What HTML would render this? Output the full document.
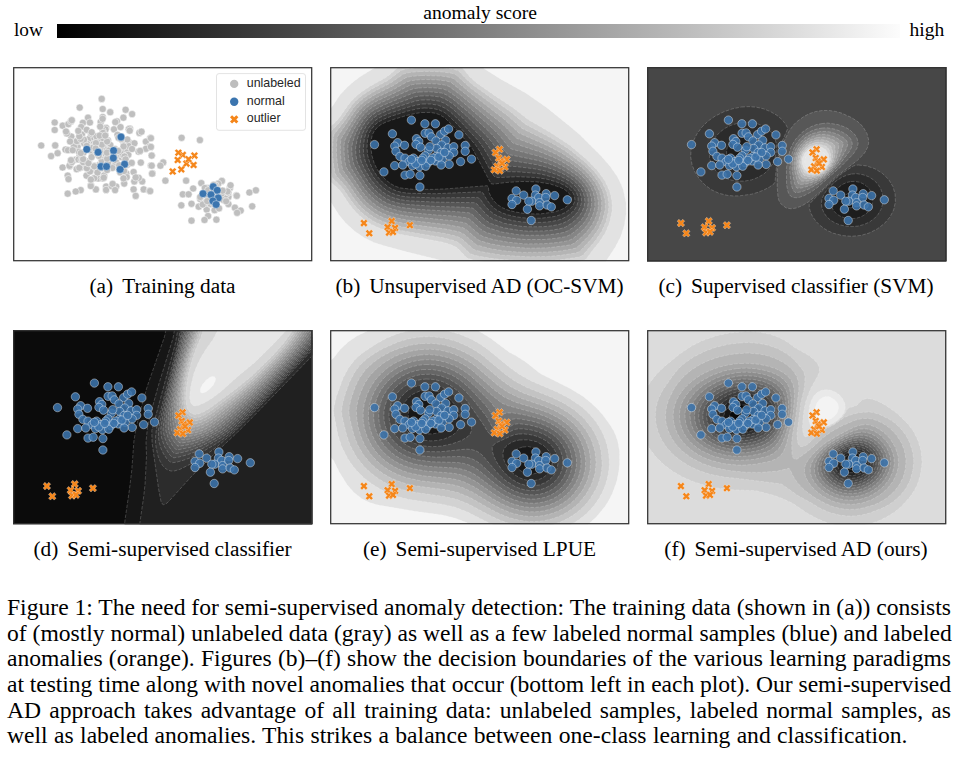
<!DOCTYPE html>
<html><head><meta charset="utf-8">
<style>
html,body{margin:0;padding:0;background:#fff;width:960px;height:760px;overflow:hidden;position:relative}
body{font-family:"Liberation Serif",serif;color:#000}
.t{position:absolute;white-space:nowrap;line-height:1}
.cb{position:absolute;left:57px;top:24px;width:843px;height:14px;background:linear-gradient(to right,#000,#fcfcfc)}
.panel{position:absolute;width:300px;height:195px}
.panel svg{position:absolute;left:0;top:0}
.cap{position:absolute;width:320px;text-align:center;font-size:21.3px;white-space:nowrap;line-height:1}
.g{display:inline-block;width:9px}
.para{position:absolute;left:7px;width:944px;font-size:23.6px;line-height:25.7px}
.ln{display:block;text-align:justify;text-align-last:justify;height:25.7px;white-space:nowrap}
.ln.last{text-align-last:left}
</style></head><body>
<div class="t" style="left:423.3px;top:3.2px;font-size:19.6px">anomaly score</div>
<div class="t" style="left:14px;top:20px;font-size:19.3px">low</div>
<div class="t" style="left:909.5px;top:20px;font-size:19.5px">high</div>
<div class="cb"></div>

<div class="panel" id="pa" style="left:13px;top:67px"><svg width="300" height="195" viewBox="0 0 300 195"><defs><clipPath id="cla"><rect width="299.3" height="194.3"/></clipPath></defs><g clip-path="url(#cla)"><rect width="300" height="195" fill="#fff"/><g fill="#bfbfbf" stroke="#fff" stroke-width="0.5"><circle cx="88.7" cy="31.9" r="3.6"/><circle cx="66.7" cy="40.6" r="3.6"/><circle cx="89.7" cy="42" r="3.6"/><circle cx="89.7" cy="50" r="3.6"/><circle cx="112.6" cy="42.8" r="3.6"/><circle cx="119.1" cy="47.1" r="3.6"/><circle cx="110.4" cy="50.7" r="3.6"/><circle cx="75" cy="50.7" r="3.6"/><circle cx="69.9" cy="55.8" r="3.6"/><circle cx="41.7" cy="55.5" r="3.6"/><circle cx="49.7" cy="58.7" r="3.6"/><circle cx="55.4" cy="57.2" r="3.6"/><circle cx="41.7" cy="63" r="3.6"/><circle cx="103.9" cy="54.3" r="3.6"/><circle cx="93.1" cy="60.9" r="3.6"/><circle cx="101" cy="62.3" r="3.6"/><circle cx="107.5" cy="60.1" r="3.6"/><circle cx="116.9" cy="61.6" r="3.6"/><circle cx="126.4" cy="65.9" r="3.6"/><circle cx="137.2" cy="71" r="3.6"/><circle cx="132.9" cy="74.6" r="3.6"/><circle cx="136.5" cy="79.7" r="3.6"/><circle cx="138.7" cy="88.3" r="3.6"/><circle cx="132.9" cy="81.8" r="3.6"/><circle cx="125.6" cy="84.7" r="3.6"/><circle cx="127.8" cy="95.6" r="3.6"/><circle cx="137.9" cy="98.5" r="3.6"/><circle cx="139.4" cy="106.4" r="3.6"/><circle cx="129.2" cy="114.4" r="3.6"/><circle cx="121.3" cy="114.4" r="3.6"/><circle cx="113.3" cy="106.4" r="3.6"/><circle cx="120.6" cy="105" r="3.6"/><circle cx="111.2" cy="116.6" r="3.6"/><circle cx="120.6" cy="122.4" r="3.6"/><circle cx="122.7" cy="128.9" r="3.6"/><circle cx="130.7" cy="122.4" r="3.6"/><circle cx="136.5" cy="123.8" r="3.6"/><circle cx="103.2" cy="119.5" r="3.6"/><circle cx="93.1" cy="119.5" r="3.6"/><circle cx="82.9" cy="122.4" r="3.6"/><circle cx="77.9" cy="118" r="3.6"/><circle cx="67.7" cy="123.1" r="3.6"/><circle cx="62.7" cy="124.5" r="3.6"/><circle cx="54.7" cy="126.7" r="3.6"/><circle cx="54.7" cy="108.6" r="3.6"/><circle cx="73.5" cy="108.6" r="3.6"/><circle cx="57.6" cy="96.3" r="3.6"/><circle cx="67.7" cy="100.6" r="3.6"/><circle cx="62.7" cy="92.7" r="3.6"/><circle cx="38.1" cy="89.1" r="3.6"/><circle cx="44.6" cy="86.2" r="3.6"/><circle cx="52.5" cy="82.6" r="3.6"/><circle cx="58.3" cy="69.5" r="3.6"/><circle cx="67" cy="66.6" r="3.6"/><circle cx="76.4" cy="71.7" r="3.6"/><circle cx="61.2" cy="78.2" r="3.6"/><circle cx="90" cy="91.8" r="3.6"/><circle cx="84.8" cy="72.8" r="3.6"/><circle cx="81.4" cy="71.1" r="3.6"/><circle cx="91.1" cy="108.4" r="3.6"/><circle cx="80.6" cy="77.1" r="3.6"/><circle cx="99.3" cy="92.7" r="3.6"/><circle cx="92" cy="72.1" r="3.6"/><circle cx="89.4" cy="98.1" r="3.6"/><circle cx="64.5" cy="79.7" r="3.6"/><circle cx="53.9" cy="66.4" r="3.6"/><circle cx="55" cy="83.2" r="3.6"/><circle cx="65.9" cy="91.3" r="3.6"/><circle cx="93" cy="84" r="3.6"/><circle cx="42.2" cy="78.4" r="3.6"/><circle cx="89.1" cy="88.8" r="3.6"/><circle cx="60.9" cy="79.4" r="3.6"/><circle cx="71.4" cy="74.1" r="3.6"/><circle cx="110.2" cy="74.1" r="3.6"/><circle cx="89.4" cy="101.2" r="3.6"/><circle cx="78.9" cy="85.2" r="3.6"/><circle cx="92.1" cy="88" r="3.6"/><circle cx="66.7" cy="88.2" r="3.6"/><circle cx="115.8" cy="62.2" r="3.6"/><circle cx="106.3" cy="88.9" r="3.6"/><circle cx="77.8" cy="119" r="3.6"/><circle cx="104.5" cy="67.8" r="3.6"/><circle cx="91.4" cy="96.2" r="3.6"/><circle cx="86.4" cy="97.9" r="3.6"/><circle cx="88.7" cy="97.7" r="3.6"/><circle cx="117.3" cy="76.2" r="3.6"/><circle cx="93.9" cy="79.6" r="3.6"/><circle cx="92.4" cy="68" r="3.6"/><circle cx="79" cy="83.9" r="3.6"/><circle cx="107.1" cy="105.3" r="3.6"/><circle cx="64.9" cy="74.3" r="3.6"/><circle cx="102.3" cy="55.1" r="3.6"/><circle cx="81.2" cy="85.4" r="3.6"/><circle cx="113.9" cy="98" r="3.6"/><circle cx="83.8" cy="81.1" r="3.6"/><circle cx="85.2" cy="111.4" r="3.6"/><circle cx="81.9" cy="82.1" r="3.6"/><circle cx="96.7" cy="85.1" r="3.6"/><circle cx="86.3" cy="69.2" r="3.6"/><circle cx="89.8" cy="79.9" r="3.6"/><circle cx="112.2" cy="97.4" r="3.6"/><circle cx="89.5" cy="97.7" r="3.6"/><circle cx="83.5" cy="103.8" r="3.6"/><circle cx="89.9" cy="96.3" r="3.6"/><circle cx="65.5" cy="92.5" r="3.6"/><circle cx="57.9" cy="54.4" r="3.6"/><circle cx="84.2" cy="72.6" r="3.6"/><circle cx="93.1" cy="122.9" r="3.6"/><circle cx="74.2" cy="77" r="3.6"/><circle cx="93.9" cy="94.9" r="3.6"/><circle cx="86.6" cy="83.7" r="3.6"/><circle cx="103.3" cy="95.3" r="3.6"/><circle cx="70.4" cy="85.7" r="3.6"/><circle cx="90.7" cy="70.1" r="3.6"/><circle cx="94.9" cy="73.3" r="3.6"/><circle cx="108.5" cy="90.1" r="3.6"/><circle cx="91.7" cy="77.5" r="3.6"/><circle cx="87.7" cy="55" r="3.6"/><circle cx="68.5" cy="92.8" r="3.6"/><circle cx="49.6" cy="100.5" r="3.6"/><circle cx="56.8" cy="99.1" r="3.6"/><circle cx="73.9" cy="99.5" r="3.6"/><circle cx="92.5" cy="62.4" r="3.6"/><circle cx="113.7" cy="110.1" r="3.6"/><circle cx="88.7" cy="82.6" r="3.6"/><circle cx="87" cy="71.4" r="3.6"/><circle cx="110.9" cy="78.3" r="3.6"/><circle cx="89" cy="74.3" r="3.6"/><circle cx="78.1" cy="66.6" r="3.6"/><circle cx="113.9" cy="84.5" r="3.6"/><circle cx="108.4" cy="87.2" r="3.6"/><circle cx="76.8" cy="81.8" r="3.6"/><circle cx="79.4" cy="87.1" r="3.6"/><circle cx="82.9" cy="82.2" r="3.6"/><circle cx="63.8" cy="74.1" r="3.6"/><circle cx="121.4" cy="76.3" r="3.6"/><circle cx="70" cy="92.4" r="3.6"/><circle cx="116.7" cy="63.7" r="3.6"/><circle cx="86" cy="76.9" r="3.6"/><circle cx="56.5" cy="98.8" r="3.6"/><circle cx="89.6" cy="88.1" r="3.6"/><circle cx="75.7" cy="94.3" r="3.6"/><circle cx="79.8" cy="84.7" r="3.6"/><circle cx="68.9" cy="67.5" r="3.6"/><circle cx="115.4" cy="78.9" r="3.6"/><circle cx="95.5" cy="86.5" r="3.6"/><circle cx="81.6" cy="78.9" r="3.6"/><circle cx="102" cy="82.2" r="3.6"/><circle cx="87.1" cy="87.4" r="3.6"/><circle cx="112.4" cy="97.9" r="3.6"/><circle cx="97.3" cy="78" r="3.6"/><circle cx="63.7" cy="102.2" r="3.6"/><circle cx="108.4" cy="84.7" r="3.6"/><circle cx="100.3" cy="99.5" r="3.6"/><circle cx="105.8" cy="101.7" r="3.6"/><circle cx="81.3" cy="111.2" r="3.6"/><circle cx="66.3" cy="100.8" r="3.6"/><circle cx="99.4" cy="101" r="3.6"/><circle cx="125.7" cy="110.8" r="3.6"/><circle cx="68.2" cy="60" r="3.6"/><circle cx="105.5" cy="70.8" r="3.6"/><circle cx="89.8" cy="100.4" r="3.6"/><circle cx="58.8" cy="53.2" r="3.6"/><circle cx="94.9" cy="87.7" r="3.6"/><circle cx="85.3" cy="87.6" r="3.6"/><circle cx="73.7" cy="62.8" r="3.6"/><circle cx="86.8" cy="71.5" r="3.6"/><circle cx="58.8" cy="95.1" r="3.6"/><circle cx="88.8" cy="93.5" r="3.6"/><circle cx="71.2" cy="76.5" r="3.6"/><circle cx="71" cy="72.8" r="3.6"/><circle cx="93.7" cy="74.5" r="3.6"/><circle cx="96.8" cy="92.4" r="3.6"/><circle cx="128.5" cy="64.7" r="3.6"/><circle cx="106.9" cy="85.6" r="3.6"/><circle cx="89.7" cy="63.8" r="3.6"/><circle cx="81.3" cy="98.9" r="3.6"/><circle cx="88.4" cy="88.3" r="3.6"/><circle cx="84.5" cy="105.5" r="3.6"/><circle cx="89.6" cy="51.8" r="3.6"/><circle cx="76.9" cy="55.5" r="3.6"/><circle cx="28.2" cy="78.5" r="3.6"/><circle cx="115.3" cy="87.8" r="3.6"/><circle cx="67.7" cy="71.9" r="3.6"/><circle cx="111.5" cy="89.5" r="3.6"/><circle cx="90.9" cy="86.1" r="3.6"/><circle cx="90.7" cy="99.9" r="3.6"/><circle cx="100.5" cy="90.5" r="3.6"/><circle cx="70.2" cy="95.2" r="3.6"/><circle cx="77" cy="104.5" r="3.6"/><circle cx="65.9" cy="84.8" r="3.6"/><circle cx="89.9" cy="65.8" r="3.6"/><circle cx="122.7" cy="110.4" r="3.6"/><circle cx="81.2" cy="99.3" r="3.6"/><circle cx="97.2" cy="45.2" r="3.6"/><circle cx="94.8" cy="86" r="3.6"/><circle cx="91.6" cy="69.8" r="3.6"/><circle cx="84.9" cy="84.1" r="3.6"/><circle cx="112.6" cy="92.4" r="3.6"/><circle cx="89.9" cy="111.5" r="3.6"/><circle cx="79.5" cy="80.8" r="3.6"/><circle cx="55.5" cy="112.1" r="3.6"/><circle cx="108.3" cy="101.7" r="3.6"/><circle cx="102.7" cy="88.8" r="3.6"/><circle cx="94.1" cy="83" r="3.6"/><circle cx="86.1" cy="87.9" r="3.6"/><circle cx="118.7" cy="95.9" r="3.6"/><circle cx="88.9" cy="77.7" r="3.6"/><circle cx="77.9" cy="112.6" r="3.6"/><circle cx="99.6" cy="88.1" r="3.6"/><circle cx="83.4" cy="69.3" r="3.6"/><circle cx="88.7" cy="101" r="3.6"/><circle cx="82.5" cy="83.4" r="3.6"/><circle cx="85.8" cy="88.8" r="3.6"/><circle cx="59.7" cy="83.2" r="3.6"/><circle cx="73.8" cy="101.2" r="3.6"/><circle cx="75.4" cy="96.2" r="3.6"/><circle cx="119" cy="82" r="3.6"/><circle cx="78.6" cy="90.1" r="3.6"/><circle cx="90" cy="71.1" r="3.6"/><circle cx="98.8" cy="119.2" r="3.6"/><circle cx="85.1" cy="83.8" r="3.6"/><circle cx="70.1" cy="92.1" r="3.6"/><circle cx="66.3" cy="69.3" r="3.6"/><circle cx="114.3" cy="72.5" r="3.6"/><circle cx="110.5" cy="111.4" r="3.6"/><circle cx="94.9" cy="95.9" r="3.6"/><circle cx="127.1" cy="83.9" r="3.6"/><circle cx="78.7" cy="65.3" r="3.6"/><circle cx="90.8" cy="110.7" r="3.6"/><circle cx="108.2" cy="71.9" r="3.6"/><circle cx="73.7" cy="78.9" r="3.6"/><circle cx="95.6" cy="83.7" r="3.6"/><circle cx="94.1" cy="91.7" r="3.6"/><circle cx="84.3" cy="86.4" r="3.6"/><circle cx="93.9" cy="85.7" r="3.6"/><circle cx="99.6" cy="116.9" r="3.6"/><circle cx="101.2" cy="87.9" r="3.6"/><circle cx="58" cy="93.2" r="3.6"/><circle cx="53" cy="64.5" r="3.6"/><circle cx="106.2" cy="98.3" r="3.6"/><circle cx="87.2" cy="59.6" r="3.6"/><circle cx="82.9" cy="76.1" r="3.6"/><circle cx="102.1" cy="123.1" r="3.6"/><circle cx="94.1" cy="74.5" r="3.6"/><circle cx="67.8" cy="86.1" r="3.6"/><circle cx="86.6" cy="68.6" r="3.6"/><circle cx="92.2" cy="68.6" r="3.6"/><circle cx="111.1" cy="104" r="3.6"/><circle cx="110.6" cy="79.4" r="3.6"/><circle cx="99.8" cy="84.9" r="3.6"/><circle cx="82.6" cy="81.6" r="3.6"/><circle cx="65.3" cy="63.9" r="3.6"/><circle cx="105.1" cy="83.9" r="3.6"/><circle cx="94.1" cy="103" r="3.6"/><circle cx="57.1" cy="74.5" r="3.6"/><circle cx="168.6" cy="70.8" r="3.6"/><circle cx="186.9" cy="73.1" r="3.6"/><circle cx="152.4" cy="113.7" r="3.6"/><circle cx="173.1" cy="113.7" r="3.6"/><circle cx="188.3" cy="116.1" r="3.6"/><circle cx="180.2" cy="121.5" r="3.6"/><circle cx="169.8" cy="127.3" r="3.6"/><circle cx="175.6" cy="127.3" r="3.6"/><circle cx="168.3" cy="138.3" r="3.6"/><circle cx="178.5" cy="136.8" r="3.6"/><circle cx="185.7" cy="139.7" r="3.6"/><circle cx="193.7" cy="142.6" r="3.6"/><circle cx="201.6" cy="143.2" r="3.6"/><circle cx="195.1" cy="149" r="3.6"/><circle cx="191.5" cy="153" r="3.6"/><circle cx="203.4" cy="152.7" r="3.6"/><circle cx="178.5" cy="153.7" r="3.6"/><circle cx="208.9" cy="113.9" r="3.6"/><circle cx="216.8" cy="121.2" r="3.6"/><circle cx="223.3" cy="128.4" r="3.6"/><circle cx="215.4" cy="129.9" r="3.6"/><circle cx="215.4" cy="137.1" r="3.6"/><circle cx="221.9" cy="140.7" r="3.6"/><circle cx="227.7" cy="143.6" r="3.6"/><circle cx="224.1" cy="145.8" r="3.6"/><circle cx="236.4" cy="125.5" r="3.6"/><circle cx="242.9" cy="123.3" r="3.6"/><circle cx="239.2" cy="139.3" r="3.6"/><circle cx="187.2" cy="132" r="3.6"/><circle cx="208.9" cy="124.8" r="3.6"/><circle cx="206" cy="141.4" r="3.6"/><circle cx="194.4" cy="121.2" r="3.6"/><circle cx="195.8" cy="132.8" r="3.6"/><circle cx="210.3" cy="132.8" r="3.6"/><circle cx="217.5" cy="118.3" r="3.6"/><circle cx="150.2" cy="95.4" r="3.6"/><circle cx="147.4" cy="98.7" r="3.6"/><circle cx="137.9" cy="71.2" r="3.6"/><circle cx="137.9" cy="79.9" r="3.6"/><circle cx="138.7" cy="88.6" r="3.6"/><circle cx="138.7" cy="98.7" r="3.6"/><circle cx="139.1" cy="106.7" r="3.6"/><circle cx="137.2" cy="124.1" r="3.6"/><circle cx="202.6" cy="132.7" r="3.6"/><circle cx="197.6" cy="137.2" r="3.6"/><circle cx="202.9" cy="121.5" r="3.6"/><circle cx="192.6" cy="135.6" r="3.6"/><circle cx="205.2" cy="116.7" r="3.6"/><circle cx="213.1" cy="134.2" r="3.6"/><circle cx="213.1" cy="127.3" r="3.6"/><circle cx="198.3" cy="122.1" r="3.6"/><circle cx="223.8" cy="128.8" r="3.6"/><circle cx="215.3" cy="125.5" r="3.6"/><circle cx="202.5" cy="118.3" r="3.6"/><circle cx="197.6" cy="136.9" r="3.6"/><circle cx="189.7" cy="137.5" r="3.6"/><circle cx="204" cy="122.7" r="3.6"/><circle cx="196.5" cy="126.8" r="3.6"/><circle cx="200.6" cy="126.2" r="3.6"/><circle cx="193.6" cy="127.9" r="3.6"/><circle cx="191.8" cy="121" r="3.6"/><circle cx="200.6" cy="136.2" r="3.6"/><circle cx="187.2" cy="130" r="3.6"/><circle cx="195.2" cy="123.2" r="3.6"/><circle cx="208.7" cy="126.4" r="3.6"/><circle cx="214.5" cy="124.5" r="3.6"/><circle cx="204.5" cy="128.4" r="3.6"/><circle cx="194.2" cy="134.1" r="3.6"/><circle cx="199.6" cy="134.2" r="3.6"/><circle cx="200.6" cy="122.4" r="3.6"/><circle cx="200.1" cy="130.4" r="3.6"/><circle cx="209.6" cy="123.7" r="3.6"/><circle cx="200.6" cy="117.9" r="3.6"/></g><g fill="#3b75af" stroke="#fff" stroke-width="0.4"><circle cx="108" cy="70" r="3.9"/><circle cx="73.8" cy="82.3" r="3.9"/><circle cx="85.1" cy="85.2" r="3.9"/><circle cx="100.6" cy="83.6" r="3.9"/><circle cx="100.3" cy="91" r="3.9"/><circle cx="88" cy="99.5" r="3.9"/><circle cx="93.5" cy="99.5" r="3.9"/><circle cx="111.6" cy="97.2" r="3.9"/><circle cx="107.1" cy="102.4" r="3.9"/><circle cx="200.2" cy="119.7" r="3.9"/><circle cx="204.2" cy="123.3" r="3.9"/><circle cx="190" cy="126.7" r="3.9"/><circle cx="198" cy="127.7" r="3.9"/><circle cx="205.2" cy="131" r="3.9"/><circle cx="199.9" cy="133.9" r="3.9"/><circle cx="203.1" cy="137.5" r="3.9"/></g><g fill="#f5861a" stroke="#fff" stroke-width="0.4"><path d="M171.7 84.1L173.6 86.0L171.7 87.9L173.6 89.8L171.7 91.7L169.8 89.8L167.9 91.7L166.0 89.8L167.9 87.9L166.0 86.0L167.9 84.1L169.8 86.0Z"/><path d="M166.6 89.2L168.5 91.1L166.6 93.0L168.5 94.9L166.6 96.8L164.7 94.9L162.8 96.8L160.9 94.9L162.8 93.0L160.9 91.1L162.8 89.2L164.7 91.1Z"/><path d="M183.3 84.8L185.2 86.7L183.3 88.6L185.2 90.5L183.3 92.4L181.4 90.5L179.5 92.4L177.6 90.5L179.5 88.6L177.6 86.7L179.5 84.8L181.4 86.7Z"/><path d="M175.3 92.8L177.2 94.7L175.3 96.6L177.2 98.5L175.3 100.4L173.4 98.5L171.5 100.4L169.6 98.5L171.5 96.6L169.6 94.7L171.5 92.8L173.4 94.7Z"/><path d="M182.5 94.2L184.4 96.1L182.5 98.0L184.4 99.9L182.5 101.8L180.6 99.9L178.7 101.8L176.8 99.9L178.7 98.0L176.8 96.1L178.7 94.2L180.6 96.1Z"/><path d="M170.2 98.6L172.1 100.5L170.2 102.4L172.1 104.3L170.2 106.2L168.3 104.3L166.4 106.2L164.5 104.3L166.4 102.4L164.5 100.5L166.4 98.6L168.3 100.5Z"/><path d="M161.6 100.7L163.5 102.6L161.6 104.5L163.5 106.4L161.6 108.3L159.7 106.4L157.8 108.3L155.9 106.4L157.8 104.5L155.9 102.6L157.8 100.7L159.7 102.6Z"/><path d="M167.3 81.9L169.2 83.8L167.3 85.7L169.2 87.6L167.3 89.5L165.4 87.6L163.5 89.5L161.6 87.6L163.5 85.7L161.6 83.8L163.5 81.9L165.4 83.8Z"/><path d="M177.5 88.4L179.4 90.3L177.5 92.2L179.4 94.1L177.5 96.0L175.6 94.1L173.7 96.0L171.8 94.1L173.7 92.2L171.8 90.3L173.7 88.4L175.6 90.3Z"/></g><rect x="203.5" y="6.6" width="89" height="56.7" rx="2.5" fill="#fff" fill-opacity="0.8" stroke="#dcdcdc" stroke-width="0.8"/><circle cx="221.2" cy="16.9" r="4.2" fill="#bdbdbd"/><circle cx="221.2" cy="34.7" r="4.2" fill="#3b75af"/><path d="M223.3 48.2L225.4 50.3L223.3 52.4L225.4 54.5L223.3 56.6L221.2 54.5L219.1 56.6L217.0 54.5L219.1 52.4L217.0 50.3L219.1 48.2L221.2 50.3Z" fill="#f5861a"/><g font-family="Liberation Sans, sans-serif" font-size="12.4" fill="#262626"><text x="233.8" y="20.4">unlabeled</text><text x="233.8" y="38.2">normal</text><text x="233.8" y="55.4">outlier</text></g></g><rect x="0.7" y="0.7" width="298" height="193" fill="none" stroke="#333" stroke-width="1.25"/></svg></div>
<div class="panel" id="pb" style="left:330px;top:67px"><svg width="300" height="195" viewBox="0 0 300 195"><defs><clipPath id="clb"><rect width="299.3" height="194.3"/></clipPath></defs><g clip-path="url(#clb)"><rect width="300" height="195" fill="#f5f5f5"/>
<path d="M86.8 -20L115.5 -20.1L124.5 -19.4L137 -17.4L143.5 -14.8L146.6 -12L150.4 -3L154.5 1.9L172 12.9L196 26.2L216.5 40.6L240 59.4L249.5 67.6L271.1 89L280.2 99.5L287.5 110L291.2 117.5L293.3 123L296 135.5L296.1 147L294.3 158.5L290.7 169.5L285.3 180L276.4 193.5L272.4 204.5L270.2 207.5L267.5 209.1L263 210.6L247.5 213.3L233.5 214.5L200.5 215.6L156.5 214.4L139.5 212.8L127.5 210.5L123.5 209L121 207.5L119.5 205.5L117.8 200.5L116 197.5L113.5 195.2L110 193.3L106 191.9L76.5 184.8L54.5 178.8L44 175.4L34 170.6L24.5 164.1L15.5 155.8L8.7 147.5L1.4 136L-0.7 133.5L-5 130.5L-11.5 127.5L-14 125.4L-16.7 120.5L-18.7 113L-20 101.5L-20.6 88.5L-20.1 74L-19.2 65.5L-17.4 57L-15 51.5L-12 48.6L-5 45.9L-1 43.2L2.3 39.5L9.9 28L17.5 19.9L23.5 14.7L30.5 9.6L46.8 -0.5L50.5 -4.5L55.3 -11.5L57.5 -13.5L62 -15.9L68.5 -17.7L77 -19.1L86.8 -20Z" fill="#e2e2e2"/>
<path d="M87.9 -3.5L100.5 -3.7L114 -3.3L125.5 -1.8L131 -0.2L133 1.5L139.5 9.6L146 15.5L166 29.5L183.4 41L198 52.5L220 65.3L239.5 78.1L257 92.8L267.4 103.5L274.7 113.5L279.4 123.5L280.8 128.5L281.9 134.5L282.2 140L282 144.5L279.6 155.5L275.5 165.5L269.5 174.8L262.4 183.5L256 192.3L254 193.4L250.5 194.3L231.5 197L218.5 197.9L197.5 198.4L170.5 197L158.5 195.7L143.5 193.1L137 191.1L127.5 181.1L124.1 179L119 177L112 175.1L70 167.2L57 163.7L48 160.6L41.5 157.4L34.9 153L28.5 147.8L23.5 142.5L18.1 135.5L10.8 124.5L6.5 120L-0.2 114.5L-2.1 111.5L-4.2 99.5L-5.1 87.5L-4.4 70.5L-2.9 63L-1.5 61L5 55.6L9 51.2L17.8 38.5L21.5 33.9L26.5 29L31.5 25L40 19.3L55.5 10.8L60 7.4L68.5 -0.2L75.5 -2.1L87.9 -3.5Z" fill="#d2d2d2"/>
<path d="M88.9 0.5L101.5 0.3L113.5 0.8L124 2.3L128.5 3.8L136.7 12.5L143 18.1L180.7 45L195 56.9L224 72.6L239.5 82.5L255.5 95.6L264.7 105L271.7 114.5L276.2 124L277.6 129L278.5 134.5L278.8 139.5L278.5 144L276.1 154.5L271.9 164L265.5 173.4L253 188.1L251 189.3L247.5 190.2L231 192.7L218 193.6L197.5 194.1L171 192.5L159.5 191.1L147.5 188.9L142.5 187.6L140 186.5L130 176.7L127 174.8L123 173.3L113.5 170.8L72 163.7L60 160.7L51 157.8L44.5 154.8L38 150.7L31 145.1L26.1 140L20.7 133L13.5 122.2L9.5 117.7L3 111.6L1.5 109L-0.3 98.5L-1.2 87L-0.7 71.5L0.4 65.5L1.7 63.5L7.5 57.8L12 52.4L22.8 37L27.5 32.2L33 27.8L41.9 22L57.9 13.5L71 3.4L77 1.8L88.9 0.5Z" fill="#c3c3c3"/>
<path d="M90.1 4.5L101.5 4.4L112.5 5L122 6.3L126 7.8L140.5 21.1L177.3 48.5L192 61.4L220 75.1L234.5 83.4L251 95.8L256.5 100.6L262 106.4L268.7 115.5L272.9 124.5L275.1 134L275.3 139L275 143.5L272.5 153.5L268.3 162.5L262 171.3L250.5 183.7L248.5 185L245.5 186L230.5 188.3L217.5 189.4L198 189.8L172.5 188.2L154.5 185.3L146.7 183.5L143.5 182.3L132 172L129.5 170.4L125.6 169L115 166.5L73.5 160.2L62 157.4L53 154.6L46.5 151.7L41 148.3L34.1 143L29.2 138L23.6 131L16.3 120L6.9 109.5L5.1 106.5L3.6 98L2.6 87L3 72.5L4 67.5L15 53.5L24 40.3L29 35L34.5 30.5L43.5 24.8L60.5 16.1L73.5 7L79 5.6L90.1 4.5Z" fill="#b4b4b4"/>
<path d="M91.5 8.5L111.5 9.1L120 10.4L123.5 11.6L139.5 25.3L174.5 52.5L189 66.1L217 78.4L232 86.2L247.5 96.9L254 102.4L259 107.6L265.5 116L269.6 124.5L271.7 133.5L271.6 142.5L269.1 152L265 160.5L258.5 169L248.5 179L245.5 181.1L241 182.2L230 184L215.5 185.2L192.5 185.4L173.5 183.8L160.5 181.7L146.5 177.9L134 167.2L129 164.8L116 162.1L75 156.6L64.5 154.3L55.5 151.6L49 148.8L43.5 145.6L37 140.6L32 135.7L26.5 129L19.5 118.4L10.5 107.3L8.9 104.5L7.5 97.5L6.5 87L6.7 74.5L7.6 69.5L25.5 43.3L30.5 37.8L36 33.3L45 27.7L62.6 19L75.5 10.9L80.5 9.6L91.5 8.5Z" fill="#a4a4a4"/>
<path d="M86.4 13L94.5 12.5L107.5 12.9L116.3 14L121 15.4L170 55.1L176.5 61L186.5 71.3L210.5 80.3L226.5 87.5L240.5 95.8L251.5 104.2L258.9 112L263.4 118.5L266.9 126.5L268.3 134L268.2 141.5L265.9 150L262.3 157.5L257 164.6L252.2 169.5L244.5 176.1L241.5 177.5L236 178.6L217.5 180.8L198 181.2L174.5 179.3L160.5 176.8L149.5 173.6L146.5 171.6L136 162.4L132.5 160.5L118 157.8L77 153L65.5 150.7L57 148.2L50.7 145.5L45 142.1L38.5 137.1L33.9 132.5L29.5 127L12.8 103L11.5 97.5L10.4 87L10.4 76.5L11.2 71.5L26.5 47L31 41.6L35.5 37.6L45.5 31.1L64 22.3L77 14.9L80.5 13.8L86.4 13Z" fill="#949494"/>
<path d="M87.4 17L95.5 16.6L106.5 16.9L114.5 18L119 19.4L130.5 28L166 58L173.3 65L181.5 74.6L183.5 76.3L210 84.9L223.5 90.3L229.5 93.2L238 98.2L249 106.1L255.9 113L260 118.7L263.2 125.5L264.8 132.5L264.9 139.5L263.3 146.5L260 153.9L255.5 160.2L250 165.8L243 171.4L240 173L235.5 174.2L227 175.6L213.5 176.7L195 176.9L178.5 175.3L163 172.5L152.5 169.3L148.8 167L137.5 157.2L134.5 155.7L122.5 153.7L78.5 149.3L68.5 147.6L60 145.3L54 143L48 139.7L41.5 134.8L36.5 130L31.7 124L16.5 101L15.2 96L14.1 86L14.1 77.5L15 73L20.6 62L27.5 50.8L32 45L37 40.3L42 36.8L47.5 33.7L65.7 25.5L79 18.7L82.5 17.6L87.4 17Z" fill="#858585"/>
<path d="M88.4 21L97 20.6L106 21L113.5 22.1L117.5 23.6L129.5 32.2L162.2 61L169.6 68.5L178.3 79.5L180.4 81.5L183 82.5L208.5 89.1L220.5 93.3L227.5 96.3L235.5 100.6L247 108.4L253.2 114.5L256.9 119.5L259.8 125.5L261.4 131.5L261.6 137.5L260.4 143.5L257.5 150.5L253.8 156L248.5 161.5L242.5 166.2L238.5 168.6L234.5 169.9L226.5 171.2L214 172.5L196 172.6L184 171.5L169.5 169.2L162 167.3L155 164.9L150.5 162L139.5 152.1L137 150.9L123 149L106.5 148L79.5 145.5L70.5 144.2L63 142.3L56.4 140L50.5 136.9L44.5 132.6L39 127.3L34 121.2L23.8 105.5L20.1 99L18.5 91L17.8 81.5L18.2 76.5L19.9 71.5L24 62.5L29.6 53L34.3 47L39.5 42.3L44 39.3L50 36.1L80 22.9L83.5 21.7L88.4 21Z" fill="#767676"/>
<path d="M89.3 25L100.5 24.8L111.5 26L116 27.7L123 32.2L138.8 45.5L159.5 65L165.9 72L175 84.5L177.5 86.9L180 87.8L207.5 93.4L218.5 96.7L226 99.6L233.5 103.3L239 106.5L244.8 110.5L250.1 115.5L253.7 120L256.5 125.5L258 131L258.2 136L257.3 141.5L254.8 147.5L251.6 152.5L248 156.4L242.5 160.9L237.5 164L233 165.6L225.5 167L214.5 168.2L197 168.3L188.5 167.7L172 165.1L158 160.7L152.2 157L142 147.3L139 145.8L123.5 144.4L90 142.5L72 140.6L65 139L58.5 136.9L53 134.1L47.2 130L41.5 124.7L36.1 118L27.8 105L23.7 97L22.1 89L21.7 80.5L22.6 75.5L25.2 67.5L28.5 60.5L33.5 52.6L38.1 47.5L43.2 43.5L54 37.9L80 27.3L84.5 25.7L89.3 25Z" fill="#666666"/>
<path d="M90.3 29L100.5 28.8L110.5 30.1L115.5 32.2L123 37L136.5 49L156.2 68.5L162.1 75.5L172.3 90.5L174.5 92.5L177 93.2L186.5 94.4L206.5 97.7L216.5 100.2L224 102.8L231 105.8L237 109L242.5 112.6L246.9 116.5L250.5 120.7L252.9 125L254.5 130L254.9 134.5L254.1 139.5L252.2 144.5L249.5 148.8L246 152.7L241 156.7L235.5 160L231 161.5L222.5 163.1L214 163.9L197.5 164.1L190 163.5L173 160.7L160.5 156.4L155 152.9L144.5 142.3L142 140.9L131 140.1L105 139.4L75.5 137.3L68 136L61 133.9L55.5 131.2L50 127.5L44 122.1L38.5 115.3L31.2 103.5L27.2 95L25.9 88L25.6 81L27.3 72L29.5 65.5L32.8 59L36.5 53.7L41 49L46 45.4L57 40.2L75.5 33.2L85 29.9L90.3 29Z" fill="#565656"/>
<path d="M91.4 33L100.5 32.9L109 34.1L114.5 36.3L121.7 41L133.2 51.5L152.5 71.5L158 78.5L169 95.9L171.5 98.2L174 98.9L186.5 99.6L204.5 101.8L214.5 103.8L222.5 106.1L228.5 108.4L235 111.5L240.6 115L244.1 118L247.7 122L249.8 125.5L251.1 129.5L251.5 133.5L251 137.5L249.5 141.6L247.2 145.5L243.5 149.5L239 153L234 155.7L229 157.5L220.5 159L213 159.7L198 159.8L191 159.3L174.5 156.4L162.5 151.9L156.5 147.7L147 137L144.5 135.7L105.5 135.1L77 133.7L70 132.6L63.5 130.8L58 128.4L53 125.2L47 120L41 112.8L34.5 102L31 94L29.8 88L29.4 82L30.8 72L32.9 65.5L36 59.5L39.3 55L43.4 51L48.5 47.6L58.5 43.1L75 37.3L85.5 34L91.4 33Z" fill="#474747"/>
<path d="M92.7 37L100.5 37L108.5 38.3L115 41.2L120.4 45L130.4 54.5L148.9 74.5L153.9 81.5L165.5 101.1L168.3 104L171 104.6L189 104.9L206 106.3L212.5 107.4L226 111.1L233.5 114.3L238.5 117.3L244.7 123L246.6 126L247.7 129L248.2 132L248 135L246.9 138.5L245 142L242 145.5L237.5 149L232.5 151.6L227.5 153.3L220 154.7L212.5 155.4L198.5 155.5L192 155L183.5 153.8L176 152.1L170.5 150.2L164.6 147.5L158.5 142.8L154.7 138.5L150 131.8L147.5 130.4L105.5 130.9L78.5 130L71.5 129.1L65.5 127.6L60.5 125.5L56 122.8L49.6 117.5L44 110.9L38.6 102L35.2 94L33.7 88L33.3 81.5L34.3 72L36.2 65.5L38.9 60.5L42.5 56L46 52.9L50.8 50L60 46.1L76 40.8L86 38.1L92.7 37Z" fill="#383838"/>
<path d="M94.2 41L102.5 41.4L109 42.9L115 45.8L120 50L127.5 57.4L145.6 78L149.7 84L161.5 105.5L163.5 108.5L165 109.9L168 110.6L187 109.7L206 110.5L217.5 112.3L227.5 115.3L232.7 117.5L237 120L240.5 122.9L243.1 126L244.5 129.2L244.9 132.5L244.3 135.5L242.5 139.1L239.5 142.5L235.5 145.4L230.5 147.7L225 149.4L211.5 151.2L199 151.2L192.5 150.7L184.5 149.5L177.5 147.8L172 145.8L167 143.3L163.5 140.7L160.8 138L157 133L153 126L151 124.8L105.5 126.7L79.5 126.3L72.5 125.5L67.5 124.3L63 122.6L58.5 120L52.5 115.2L47.3 109.5L43.1 103L39.7 95.5L37.7 88.5L37 81L37.5 72.5L39.3 66L41.9 61.5L45.3 57.5L49 54.6L53.5 52.3L61.9 49L77.5 44.1L87 41.9L94.2 41Z" fill="#282828"/>
<path d="M91.7 45.5L100 45.4L105 46.2L109.1 47.5L114.5 50.6L122.2 58L137.6 75.5L143 82.6L161 116.7L163.5 117.1L176 115.5L191.5 114.5L206.5 114.8L220.5 117L231 120.6L235.2 123L238.3 125.5L240.2 128L241.1 130.5L241.1 133L239.8 136L237.5 138.8L233.5 141.6L229.1 143.5L223.5 145.1L210.5 146.9L200 146.9L193.5 146.3L185.3 145L178 143.1L172.5 140.8L168 138L164.5 134.7L160.9 129.5L158.9 125L158.3 119.5L157 118.7L115.5 121.9L103.5 122.4L82.5 122.3L70.7 121L66 119.5L62 117.5L56.5 113.5L51 107.9L47 102L44.1 96L41.9 88.5L40.8 80.5L41 73.3L42.4 67.5L44.5 63.7L47.5 60.2L50.5 57.9L55 55.5L63 52.6L76.5 48.5L85 46.5L91.7 45.5Z" fill="#181818"/>
<path d="M86.8 -20L115.5 -20.1L124.5 -19.4L137 -17.4L143.5 -14.8L146.6 -12L150.4 -3L154.5 1.9L172 12.9L196 26.2L216.5 40.6L240 59.4L249.5 67.6L271.1 89L280.2 99.5L287.5 110L291.2 117.5L293.3 123L296 135.5L296.1 147L294.3 158.5L290.7 169.5L285.3 180L276.4 193.5L272.4 204.5L270.2 207.5L267.5 209.1L263 210.6L247.5 213.3L233.5 214.5L200.5 215.6L156.5 214.4L139.5 212.8L127.5 210.5L123.5 209L121 207.5L119.5 205.5L117.8 200.5L116 197.5L113.5 195.2L110 193.3L106 191.9L76.5 184.8L54.5 178.8L44 175.4L34 170.6L24.5 164.1L15.5 155.8L8.7 147.5L1.4 136L-0.7 133.5L-5 130.5L-11.5 127.5L-14 125.4L-16.7 120.5L-18.7 113L-20 101.5L-20.6 88.5L-20.1 74L-19.2 65.5L-17.4 57L-15 51.5L-12 48.6L-5 45.9L-1 43.2L2.3 39.5L9.9 28L17.5 19.9L23.5 14.7L30.5 9.6L46.8 -0.5L50.5 -4.5L55.3 -11.5L57.5 -13.5L62 -15.9L68.5 -17.7L77 -19.1L86.8 -20M87.9 -3.5L100.5 -3.7L114 -3.3L125.5 -1.8L131 -0.2L133 1.5L139.5 9.6L146 15.5L166 29.5L183.4 41L198 52.5L220 65.3L239.5 78.1L257 92.8L267.4 103.5L274.7 113.5L279.4 123.5L280.8 128.5L281.9 134.5L282.2 140L282 144.5L279.6 155.5L275.5 165.5L269.5 174.8L262.4 183.5L256 192.3L254 193.4L250.5 194.3L231.5 197L218.5 197.9L197.5 198.4L170.5 197L158.5 195.7L143.5 193.1L137 191.1L127.5 181.1L124.1 179L119 177L112 175.1L70 167.2L57 163.7L48 160.6L41.5 157.4L34.9 153L28.5 147.8L23.5 142.5L18.1 135.5L10.8 124.5L6.5 120L-0.2 114.5L-2.1 111.5L-4.2 99.5L-5.1 87.5L-4.4 70.5L-2.9 63L-1.5 61L5 55.6L9 51.2L17.8 38.5L21.5 33.9L26.5 29L31.5 25L40 19.3L55.5 10.8L60 7.4L68.5 -0.2L75.5 -2.1L87.9 -3.5M88.9 0.5L101.5 0.3L113.5 0.8L124 2.3L128.5 3.8L136.7 12.5L143 18.1L180.7 45L195 56.9L224 72.6L239.5 82.5L255.5 95.6L264.7 105L271.7 114.5L276.2 124L277.6 129L278.5 134.5L278.8 139.5L278.5 144L276.1 154.5L271.9 164L265.5 173.4L253 188.1L251 189.3L247.5 190.2L231 192.7L218 193.6L197.5 194.1L171 192.5L159.5 191.1L147.5 188.9L142.5 187.6L140 186.5L130 176.7L127 174.8L123 173.3L113.5 170.8L72 163.7L60 160.7L51 157.8L44.5 154.8L38 150.7L31 145.1L26.1 140L20.7 133L13.5 122.2L9.5 117.7L3 111.6L1.5 109L-0.3 98.5L-1.2 87L-0.7 71.5L0.4 65.5L1.7 63.5L7.5 57.8L12 52.4L22.8 37L27.5 32.2L33 27.8L41.9 22L57.9 13.5L71 3.4L77 1.8L88.9 0.5M90.1 4.5L101.5 4.4L112.5 5L122 6.3L126 7.8L140.5 21.1L177.3 48.5L192 61.4L220 75.1L234.5 83.4L251 95.8L256.5 100.6L262 106.4L268.7 115.5L272.9 124.5L275.1 134L275.3 139L275 143.5L272.5 153.5L268.3 162.5L262 171.3L250.5 183.7L248.5 185L245.5 186L230.5 188.3L217.5 189.4L198 189.8L172.5 188.2L154.5 185.3L146.7 183.5L143.5 182.3L132 172L129.5 170.4L125.6 169L115 166.5L73.5 160.2L62 157.4L53 154.6L46.5 151.7L41 148.3L34.1 143L29.2 138L23.6 131L16.3 120L6.9 109.5L5.1 106.5L3.6 98L2.6 87L3 72.5L4 67.5L15 53.5L24 40.3L29 35L34.5 30.5L43.5 24.8L60.5 16.1L73.5 7L79 5.6L90.1 4.5M91.5 8.5L111.5 9.1L120 10.4L123.5 11.6L139.5 25.3L174.5 52.5L189 66.1L217 78.4L232 86.2L247.5 96.9L254 102.4L259 107.6L265.5 116L269.6 124.5L271.7 133.5L271.6 142.5L269.1 152L265 160.5L258.5 169L248.5 179L245.5 181.1L241 182.2L230 184L215.5 185.2L192.5 185.4L173.5 183.8L160.5 181.7L146.5 177.9L134 167.2L129 164.8L116 162.1L75 156.6L64.5 154.3L55.5 151.6L49 148.8L43.5 145.6L37 140.6L32 135.7L26.5 129L19.5 118.4L10.5 107.3L8.9 104.5L7.5 97.5L6.5 87L6.7 74.5L7.6 69.5L25.5 43.3L30.5 37.8L36 33.3L45 27.7L62.6 19L75.5 10.9L80.5 9.6L91.5 8.5M86.4 13L94.5 12.5L107.5 12.9L116.3 14L121 15.4L170 55.1L176.5 61L186.5 71.3L210.5 80.3L226.5 87.5L240.5 95.8L251.5 104.2L258.9 112L263.4 118.5L266.9 126.5L268.3 134L268.2 141.5L265.9 150L262.3 157.5L257 164.6L252.2 169.5L244.5 176.1L241.5 177.5L236 178.6L217.5 180.8L198 181.2L174.5 179.3L160.5 176.8L149.5 173.6L146.5 171.6L136 162.4L132.5 160.5L118 157.8L77 153L65.5 150.7L57 148.2L50.7 145.5L45 142.1L38.5 137.1L33.9 132.5L29.5 127L12.8 103L11.5 97.5L10.4 87L10.4 76.5L11.2 71.5L26.5 47L31 41.6L35.5 37.6L45.5 31.1L64 22.3L77 14.9L80.5 13.8L86.4 13M87.4 17L95.5 16.6L106.5 16.9L114.5 18L119 19.4L130.5 28L166 58L173.3 65L181.5 74.6L183.5 76.3L210 84.9L223.5 90.3L229.5 93.2L238 98.2L249 106.1L255.9 113L260 118.7L263.2 125.5L264.8 132.5L264.9 139.5L263.3 146.5L260 153.9L255.5 160.2L250 165.8L243 171.4L240 173L235.5 174.2L227 175.6L213.5 176.7L195 176.9L178.5 175.3L163 172.5L152.5 169.3L148.8 167L137.5 157.2L134.5 155.7L122.5 153.7L78.5 149.3L68.5 147.6L60 145.3L54 143L48 139.7L41.5 134.8L36.5 130L31.7 124L16.5 101L15.2 96L14.1 86L14.1 77.5L15 73L20.6 62L27.5 50.8L32 45L37 40.3L42 36.8L47.5 33.7L65.7 25.5L79 18.7L82.5 17.6L87.4 17M88.4 21L97 20.6L106 21L113.5 22.1L117.5 23.6L129.5 32.2L162.2 61L169.6 68.5L178.3 79.5L180.4 81.5L183 82.5L208.5 89.1L220.5 93.3L227.5 96.3L235.5 100.6L247 108.4L253.2 114.5L256.9 119.5L259.8 125.5L261.4 131.5L261.6 137.5L260.4 143.5L257.5 150.5L253.8 156L248.5 161.5L242.5 166.2L238.5 168.6L234.5 169.9L226.5 171.2L214 172.5L196 172.6L184 171.5L169.5 169.2L162 167.3L155 164.9L150.5 162L139.5 152.1L137 150.9L123 149L106.5 148L79.5 145.5L70.5 144.2L63 142.3L56.4 140L50.5 136.9L44.5 132.6L39 127.3L34 121.2L23.8 105.5L20.1 99L18.5 91L17.8 81.5L18.2 76.5L19.9 71.5L24 62.5L29.6 53L34.3 47L39.5 42.3L44 39.3L50 36.1L80 22.9L83.5 21.7L88.4 21M89.3 25L100.5 24.8L111.5 26L116 27.7L123 32.2L138.8 45.5L159.5 65L165.9 72L175 84.5L177.5 86.9L180 87.8L207.5 93.4L218.5 96.7L226 99.6L233.5 103.3L239 106.5L244.8 110.5L250.1 115.5L253.7 120L256.5 125.5L258 131L258.2 136L257.3 141.5L254.8 147.5L251.6 152.5L248 156.4L242.5 160.9L237.5 164L233 165.6L225.5 167L214.5 168.2L197 168.3L188.5 167.7L172 165.1L158 160.7L152.2 157L142 147.3L139 145.8L123.5 144.4L90 142.5L72 140.6L65 139L58.5 136.9L53 134.1L47.2 130L41.5 124.7L36.1 118L27.8 105L23.7 97L22.1 89L21.7 80.5L22.6 75.5L25.2 67.5L28.5 60.5L33.5 52.6L38.1 47.5L43.2 43.5L54 37.9L80 27.3L84.5 25.7L89.3 25M90.3 29L100.5 28.8L110.5 30.1L115.5 32.2L123 37L136.5 49L156.2 68.5L162.1 75.5L172.3 90.5L174.5 92.5L177 93.2L186.5 94.4L206.5 97.7L216.5 100.2L224 102.8L231 105.8L237 109L242.5 112.6L246.9 116.5L250.5 120.7L252.9 125L254.5 130L254.9 134.5L254.1 139.5L252.2 144.5L249.5 148.8L246 152.7L241 156.7L235.5 160L231 161.5L222.5 163.1L214 163.9L197.5 164.1L190 163.5L173 160.7L160.5 156.4L155 152.9L144.5 142.3L142 140.9L131 140.1L105 139.4L75.5 137.3L68 136L61 133.9L55.5 131.2L50 127.5L44 122.1L38.5 115.3L31.2 103.5L27.2 95L25.9 88L25.6 81L27.3 72L29.5 65.5L32.8 59L36.5 53.7L41 49L46 45.4L57 40.2L75.5 33.2L85 29.9L90.3 29M91.4 33L100.5 32.9L109 34.1L114.5 36.3L121.7 41L133.2 51.5L152.5 71.5L158 78.5L169 95.9L171.5 98.2L174 98.9L186.5 99.6L204.5 101.8L214.5 103.8L222.5 106.1L228.5 108.4L235 111.5L240.6 115L244.1 118L247.7 122L249.8 125.5L251.1 129.5L251.5 133.5L251 137.5L249.5 141.6L247.2 145.5L243.5 149.5L239 153L234 155.7L229 157.5L220.5 159L213 159.7L198 159.8L191 159.3L174.5 156.4L162.5 151.9L156.5 147.7L147 137L144.5 135.7L105.5 135.1L77 133.7L70 132.6L63.5 130.8L58 128.4L53 125.2L47 120L41 112.8L34.5 102L31 94L29.8 88L29.4 82L30.8 72L32.9 65.5L36 59.5L39.3 55L43.4 51L48.5 47.6L58.5 43.1L75 37.3L85.5 34L91.4 33M92.7 37L100.5 37L108.5 38.3L115 41.2L120.4 45L130.4 54.5L148.9 74.5L153.9 81.5L165.5 101.1L168.3 104L171 104.6L189 104.9L206 106.3L212.5 107.4L226 111.1L233.5 114.3L238.5 117.3L244.7 123L246.6 126L247.7 129L248.2 132L248 135L246.9 138.5L245 142L242 145.5L237.5 149L232.5 151.6L227.5 153.3L220 154.7L212.5 155.4L198.5 155.5L192 155L183.5 153.8L176 152.1L170.5 150.2L164.6 147.5L158.5 142.8L154.7 138.5L150 131.8L147.5 130.4L105.5 130.9L78.5 130L71.5 129.1L65.5 127.6L60.5 125.5L56 122.8L49.6 117.5L44 110.9L38.6 102L35.2 94L33.7 88L33.3 81.5L34.3 72L36.2 65.5L38.9 60.5L42.5 56L46 52.9L50.8 50L60 46.1L76 40.8L86 38.1L92.7 37M94.2 41L102.5 41.4L109 42.9L115 45.8L120 50L127.5 57.4L145.6 78L149.7 84L161.5 105.5L163.5 108.5L165 109.9L168 110.6L187 109.7L206 110.5L217.5 112.3L227.5 115.3L232.7 117.5L237 120L240.5 122.9L243.1 126L244.5 129.2L244.9 132.5L244.3 135.5L242.5 139.1L239.5 142.5L235.5 145.4L230.5 147.7L225 149.4L211.5 151.2L199 151.2L192.5 150.7L184.5 149.5L177.5 147.8L172 145.8L167 143.3L163.5 140.7L160.8 138L157 133L153 126L151 124.8L105.5 126.7L79.5 126.3L72.5 125.5L67.5 124.3L63 122.6L58.5 120L52.5 115.2L47.3 109.5L43.1 103L39.7 95.5L37.7 88.5L37 81L37.5 72.5L39.3 66L41.9 61.5L45.3 57.5L49 54.6L53.5 52.3L61.9 49L77.5 44.1L87 41.9L94.2 41M91.7 45.5L100 45.4L105 46.2L109.1 47.5L114.5 50.6L122.2 58L137.6 75.5L143 82.6L161 116.7L163.5 117.1L176 115.5L191.5 114.5L206.5 114.8L220.5 117L231 120.6L235.2 123L238.3 125.5L240.2 128L241.1 130.5L241.1 133L239.8 136L237.5 138.8L233.5 141.6L229.1 143.5L223.5 145.1L210.5 146.9L200 146.9L193.5 146.3L185.3 145L178 143.1L172.5 140.8L168 138L164.5 134.7L160.9 129.5L158.9 125L158.3 119.5L157 118.7L115.5 121.9L103.5 122.4L82.5 122.3L70.7 121L66 119.5L62 117.5L56.5 113.5L51 107.9L47 102L44.1 96L41.9 88.5L40.8 80.5L41 73.3L42.4 67.5L44.5 63.7L47.5 60.2L50.5 57.9L55 55.5L63 52.6L76.5 48.5L85 46.5L91.7 45.5" fill="none" stroke="#fff" stroke-opacity="0.4" stroke-width="0.5" stroke-dasharray="3.5 1.5"/><g fill="#3b73ab" fill-opacity="0.88" stroke="#fff" stroke-opacity="0.65" stroke-width="0.6"><circle cx="81.4" cy="53.1" r="4.2"/><circle cx="94.9" cy="56.8" r="4.2"/><circle cx="105.4" cy="56.8" r="4.2"/><circle cx="62.4" cy="66.8" r="4.2"/><circle cx="44.5" cy="77.6" r="4.2"/><circle cx="95.1" cy="66.3" r="4.2"/><circle cx="99.1" cy="65.9" r="4.2"/><circle cx="101.4" cy="69.9" r="4.2"/><circle cx="110.6" cy="67.6" r="4.2"/><circle cx="114.6" cy="64.2" r="4.2"/><circle cx="118.6" cy="61.9" r="4.2"/><circle cx="128.9" cy="67.9" r="4.2"/><circle cx="86.5" cy="71.7" r="4.2"/><circle cx="88.8" cy="74.5" r="4.2"/><circle cx="85.9" cy="77.4" r="4.2"/><circle cx="90.5" cy="80.2" r="4.2"/><circle cx="67.6" cy="75.7" r="4.2"/><circle cx="64.7" cy="79.1" r="4.2"/><circle cx="74.5" cy="78.3" r="4.2"/><circle cx="65.9" cy="84.3" r="4.2"/><circle cx="69.9" cy="89.4" r="4.2"/><circle cx="75" cy="91.1" r="4.2"/><circle cx="106" cy="73.9" r="4.2"/><circle cx="115.7" cy="73.4" r="4.2"/><circle cx="111.7" cy="78" r="4.2"/><circle cx="106.6" cy="81.4" r="4.2"/><circle cx="98.5" cy="83.1" r="4.2"/><circle cx="118" cy="80.8" r="4.2"/><circle cx="123.7" cy="79.7" r="4.2"/><circle cx="123.7" cy="85.4" r="4.2"/><circle cx="135.2" cy="78.5" r="4.2"/><circle cx="135.2" cy="84.3" r="4.2"/><circle cx="111.1" cy="85.4" r="4.2"/><circle cx="106" cy="89.4" r="4.2"/><circle cx="95.1" cy="88.8" r="4.2"/><circle cx="83.6" cy="91.1" r="4.2"/><circle cx="79.1" cy="94.6" r="4.2"/><circle cx="88.2" cy="94.6" r="4.2"/><circle cx="98" cy="95.7" r="4.2"/><circle cx="105.4" cy="94" r="4.2"/><circle cx="112.3" cy="92.3" r="4.2"/><circle cx="119.2" cy="88.8" r="4.2"/><circle cx="119.2" cy="97.4" r="4.2"/><circle cx="111.1" cy="98" r="4.2"/><circle cx="130.6" cy="94.6" r="4.2"/><circle cx="141.5" cy="92.1" r="4.2"/><circle cx="64.7" cy="98.6" r="4.2"/><circle cx="72.8" cy="98" r="4.2"/><circle cx="82.5" cy="98.6" r="4.2"/><circle cx="89.4" cy="99.7" r="4.2"/><circle cx="95.7" cy="99.2" r="4.2"/><circle cx="53.9" cy="104.9" r="4.2"/><circle cx="75" cy="108.1" r="4.2"/><circle cx="80.2" cy="107.2" r="4.2"/><circle cx="89.9" cy="108.6" r="4.2"/><circle cx="89.9" cy="120" r="4.2"/><circle cx="92.8" cy="91.1" r="4.2"/><circle cx="102.5" cy="91.1" r="4.2"/><circle cx="99.7" cy="79.7" r="4.2"/><circle cx="85.9" cy="96.9" r="4.2"/><circle cx="91.7" cy="93.4" r="4.2"/><circle cx="100.8" cy="93.4" r="4.2"/><circle cx="108.9" cy="90" r="4.2"/><circle cx="114.6" cy="85.4" r="4.2"/><circle cx="81.4" cy="92.3" r="4.2"/><circle cx="186.2" cy="123.9" r="4.2"/><circle cx="193.7" cy="128.1" r="4.2"/><circle cx="182" cy="131.4" r="4.2"/><circle cx="186.7" cy="133.3" r="4.2"/><circle cx="182" cy="137.5" r="4.2"/><circle cx="205.9" cy="122" r="4.2"/><circle cx="205.4" cy="128.1" r="4.2"/><circle cx="208.7" cy="130.5" r="4.2"/><circle cx="201.7" cy="134.2" r="4.2"/><circle cx="198.8" cy="134.2" r="4.2"/><circle cx="209.6" cy="135.6" r="4.2"/><circle cx="209.6" cy="138.9" r="4.2"/><circle cx="216.2" cy="126.7" r="4.2"/><circle cx="215.7" cy="130.5" r="4.2"/><circle cx="224.6" cy="128.6" r="4.2"/><circle cx="217.1" cy="138" r="4.2"/><circle cx="221.3" cy="139.9" r="4.2"/><circle cx="197.4" cy="142.2" r="4.2"/><circle cx="201.2" cy="153.5" r="4.2"/><circle cx="237.3" cy="132.8" r="4.2"/></g><g fill="#f5861a" stroke="#fff" stroke-opacity="0.6" stroke-width="0.5"><path d="M171.5 78.5L173.4 80.4L171.5 82.3L173.4 84.2L171.5 86.1L169.6 84.2L167.7 86.1L165.8 84.2L167.7 82.3L165.8 80.4L167.7 78.5L169.6 80.4Z"/><path d="M167.4 81.7L169.3 83.6L167.4 85.5L169.3 87.4L167.4 89.3L165.5 87.4L163.6 89.3L161.7 87.4L163.6 85.5L161.7 83.6L163.6 81.7L165.5 83.6Z"/><path d="M170.6 87.2L172.5 89.1L170.6 91.0L172.5 92.9L170.6 94.8L168.7 92.9L166.8 94.8L164.9 92.9L166.8 91.0L164.9 89.1L166.8 87.2L168.7 89.1Z"/><path d="M178.7 88.6L180.6 90.5L178.7 92.4L180.6 94.3L178.7 96.2L176.8 94.3L174.9 96.2L173.0 94.3L174.9 92.4L173.0 90.5L174.9 88.6L176.8 90.5Z"/><path d="M172.7 90.5L174.6 92.4L172.7 94.3L174.6 96.2L172.7 98.1L170.8 96.2L168.9 98.1L167.0 96.2L168.9 94.3L167.0 92.4L168.9 90.5L170.8 92.4Z"/><path d="M169.0 95.5L170.9 97.4L169.0 99.3L170.9 101.2L169.0 103.1L167.1 101.2L165.2 103.1L163.3 101.2L165.2 99.3L163.3 97.4L165.2 95.5L167.1 97.4Z"/><path d="M176.8 96.2L178.7 98.1L176.8 100.0L178.7 101.9L176.8 103.8L174.9 101.9L173.0 103.8L171.1 101.9L173.0 100.0L171.1 98.1L173.0 96.2L174.9 98.1Z"/><path d="M166.2 99.0L168.1 100.9L166.2 102.8L168.1 104.7L166.2 106.6L164.3 104.7L162.4 106.6L160.5 104.7L162.4 102.8L160.5 100.9L162.4 99.0L164.3 100.9Z"/><path d="M171.7 99.9L173.6 101.8L171.7 103.7L173.6 105.6L171.7 107.5L169.8 105.6L167.9 107.5L166.0 105.6L167.9 103.7L166.0 101.8L167.9 99.9L169.8 101.8Z"/><path d="M174.0 92.5L175.9 94.4L174.0 96.3L175.9 98.2L174.0 100.1L172.1 98.2L170.2 100.1L168.3 98.2L170.2 96.3L168.3 94.4L170.2 92.5L172.1 94.4Z"/><path d="M35.8 152.3L37.7 154.2L35.8 156.1L37.7 158.0L35.8 159.9L33.9 158.0L32.0 159.9L30.1 158.0L32.0 156.1L30.1 154.2L32.0 152.3L33.9 154.2Z"/><path d="M41.2 162.5L43.1 164.4L41.2 166.3L43.1 168.2L41.2 170.1L39.3 168.2L37.4 170.1L35.5 168.2L37.4 166.3L35.5 164.4L37.4 162.5L39.3 164.4Z"/><path d="M63.6 150.3L65.5 152.2L63.6 154.1L65.5 156.0L63.6 157.9L61.7 156.0L59.8 157.9L57.9 156.0L59.8 154.1L57.9 152.2L59.8 150.3L61.7 152.2Z"/><path d="M59.5 156.4L61.4 158.3L59.5 160.2L61.4 162.1L59.5 164.0L57.6 162.1L55.7 164.0L53.8 162.1L55.7 160.2L53.8 158.3L55.7 156.4L57.6 158.3Z"/><path d="M67.0 157.1L68.9 159.0L67.0 160.9L68.9 162.8L67.0 164.7L65.1 162.8L63.2 164.7L61.3 162.8L63.2 160.9L61.3 159.0L63.2 157.1L65.1 159.0Z"/><path d="M60.9 161.8L62.8 163.7L60.9 165.6L62.8 167.5L60.9 169.4L59.0 167.5L57.1 169.4L55.2 167.5L57.1 165.6L55.2 163.7L57.1 161.8L59.0 163.7Z"/><path d="M64.9 161.1L66.8 163.0L64.9 164.9L66.8 166.8L64.9 168.7L63.0 166.8L61.1 168.7L59.2 166.8L61.1 164.9L59.2 163.0L61.1 161.1L63.0 163.0Z"/><path d="M81.8 154.4L83.7 156.3L81.8 158.2L83.7 160.1L81.8 162.0L79.9 160.1L78.0 162.0L76.1 160.1L78.0 158.2L76.1 156.3L78.0 154.4L79.9 156.3Z"/></g></g><rect x="0.7" y="0.7" width="298" height="193" fill="none" stroke="#333" stroke-width="1.25"/></svg></div>
<div class="panel" id="pc" style="left:647px;top:67px"><svg width="300" height="195" viewBox="0 0 300 195"><defs><clipPath id="clc"><rect width="299.3" height="194.3"/></clipPath></defs><g clip-path="url(#clc)"><rect width="300" height="195" fill="#e6e6e6"/>
<path d="M-40 -40L338 -40L338 233L-40 233L-40 -40ZM167.5 82.9L163.3 84.5L160 87.7L158.3 91L157.7 95L159 99.2L161.5 102L165.5 103.7L170 103.7L173.4 102.5L176.5 100.1L179 96L179.7 92L178.5 87.7L176.3 85L172.5 83L169.5 82.5L167.5 82.9Z" fill="#e4e4e4"/>
<path d="M-40 -40L338 -40L338 233L-40 233L-40 -40ZM167 80L162 82L158 86L156 89.5L155.1 93L155.7 98.5L158 103L160.7 105L165 106.3L171 105.9L173.5 104.9L176.5 103L178.5 101L180.5 98L181.5 96L182.3 92.5L181.9 88.5L181 85.9L178 81.9L174 80L170.5 79.5L167 80Z" fill="#d4d4d4"/>
<path d="M-40 -40L338 -40L338 233L-40 233L-40 -40ZM169.5 77.5L164.5 78.8L160.6 81L156.4 85.5L154.5 89.5L153.6 95L154.3 99.5L157 105L158.5 106.3L160.1 107L165.5 107.9L171 107.1L173.5 106.1L179 102L182.7 96L183.7 92L183.7 88L182.7 84L181 81L179.4 79.5L175.5 77.9L169.5 77.5Z" fill="#c5c5c5"/>
<path d="M-40 -40L338 -40L338 233L-40 233L-40 -40ZM168.5 75.5L163.5 77.1L159.5 79.7L155 84.9L153.1 89L152.1 95.5L152.6 100L155 105.9L156.5 107.9L158 108.8L161.5 109.5L165 109.5L171 108.3L174 107L177.7 104.5L180.3 102L183.4 97.5L184.8 94L185.5 91L185.7 86.5L185 82L183.5 78.8L180.5 76.9L176 75.4L172 75.1L168.5 75.5Z" fill="#b5b5b5"/>
<path d="M-40 -40L338 -40L338 233L-40 233L-40 -40ZM170 72.9L164 74.7L159 77.7L154 83.5L151.8 88L150.7 92.5L150.8 100L152.8 106.5L154.5 109.6L156 111.1L160 111.6L164 111.5L171 109.6L174.5 108L178.6 105L181.1 102.5L184.5 98L186.8 93L188.2 85.5L187.9 79.5L187.2 77.5L183.5 75.1L178.5 73.2L175 72.7L170 72.9Z" fill="#a5a5a5"/>
<path d="M-40 -40L338 -40L338 233L-40 233L-40 -40ZM170.5 70.4L164.5 72.2L158.5 75.7L153 82L150.3 87.5L149.3 91.5L148.9 95.5L149.4 102.5L151.7 110L153.5 113.4L154.5 114.1L159 114.2L164 113.5L170.5 111.3L175 109L180.2 105L184.1 100.5L186.3 97.5L189.2 91.5L191.2 84L191.9 78L191.5 76.5L187.3 73.5L182 71.2L177 70.1L170.5 70.4Z" fill="#969696"/>
<path d="M-40 -40L338 -40L338 233L-40 233L-40 -40ZM172.5 67.5L165.5 69.2L158 73.5L152.6 79.5L149.3 85.5L147.5 92L147 98L147.3 102.5L149.7 112.5L151.3 116.5L152.4 117.5L159 117L164 115.7L171 112.7L176.5 109.4L181.5 105.2L186.5 99.5L190.2 94L193.6 86.5L196.3 77L195.9 75.5L194.5 74.1L189 70.5L183.5 68.4L177.5 67.3L172.5 67.5Z" fill="#868686"/>
<path d="M-40 -40L338 -40L338 233L-40 233L-40 -40ZM173.5 64.5L165 66.7L158 70.7L153 75.7L150.2 79.5L148.1 83.5L145.7 91.5L145 98L145.1 103L147.5 116.3L149 120L150 121.2L154.5 121L162.5 118.8L171 114.6L177 110.5L182.8 105.5L190.8 96.5L194.7 90.5L199.3 82L200.6 78L200.6 75.5L199 73L196 70.3L190.5 67.2L184.5 65.2L179.5 64.4L173.5 64.5Z" fill="#767676"/>
<path d="M-40 -40L338 -40L338 233L-40 233L-40 -40ZM175.5 61L170.5 61.8L166 63.2L162 65.1L157 68.3L153.5 71.4L151.4 74L148.9 77.5L146.3 82.5L143.8 91L142.6 103L144.1 117.5L146.2 123.5L148 125.4L150 125.6L154.5 124.8L162.5 121.8L172 116.2L177.4 112L182.7 107.5L192.1 98L202 85L204.5 80.5L205.3 77L204.6 73.5L202.5 70.3L198.7 67L194 64.4L187.5 62.1L180 60.8L175.5 61Z" fill="#666666"/>
<path d="M-40 -40L338 -40L338 233L-40 233L-40 -40ZM175.5 56.5L169.5 57.6L165 59.3L160.5 61.5L155 65.4L148.8 72L146.2 76L143.7 81L141.2 89.5L140 96.5L139.4 102L139.6 118L140.7 123.5L141.7 126.5L143.5 129L146 130.5L150.5 130.8L156 129.2L164.5 124.7L170.5 120.5L194.1 99.5L206.3 87L210.1 81L211.2 76L209.9 71L207.5 67.2L202.3 62.5L198.5 60.3L191 57.6L180.5 56L175.5 56.5Z" fill="#575757"/>
<path d="M-40 -40L338 -40L338 233L-40 233L-40 -40ZM175.5 43.5L168.8 44.5L162.5 46.6L156.9 49.5L149.5 54.9L146.5 58L142 64.2L136 76.3L133 86.3L131 98L130.3 103.5L130.2 120L131 130L132 133.7L133.3 136L135.5 138.3L139.3 141L144 141.8L149.5 141L155.5 138.5L162 134.5L172.4 125.5L188.5 110.1L210.2 93.5L216.3 87.5L218.2 85L220.5 80.4L221.6 76.5L221.7 73L220 66.6L216.4 60.5L213.5 57.1L210 54.1L204.4 50.5L194.3 46L188.5 44.4L182 43.5L175.5 43.5Z" fill="#474747"/>
<path d="M94.5 40L102 39.6L109.5 40.2L116.5 41.8L123.5 44.6L130 48.4L135 52.6L139 57.8L140.3 60.5L140.5 62L135.8 73L132.8 82L129.6 98L128 115L127 116.8L122.5 120L117 122.9L111 125.3L104.5 127.2L92 128.9L86 128.9L80 128.3L72 126.3L64.5 122.8L58 118L52.4 112L47.9 105L45 97.5L43.7 90L44.1 82L46.2 74.5L49.9 67L55 60L61 54.1L68 49.2L76.5 44.9L85.5 41.8L94.5 40ZM211.3 98L219.5 98.9L228 101.8L235.6 106.5L241.7 112.5L245.9 119.5L248.1 127L248.4 135L246.6 143L243 150L237.4 156.5L230.5 161.8L222 166.1L213.5 168.5L204.5 169.3L195.5 168.6L186.5 166.3L181.5 164.1L177 161.5L173 158.4L169.1 154.5L166.2 150.5L163.8 146L162.3 141L162.2 137.5L166.2 133L184 115.6L192.3 108.5L197 105L206.5 99L209 98.2L211.3 98Z" fill="#393939"/>
<path d="M95.6 55.5L103 55.4L110 56.6L116.2 59L121.5 62.5L125.3 66.5L128 71.5L129.4 77L129.4 83.5L128 90.9L125.5 97L122 102.2L117.5 106.5L111.5 110.2L104.5 112.9L97.5 114.1L90 114.1L84 113L78.5 111L73.5 108.1L69.4 104.5L66 100.1L63.8 95.5L62.6 90.5L62.6 85L63.6 79.5L65.9 74L69 69.3L73.1 65L78 61.3L83.5 58.5L89.5 56.6L95.6 55.5ZM204.4 107L210 106.7L216 107.7L221.5 109.7L226.7 113L230.8 117L233.6 121.5L235.4 126.5L236.1 132L235.5 137.5L233.9 142.5L231 147.5L227.3 151.5L222.5 155L217 157.5L211 159.1L205 159.6L199 159.2L193 157.9L188 155.9L183.5 153.2L179.5 149.5L176.8 145.5L175 141L174.4 136.5L175 132L176.9 127.5L179.9 123L184 118.5L189.2 114L194.5 110.5L199.5 108.3L204.4 107Z" fill="#2b2b2b"/>
<path d="M94.6 69.5L101.5 69.7L107.5 72L110 74L111.6 76L112.9 78.5L113.7 81.5L113.7 84.5L113.1 87.5L111.9 90.5L110 93.2L105 97.2L102 98.5L98.5 99.3L92 99L89 98.1L86 96.5L83.6 94.5L81.6 92L80.3 89.5L79.6 86.5L79.6 83.5L80.2 80.5L83.1 75.5L85.5 73.3L88.3 71.5L94.6 69.5ZM204 114.5L208 114.4L212 115.1L215.6 116.5L219 118.6L221.9 121.5L223.9 124.5L225.2 128L225.8 132L225.5 136L224.5 139.5L222.6 143L220 146L217 148.2L213.5 150L209.5 151.2L205 151.7L200.5 151.4L196.5 150.5L193 149.1L190 147.2L187.5 144.7L185.7 142L184.6 139L184.1 135.5L184.5 132L185.6 128.5L187.5 125L190 121.9L193 119.2L196.5 116.9L200 115.4L204 114.5Z" fill="#1d1d1d"/>
<path d="M201.9 126L205 125.6L208 126.4L210.5 128.5L211.7 131L212 134L211 136.9L209.1 139L206.5 140.4L203.5 140.8L200.5 140.2L197.9 138.5L196.4 136L196.1 133L197.1 130L199.2 127.5L201.9 126Z" fill="#0f0f0f"/>
<path d="M167.5 82.9L163.3 84.5L160 87.7L158.3 91L157.7 95L159 99.2L161.5 102L165.5 103.7L170 103.7L173.4 102.5L176.5 100.1L179 96L179.7 92L178.5 87.7L176.3 85L172.5 83L169.5 82.5L167.5 82.9M167 80L162 82L158 86L156 89.5L155.1 93L155.7 98.5L158 103L160.7 105L165 106.3L171 105.9L173.5 104.9L176.5 103L178.5 101L180.5 98L181.5 96L182.3 92.5L181.9 88.5L181 85.9L178 81.9L174 80L170.5 79.5L167 80M169.5 77.5L164.5 78.8L160.6 81L156.4 85.5L154.5 89.5L153.6 95L154.3 99.5L157 105L158.5 106.3L160.1 107L165.5 107.9L171 107.1L173.5 106.1L179 102L182.7 96L183.7 92L183.7 88L182.7 84L181 81L179.4 79.5L175.5 77.9L169.5 77.5M168.5 75.5L163.5 77.1L159.5 79.7L155 84.9L153.1 89L152.1 95.5L152.6 100L155 105.9L156.5 107.9L158 108.8L161.5 109.5L165 109.5L171 108.3L174 107L177.7 104.5L180.3 102L183.4 97.5L184.8 94L185.5 91L185.7 86.5L185 82L183.5 78.8L180.5 76.9L176 75.4L172 75.1L168.5 75.5M170 72.9L164 74.7L159 77.7L154 83.5L151.8 88L150.7 92.5L150.8 100L152.8 106.5L154.5 109.6L156 111.1L160 111.6L164 111.5L171 109.6L174.5 108L178.6 105L181.1 102.5L184.5 98L186.8 93L188.2 85.5L187.9 79.5L187.2 77.5L183.5 75.1L178.5 73.2L175 72.7L170 72.9M170.5 70.4L164.5 72.2L158.5 75.7L153 82L150.3 87.5L149.3 91.5L148.9 95.5L149.4 102.5L151.7 110L153.5 113.4L154.5 114.1L159 114.2L164 113.5L170.5 111.3L175 109L180.2 105L184.1 100.5L186.3 97.5L189.2 91.5L191.2 84L191.9 78L191.5 76.5L187.3 73.5L182 71.2L177 70.1L170.5 70.4M172.5 67.5L165.5 69.2L158 73.5L152.6 79.5L149.3 85.5L147.5 92L147 98L147.3 102.5L149.7 112.5L151.3 116.5L152.4 117.5L159 117L164 115.7L171 112.7L176.5 109.4L181.5 105.2L186.5 99.5L190.2 94L193.6 86.5L196.3 77L195.9 75.5L194.5 74.1L189 70.5L183.5 68.4L177.5 67.3L172.5 67.5M173.5 64.5L165 66.7L158 70.7L153 75.7L150.2 79.5L148.1 83.5L145.7 91.5L145 98L145.1 103L147.5 116.3L149 120L150 121.2L154.5 121L162.5 118.8L171 114.6L177 110.5L182.8 105.5L190.8 96.5L194.7 90.5L199.3 82L200.6 78L200.6 75.5L199 73L196 70.3L190.5 67.2L184.5 65.2L179.5 64.4L173.5 64.5M175.5 61L170.5 61.8L166 63.2L162 65.1L157 68.3L153.5 71.4L151.4 74L148.9 77.5L146.3 82.5L143.8 91L142.6 103L144.1 117.5L146.2 123.5L148 125.4L150 125.6L154.5 124.8L162.5 121.8L172 116.2L177.4 112L182.7 107.5L192.1 98L202 85L204.5 80.5L205.3 77L204.6 73.5L202.5 70.3L198.7 67L194 64.4L187.5 62.1L180 60.8L175.5 61M175.5 56.5L169.5 57.6L165 59.3L160.5 61.5L155 65.4L148.8 72L146.2 76L143.7 81L141.2 89.5L140 96.5L139.4 102L139.6 118L140.7 123.5L141.7 126.5L143.5 129L146 130.5L150.5 130.8L156 129.2L164.5 124.7L170.5 120.5L194.1 99.5L206.3 87L210.1 81L211.2 76L209.9 71L207.5 67.2L202.3 62.5L198.5 60.3L191 57.6L180.5 56L175.5 56.5M175.5 43.5L168.8 44.5L162.5 46.6L156.9 49.5L149.5 54.9L146.5 58L142 64.2L136 76.3L133 86.3L131 98L130.3 103.5L130.2 120L131 130L132 133.7L133.3 136L135.5 138.3L139.3 141L144 141.8L149.5 141L155.5 138.5L162 134.5L172.4 125.5L188.5 110.1L210.2 93.5L216.3 87.5L218.2 85L220.5 80.4L221.6 76.5L221.7 73L220 66.6L216.4 60.5L213.5 57.1L210 54.1L204.4 50.5L194.3 46L188.5 44.4L182 43.5L175.5 43.5M94.5 40L102 39.6L109.5 40.2L116.5 41.8L123.5 44.6L130 48.4L135 52.6L139 57.8L140.3 60.5L140.5 62L135.8 73L132.8 82L129.6 98L128 115L127 116.8L122.5 120L117 122.9L111 125.3L104.5 127.2L92 128.9L86 128.9L80 128.3L72 126.3L64.5 122.8L58 118L52.4 112L47.9 105L45 97.5L43.7 90L44.1 82L46.2 74.5L49.9 67L55 60L61 54.1L68 49.2L76.5 44.9L85.5 41.8L94.5 40M211.3 98L219.5 98.9L228 101.8L235.6 106.5L241.7 112.5L245.9 119.5L248.1 127L248.4 135L246.6 143L243 150L237.4 156.5L230.5 161.8L222 166.1L213.5 168.5L204.5 169.3L195.5 168.6L186.5 166.3L181.5 164.1L177 161.5L173 158.4L169.1 154.5L166.2 150.5L163.8 146L162.3 141L162.2 137.5L166.2 133L184 115.6L192.3 108.5L197 105L206.5 99L209 98.2L211.3 98M95.6 55.5L103 55.4L110 56.6L116.2 59L121.5 62.5L125.3 66.5L128 71.5L129.4 77L129.4 83.5L128 90.9L125.5 97L122 102.2L117.5 106.5L111.5 110.2L104.5 112.9L97.5 114.1L90 114.1L84 113L78.5 111L73.5 108.1L69.4 104.5L66 100.1L63.8 95.5L62.6 90.5L62.6 85L63.6 79.5L65.9 74L69 69.3L73.1 65L78 61.3L83.5 58.5L89.5 56.6L95.6 55.5M204.4 107L210 106.7L216 107.7L221.5 109.7L226.7 113L230.8 117L233.6 121.5L235.4 126.5L236.1 132L235.5 137.5L233.9 142.5L231 147.5L227.3 151.5L222.5 155L217 157.5L211 159.1L205 159.6L199 159.2L193 157.9L188 155.9L183.5 153.2L179.5 149.5L176.8 145.5L175 141L174.4 136.5L175 132L176.9 127.5L179.9 123L184 118.5L189.2 114L194.5 110.5L199.5 108.3L204.4 107M94.6 69.5L101.5 69.7L107.5 72L110 74L111.6 76L112.9 78.5L113.7 81.5L113.7 84.5L113.1 87.5L111.9 90.5L110 93.2L105 97.2L102 98.5L98.5 99.3L92 99L89 98.1L86 96.5L83.6 94.5L81.6 92L80.3 89.5L79.6 86.5L79.6 83.5L80.2 80.5L83.1 75.5L85.5 73.3L88.3 71.5L94.6 69.5M204 114.5L208 114.4L212 115.1L215.6 116.5L219 118.6L221.9 121.5L223.9 124.5L225.2 128L225.8 132L225.5 136L224.5 139.5L222.6 143L220 146L217 148.2L213.5 150L209.5 151.2L205 151.7L200.5 151.4L196.5 150.5L193 149.1L190 147.2L187.5 144.7L185.7 142L184.6 139L184.1 135.5L184.5 132L185.6 128.5L187.5 125L190 121.9L193 119.2L196.5 116.9L200 115.4L204 114.5M201.9 126L205 125.6L208 126.4L210.5 128.5L211.7 131L212 134L211 136.9L209.1 139L206.5 140.4L203.5 140.8L200.5 140.2L197.9 138.5L196.4 136L196.1 133L197.1 130L199.2 127.5L201.9 126" fill="none" stroke="#fff" stroke-opacity="0.4" stroke-width="0.5" stroke-dasharray="3.5 1.5"/><g fill="#3b73ab" fill-opacity="0.88" stroke="#fff" stroke-opacity="0.65" stroke-width="0.6"><circle cx="81.4" cy="53.1" r="4.2"/><circle cx="94.9" cy="56.8" r="4.2"/><circle cx="105.4" cy="56.8" r="4.2"/><circle cx="62.4" cy="66.8" r="4.2"/><circle cx="44.5" cy="77.6" r="4.2"/><circle cx="95.1" cy="66.3" r="4.2"/><circle cx="99.1" cy="65.9" r="4.2"/><circle cx="101.4" cy="69.9" r="4.2"/><circle cx="110.6" cy="67.6" r="4.2"/><circle cx="114.6" cy="64.2" r="4.2"/><circle cx="118.6" cy="61.9" r="4.2"/><circle cx="128.9" cy="67.9" r="4.2"/><circle cx="86.5" cy="71.7" r="4.2"/><circle cx="88.8" cy="74.5" r="4.2"/><circle cx="85.9" cy="77.4" r="4.2"/><circle cx="90.5" cy="80.2" r="4.2"/><circle cx="67.6" cy="75.7" r="4.2"/><circle cx="64.7" cy="79.1" r="4.2"/><circle cx="74.5" cy="78.3" r="4.2"/><circle cx="65.9" cy="84.3" r="4.2"/><circle cx="69.9" cy="89.4" r="4.2"/><circle cx="75" cy="91.1" r="4.2"/><circle cx="106" cy="73.9" r="4.2"/><circle cx="115.7" cy="73.4" r="4.2"/><circle cx="111.7" cy="78" r="4.2"/><circle cx="106.6" cy="81.4" r="4.2"/><circle cx="98.5" cy="83.1" r="4.2"/><circle cx="118" cy="80.8" r="4.2"/><circle cx="123.7" cy="79.7" r="4.2"/><circle cx="123.7" cy="85.4" r="4.2"/><circle cx="135.2" cy="78.5" r="4.2"/><circle cx="135.2" cy="84.3" r="4.2"/><circle cx="111.1" cy="85.4" r="4.2"/><circle cx="106" cy="89.4" r="4.2"/><circle cx="95.1" cy="88.8" r="4.2"/><circle cx="83.6" cy="91.1" r="4.2"/><circle cx="79.1" cy="94.6" r="4.2"/><circle cx="88.2" cy="94.6" r="4.2"/><circle cx="98" cy="95.7" r="4.2"/><circle cx="105.4" cy="94" r="4.2"/><circle cx="112.3" cy="92.3" r="4.2"/><circle cx="119.2" cy="88.8" r="4.2"/><circle cx="119.2" cy="97.4" r="4.2"/><circle cx="111.1" cy="98" r="4.2"/><circle cx="130.6" cy="94.6" r="4.2"/><circle cx="141.5" cy="92.1" r="4.2"/><circle cx="64.7" cy="98.6" r="4.2"/><circle cx="72.8" cy="98" r="4.2"/><circle cx="82.5" cy="98.6" r="4.2"/><circle cx="89.4" cy="99.7" r="4.2"/><circle cx="95.7" cy="99.2" r="4.2"/><circle cx="53.9" cy="104.9" r="4.2"/><circle cx="75" cy="108.1" r="4.2"/><circle cx="80.2" cy="107.2" r="4.2"/><circle cx="89.9" cy="108.6" r="4.2"/><circle cx="89.9" cy="120" r="4.2"/><circle cx="92.8" cy="91.1" r="4.2"/><circle cx="102.5" cy="91.1" r="4.2"/><circle cx="99.7" cy="79.7" r="4.2"/><circle cx="85.9" cy="96.9" r="4.2"/><circle cx="91.7" cy="93.4" r="4.2"/><circle cx="100.8" cy="93.4" r="4.2"/><circle cx="108.9" cy="90" r="4.2"/><circle cx="114.6" cy="85.4" r="4.2"/><circle cx="81.4" cy="92.3" r="4.2"/><circle cx="186.2" cy="123.9" r="4.2"/><circle cx="193.7" cy="128.1" r="4.2"/><circle cx="182" cy="131.4" r="4.2"/><circle cx="186.7" cy="133.3" r="4.2"/><circle cx="182" cy="137.5" r="4.2"/><circle cx="205.9" cy="122" r="4.2"/><circle cx="205.4" cy="128.1" r="4.2"/><circle cx="208.7" cy="130.5" r="4.2"/><circle cx="201.7" cy="134.2" r="4.2"/><circle cx="198.8" cy="134.2" r="4.2"/><circle cx="209.6" cy="135.6" r="4.2"/><circle cx="209.6" cy="138.9" r="4.2"/><circle cx="216.2" cy="126.7" r="4.2"/><circle cx="215.7" cy="130.5" r="4.2"/><circle cx="224.6" cy="128.6" r="4.2"/><circle cx="217.1" cy="138" r="4.2"/><circle cx="221.3" cy="139.9" r="4.2"/><circle cx="197.4" cy="142.2" r="4.2"/><circle cx="201.2" cy="153.5" r="4.2"/><circle cx="237.3" cy="132.8" r="4.2"/></g><g fill="#f5861a" stroke="#fff" stroke-opacity="0.6" stroke-width="0.5"><path d="M171.5 78.5L173.4 80.4L171.5 82.3L173.4 84.2L171.5 86.1L169.6 84.2L167.7 86.1L165.8 84.2L167.7 82.3L165.8 80.4L167.7 78.5L169.6 80.4Z"/><path d="M167.4 81.7L169.3 83.6L167.4 85.5L169.3 87.4L167.4 89.3L165.5 87.4L163.6 89.3L161.7 87.4L163.6 85.5L161.7 83.6L163.6 81.7L165.5 83.6Z"/><path d="M170.6 87.2L172.5 89.1L170.6 91.0L172.5 92.9L170.6 94.8L168.7 92.9L166.8 94.8L164.9 92.9L166.8 91.0L164.9 89.1L166.8 87.2L168.7 89.1Z"/><path d="M178.7 88.6L180.6 90.5L178.7 92.4L180.6 94.3L178.7 96.2L176.8 94.3L174.9 96.2L173.0 94.3L174.9 92.4L173.0 90.5L174.9 88.6L176.8 90.5Z"/><path d="M172.7 90.5L174.6 92.4L172.7 94.3L174.6 96.2L172.7 98.1L170.8 96.2L168.9 98.1L167.0 96.2L168.9 94.3L167.0 92.4L168.9 90.5L170.8 92.4Z"/><path d="M169.0 95.5L170.9 97.4L169.0 99.3L170.9 101.2L169.0 103.1L167.1 101.2L165.2 103.1L163.3 101.2L165.2 99.3L163.3 97.4L165.2 95.5L167.1 97.4Z"/><path d="M176.8 96.2L178.7 98.1L176.8 100.0L178.7 101.9L176.8 103.8L174.9 101.9L173.0 103.8L171.1 101.9L173.0 100.0L171.1 98.1L173.0 96.2L174.9 98.1Z"/><path d="M166.2 99.0L168.1 100.9L166.2 102.8L168.1 104.7L166.2 106.6L164.3 104.7L162.4 106.6L160.5 104.7L162.4 102.8L160.5 100.9L162.4 99.0L164.3 100.9Z"/><path d="M171.7 99.9L173.6 101.8L171.7 103.7L173.6 105.6L171.7 107.5L169.8 105.6L167.9 107.5L166.0 105.6L167.9 103.7L166.0 101.8L167.9 99.9L169.8 101.8Z"/><path d="M174.0 92.5L175.9 94.4L174.0 96.3L175.9 98.2L174.0 100.1L172.1 98.2L170.2 100.1L168.3 98.2L170.2 96.3L168.3 94.4L170.2 92.5L172.1 94.4Z"/><path d="M35.8 152.3L37.7 154.2L35.8 156.1L37.7 158.0L35.8 159.9L33.9 158.0L32.0 159.9L30.1 158.0L32.0 156.1L30.1 154.2L32.0 152.3L33.9 154.2Z"/><path d="M41.2 162.5L43.1 164.4L41.2 166.3L43.1 168.2L41.2 170.1L39.3 168.2L37.4 170.1L35.5 168.2L37.4 166.3L35.5 164.4L37.4 162.5L39.3 164.4Z"/><path d="M63.6 150.3L65.5 152.2L63.6 154.1L65.5 156.0L63.6 157.9L61.7 156.0L59.8 157.9L57.9 156.0L59.8 154.1L57.9 152.2L59.8 150.3L61.7 152.2Z"/><path d="M59.5 156.4L61.4 158.3L59.5 160.2L61.4 162.1L59.5 164.0L57.6 162.1L55.7 164.0L53.8 162.1L55.7 160.2L53.8 158.3L55.7 156.4L57.6 158.3Z"/><path d="M67.0 157.1L68.9 159.0L67.0 160.9L68.9 162.8L67.0 164.7L65.1 162.8L63.2 164.7L61.3 162.8L63.2 160.9L61.3 159.0L63.2 157.1L65.1 159.0Z"/><path d="M60.9 161.8L62.8 163.7L60.9 165.6L62.8 167.5L60.9 169.4L59.0 167.5L57.1 169.4L55.2 167.5L57.1 165.6L55.2 163.7L57.1 161.8L59.0 163.7Z"/><path d="M64.9 161.1L66.8 163.0L64.9 164.9L66.8 166.8L64.9 168.7L63.0 166.8L61.1 168.7L59.2 166.8L61.1 164.9L59.2 163.0L61.1 161.1L63.0 163.0Z"/><path d="M81.8 154.4L83.7 156.3L81.8 158.2L83.7 160.1L81.8 162.0L79.9 160.1L78.0 162.0L76.1 160.1L78.0 158.2L76.1 156.3L78.0 154.4L79.9 156.3Z"/></g></g><rect x="0.7" y="0.7" width="298" height="193" fill="none" stroke="#333" stroke-width="1.25"/></svg></div>
<div class="panel" id="pd" style="left:13px;top:330px"><svg width="300" height="195" viewBox="0 0 300 195"><defs><clipPath id="cld"><rect width="299.3" height="194.3"/></clipPath></defs><g clip-path="url(#cld)"><rect width="300" height="195" fill="#0b0b0b"/>
<path d="M195.4 -39.5L198.5 -40L312.2 -40L324.5 -38.6L331.5 -37.3L338 -35.3L338 -16.4L333.7 -9.5L325.2 2L333.4 24L338 44.7L338 151.1L331.8 174.5L323.3 193L320.2 198.5L307 215.2L290 228.2L279.7 233L127.6 233L119 229.3L114 225.9L112 224L109.5 219.5L109.4 214L110.9 199L118.3 144.5L119.8 129L120.9 111.5L122.9 99L126.3 84L134.2 56.5L151.5 6.7L153.5 -3L155.9 -23L157.2 -25.5L159.5 -28.2L164 -31.2L167.5 -32.9L176 -35.8L185 -37.8L195.4 -39.5Z" fill="#161616"/>
<path d="M208.9 -39.5L212.3 -40L301.4 -40L303.5 -39.4L309 -39.3L324.5 -37.6L331 -36.3L338 -34.3L338 -18.7L331.1 -8.5L323.1 1L322.6 2.5L324.8 10L330 25L335 49.5L336.1 59.5L336.8 61L338 61.6L338 133.6L336.5 134.5L335.8 136L334.5 147.6L328 172.9L319.5 191.5L317 196L304 212.5L288.5 224.5L275.5 230.2L273.7 231.5L273 233L145.1 233L133.5 227.5L128.8 224.5L127 222.7L124.6 218.5L126.7 194L130.7 166.5L132.6 148L133.5 126L133 112.5L134.5 97.5L136.8 86.5L142.7 64.5L160 8.2L162.2 -4L163.3 -19L164.1 -23L165.9 -26L167.8 -28L173 -31.3L177 -32.9L182.5 -34.7L192 -36.9L208.9 -39.5Z" fill="#202020"/>
<path d="M212.5 -39.5L215.3 -40L290.3 -40L292 -39.5L300.5 -39.3L324.5 -36.9L331 -35.7L338 -33.6L338 -20.1L336.7 -19L331.5 -10.8L322.3 0L319 4.9L304 20.9L239.3 87.5L224 102.7L196.5 128.5L179.5 145.3L155.5 171.7L152.5 174.2L150 174.5L148.8 173.5L148 171.6L145.6 159L139.1 113L138.8 100.5L162.5 12.9L165.3 -3.5L166.6 -23L168 -25.5L169.9 -27.5L174.3 -30.5L178.5 -32.4L185.5 -34.7L194.5 -36.8L212.5 -39.5Z" fill="#2c2c2c"/>
<path d="M214.2 -39.5L218.4 -40L286.3 -40L291.5 -39L308.5 -38L324 -36.3L330.7 -35L338 -32.9L338 -22.8L336.5 -21.4L332.4 -15.5L326.5 -8.3L295 24.5L247 76.1L223.5 99.9L216.3 106.5L198.5 120.8L183.5 131.1L171 137.6L166 139.7L161 141L156.5 140.6L153.5 139.3L150.5 136.6L147.7 132.5L146 128.6L143.1 117.5L142.5 112.5L142.6 105.5L143.4 99L145.7 88L165 12.8L167.7 -3.5L169.1 -23.5L171 -26.5L173 -28.3L177.4 -31L183 -33.2L195 -36.4L214.2 -39.5Z" fill="#363636"/>
<path d="M216.7 -39.5L219.8 -40L276.4 -40L308.5 -37.3L324.5 -35L338 -31.3L338 -26.5L336.1 -25.5L328.3 -14L313.6 2.5L302 14.6L246 75.4L221.5 100L211.5 108L203.5 113.5L186 123.9L176.5 128.1L167.5 131.2L161 132.6L158 132.3L155 130.1L152.1 126.5L150 122.9L147.4 117L145.5 107.5L145.4 100L149.3 80L167.3 8L169.5 -8L169.7 -16L170.4 -23L172.5 -26.4L176 -29.1L184.2 -33L198 -36.7L216.7 -39.5Z" fill="#414141"/>
<path d="M218.8 -39.5L220.6 -40L270.8 -40L288 -38.6L308 -36.1L323 -33L332.2 -30L333.6 -29L333.8 -28L330.3 -21.5L326.2 -15.5L311.9 1.5L250.9 68L235.9 83.5L220.5 98.4L214 103.6L204.5 110L189 118.7L183.5 121.3L174 124.8L165 127.2L160 127.7L158.3 126.5L155.5 123.3L151 115.6L148.5 107.5L147.7 99.5L150 84.5L155.1 61L168.4 8L170.7 -7.5L171.6 -22.5L173.3 -25.5L177 -28.6L185.9 -33L198.5 -36.5L209 -38.4L218.8 -39.5Z" fill="#4b4b4b"/>
<path d="M219.9 -39.5L222 -40L267.3 -40L288 -38.1L307.5 -34.4L322.5 -30.1L328.5 -27.8L329.2 -27L328.9 -25.5L325.9 -20L320.7 -12.5L310.1 0.5L288.6 25L249.5 67.1L234.3 82.5L219.5 96.6L213.6 101.5L208.5 104.9L198.5 110.9L188.5 116L182 118.7L173 121.6L164.5 123.4L161.5 123.4L159.5 121.7L156.5 117.8L153 111.2L151.6 107.5L150.3 101.5L150.3 95.5L152.3 81L156.3 61L170.2 5L172.1 -7.5L173.1 -22.5L174.6 -25L178 -28.1L187.6 -33L195 -35.4L201.5 -36.9L219.9 -39.5Z" fill="#565656"/>
<path d="M220.7 -39.5L224.2 -40L263.7 -40L287.5 -37.5L299.5 -34.8L313 -30.4L323.5 -26.1L324.5 -25.1L324.4 -24L319 -14.9L308.9 -1.5L287.3 24L248.2 66L232.6 81.5L218.5 94.7L212.3 100L207.5 103.1L198 108.6L189.5 112.8L176 117.6L168 119.4L163.5 119.8L162 118.8L158.9 115L154.7 107L152.7 100L152.9 90L154 80.5L157.6 61L172.1 2L173.5 -7.5L174.4 -22L175.5 -24L179.1 -27.5L184.8 -31L189 -32.9L195 -35L205 -37.4L220.7 -39.5Z" fill="#606060"/>
<path d="M221.9 -39.5L224.8 -40L260.8 -40L284.5 -37.4L298.5 -33.5L307 -30.1L318.5 -24.5L319.7 -23.5L319.7 -22L316.3 -16L306.5 -2L286 23L246.7 65L231.4 80L217.2 93L210.1 99L206.5 101.4L191.5 109.4L178.5 114.1L169.5 116L165 116.2L163 114.5L159.5 109.6L155.7 101L155 95.5L155.2 85.5L156.7 73.5L160.4 54L165.5 32.4L173.5 2L174.8 -7L175.8 -21.5L177.3 -24L180.5 -27.1L186.3 -31L193.1 -34L205.5 -37.3L221.9 -39.5Z" fill="#6a6a6a"/>
<path d="M224.2 -39.5L225.3 -40L259.2 -40L274.5 -38.4L283.6 -37L288 -35.9L297 -32.5L306 -27.9L314.5 -22.5L315.3 -21.5L315.1 -20L311.3 -13.5L301.9 0.5L292.7 12.5L278.9 28.5L245.5 63.7L219 88.5L205.5 99.6L194.5 105.6L186 109.1L179 111.2L172 112.6L167 112.9L165.5 111.9L162.5 108.1L158.3 100L157.2 91L157.3 82L160 62L163.3 46.5L166.8 31.5L174.9 2L176.3 -7L177.2 -21L179.9 -25L184.7 -29L187.8 -31L194.2 -34L206 -37.2L224.2 -39.5Z" fill="#757575"/>
<path d="M224.9 -39.5L225.8 -40L256 -40L273.5 -38.3L282 -36.8L288 -35.1L298.5 -29.9L306.1 -24.5L310.2 -21L311 -20L310.8 -18.5L301 -2L291.5 11L283.3 21L254.6 52L244 62.6L228 77.6L207.7 95L199 101L191 104.7L183 107.6L175 109.3L170.5 109.8L168.5 109.6L164 104.5L161.1 99L159.2 87L159.6 75L161.4 61.5L164.9 44.5L168 31.5L176.3 2L177.7 -7L178.8 -20.5L181.3 -24.5L185.6 -28.5L189.2 -31L195 -33.9L206 -37L224.9 -39.5Z" fill="#7f7f7f"/>
<path d="M225.4 -39.5L226.5 -40L254.8 -40L273.5 -38L281.2 -36.5L288 -34.1L297.2 -28.5L306 -20L306.9 -18.5L306.6 -17L301.7 -7.5L297.6 -1L289.9 10L282.3 19.5L269.8 33.5L253.5 50.6L235.5 68L212.7 88L205.8 93.5L197.8 99L191.5 102.1L183.5 104.9L175 106.5L170.5 106.5L168 104.2L165.1 100.5L162.7 93.5L161.2 85L161.3 74L162.8 61.5L166.1 44.5L169.2 31.5L177.8 2L179.2 -6.5L180.3 -20L182.2 -23.5L186.4 -28L189.7 -30.5L195 -33.5L206 -36.8L225.4 -39.5Z" fill="#8a8a8a"/>
<path d="M226 -39.5L229 -39.9L253.5 -39.9L273 -37.8L281.1 -36L287.4 -33.5L294.9 -28L298.6 -24L301.8 -19.5L302.8 -17.5L302.8 -15.5L298.9 -7.5L293.1 2L287.9 9.5L280.9 18.5L268 32.9L251.6 50L239.1 62L211.5 86L197.5 96.3L191 99.9L185 102L178.5 103.4L172.5 103.5L170.5 101.9L168.1 99L164.5 90.3L163 83.5L162.9 73L165.2 55.5L169.1 36.5L179.3 2L180.7 -6L181.9 -19.5L184.3 -24L187.6 -28L191.5 -31L195.5 -33.3L206 -36.6L226 -39.5Z" fill="#949494"/>
<path d="M227.3 -39.5L253.5 -39.6L272.5 -37.6L281 -35.5L287 -32.7L293 -27.5L297.7 -20.5L299.4 -16L299.1 -14L296.1 -7.5L290.9 1.5L286.3 8.5L279.4 17.5L267 31.5L250.5 48.5L240.1 58.5L213.5 81.4L203.5 89.2L197 93.6L190.5 97.2L185 99.3L179 100.6L174.5 100.5L172.6 99L170 95.5L166.3 88L164.9 82L164.5 72.5L165.6 61L168.4 45L172.5 28.2L180.7 2.5L182.1 -5L183 -17L183.6 -19.5L185.8 -24L188.4 -27.5L192.5 -31L195.8 -33L199.2 -34.5L206.2 -36.5L227.3 -39.5Z" fill="#9e9e9e"/>
<path d="M225.7 -39L254 -39.3L268.4 -38L274.2 -37L280 -35.3L286.5 -32L291.4 -27L294.7 -20.5L296 -15.5L295.7 -12.5L293 -6.5L288.8 1L284.7 7.5L278.3 16L266 30L243.2 53L221.5 71.8L201 88L195 91.8L188 95.3L182 97L177 97.2L175 95.9L171.5 92.1L168.5 87L167.2 83.5L166.1 74L166.8 63.5L169.2 47.5L172.1 34L176.1 20.5L182.2 2.5L183.6 -5L184.7 -17L186.2 -22L187.7 -25L190.4 -28.5L194.5 -31.8L198.8 -34L209.8 -37L225.7 -39Z" fill="#a9a9a9"/>
<path d="M226.8 -39L252.5 -39.1L259 -38.7L272.7 -37L280 -34.7L285.7 -31.5L288.7 -28.5L290.2 -26L291.9 -22L292.7 -17L292.8 -13L292.1 -10.5L286.1 1.5L282.6 7L276 16L264.5 29L242 51.6L220 70.2L200 85.6L194 89.4L188 92.3L182.5 93.8L178.5 93.7L176 92.1L173 89.3L170.4 85.5L168.9 82L167.7 73.5L168.3 62L170.3 48L173.5 33.5L177.3 21L183.8 2.5L185.2 -4.5L186.3 -16.5L187.9 -23L190.1 -27L193 -30L195.7 -32L199.7 -34L209.5 -36.7L226.8 -39Z" fill="#b3b3b3"/>
<path d="M225.4 -38.5L236 -38.9L258.7 -38.5L270.8 -37L279.2 -34.5L285 -31L287.6 -28L288.7 -26L290.1 -21L290.1 -15L289.3 -10L284.3 0.5L281 6L274.5 15L263 28L241 49.9L226.8 62L199 83.3L193 87L188 89.4L183 90.7L180 90.5L177 89L174.5 87L172 83.8L170.6 81L169.3 73L169.7 61.5L171.6 48L174.7 33.5L178.6 21L184.5 5.5L185.8 0.5L189.3 -23.5L191.1 -27L193.3 -29.5L195.8 -31.5L199.6 -33.5L209.7 -36.5L225.4 -38.5Z" fill="#bebebe"/>
<path d="M227 -38.5L253 -38.6L259 -38.2L271.2 -36.5L278.7 -34L284.2 -30.5L286.6 -27.5L287.5 -25.5L288.3 -22L288.1 -18L286.4 -9L283 -1.5L279.9 4L272.5 14.5L261.5 27L239.6 48.5L225.5 60.3L197.5 81.2L191.5 84.8L186.5 87L182.5 87.8L179 86.9L175.4 84.5L173.4 82L172.2 79.5L170.9 72.5L171.2 61.5L172.9 48.5L176 33.7L180 21L186 6L187.6 0L188.8 -7L190.5 -23.7L192 -26.8L194.3 -29.5L197 -31.5L200.9 -33.5L209.1 -36L227 -38.5Z" fill="#c8c8c8"/>
<path d="M226.2 -38L253 -38.2L262.2 -37.5L270.6 -36L277.4 -33.5L283 -29.7L285 -26.8L285.7 -25L286.2 -22L285.9 -18.5L283.5 -9L280.8 -2.5L278 2.9L270.8 13L259.8 25.5L238.5 46.3L222.9 59L196.4 78.5L190.3 82L186 83.8L182.5 84.5L179.5 83.9L177.5 82.8L175.5 80.7L174.4 79L173.5 76L172.7 69.5L172.8 62.5L173.4 56.5L175.5 43.6L178.5 31.5L183 18.5L188.2 6.5L189.8 1L191.2 -7L192 -21.8L193 -25.1L195 -28.1L197.1 -30L200.3 -32L204.9 -34L214.7 -36.5L226.2 -38Z" fill="#d6d6d6"/>
<path d="M226.3 -36.5L236 -36.8L257.5 -36.5L266.4 -35L271.6 -32.5L275.5 -28.4L276.5 -26.3L277.1 -23L275.5 -7.1L274 -0.5L260 14.4L242 32.2L225 46.2L208 61.6L199.5 68L192 72.6L185 75.5L182.5 76L180.5 75.7L178.9 74.5L177.5 72.1L176.8 69L176.7 65.5L177.7 57L180.7 44L184.5 34.2L188 27.3L193.5 18.4L200.3 9L203.9 2L206.7 -8.5L208 -23L209 -26.5L211 -29.6L214.2 -32.5L219.4 -35L226.3 -36.5Z" fill="#e6e6e6"/>
<path d="M198.9 46.5L201.5 46.7L202.7 48.5L202 51.7L200 55.5L196.2 59.5L193.6 61.5L190.5 63L188 62.8L187.4 62L187.2 60L188 57.1L189.5 54.4L193 50.2L196.6 47.5L198.9 46.5Z" fill="#f5f5f5"/>
<path d="M312.2 -40L324.5 -38.6L331.5 -37.3L338 -35.3M338 -16.4L333.7 -9.5L325.2 2L333.4 24L338 44.7M338 151.1L331.8 174.5L323.3 193L320.2 198.5L307 215.2L290 228.2L279.7 233M127.6 233L119 229.3L113 225.1L110.1 221L109.3 218L112 190L116.3 160.5L118.8 140L120.9 111L122.9 99L126.3 84L134.2 56.5L151.5 6.7L153.5 -2.8L155.2 -19.5L156.3 -24L159.5 -28.2L165 -31.8L168.5 -33.3L174.5 -35.4L182 -37.2L198.5 -40M301.4 -40L303.5 -39.4L309 -39.3L324.5 -37.6L331 -36.3L338 -34.3M338 -18.7L331.1 -8.5L323.1 1L322.6 2.5L324.8 10L330 25L335 49.5L336.1 59.5L336.8 61L338 61.6M338 133.6L336.5 134.5L335.8 136L334.5 147.6L328 172.9L319.5 191.5L317 196L304 212.5L288.5 224.5L275.5 230.2L273.7 231.5L273 233M145.1 233L133.5 227.5L128.8 224.5L127 222.7L124.5 218L126.7 194L130.7 166.5L132.1 153.5L133.5 126L133 112L134.4 98L136.8 86.5L145.4 55.5L160 8.2L162.2 -4L163.4 -19.5L163.9 -22.5L164.8 -24.5L167.5 -27.8L172 -30.7L181 -34.2L194.5 -37.4L212.3 -40M290.3 -40L292 -39.5L300.5 -39.3L324 -37L331 -35.7L338 -33.6M338 -20.1L336.7 -19L331.5 -10.8L322.3 0L319 4.9L304.4 20.5L239.3 87.5L224 102.7L196.5 128.5L179.5 145.3L155.5 171.7L152.8 174L150.5 174.7L149 173.7L148.1 172L145.6 159L139.1 113L138.8 100.5L162.5 12.9L165.3 -3.5L166.6 -23L168.5 -26.1L171.5 -28.7L175.3 -31L182 -33.6L194.5 -36.8L215.3 -40M286.3 -40L291.5 -39L308.5 -38L324 -36.3L330.7 -35L338 -32.9M338 -22.8L336.5 -21.4L332.4 -15.5L326.5 -8.3L295 24.5L247.1 76L222.4 101L204.5 116.3L194 124.1L184 130.8L167 139.3L161.5 140.9L158 141L154.5 139.8L152 138.1L149.5 135.3L147 131.1L145 125.8L143.2 118L142.5 112.5L142.6 106L143.4 99L145.7 88L165.5 10.4L167.7 -3.5L169.1 -23.5L171.4 -27L174.8 -29.5L178 -31.3L183.5 -33.4L198.5 -37.1L218.4 -40M276.4 -40L314.9 -36.5L329.2 -34L338 -31.3M338 -26.5L336.1 -25.5L328.3 -14L313.6 2.5L302 14.6L246 75.4L221.5 100L211.5 108L203.5 113.5L186.5 123.6L177 127.9L170.5 130.2L163.5 132.2L159.5 132.7L157 131.8L153.6 128.5L150.6 124L148.2 119L146.3 113L145.5 108L145.4 100L149.3 80L167.3 8L169.5 -8L169.7 -16L170.4 -23L172.5 -26.4L176.5 -29.5L185.6 -33.5L198 -36.7L219.8 -40M270.8 -40L288 -38.6L308 -36.1L323 -33L329.5 -31L333.1 -29.5L333.8 -28.5L329.7 -20.5L323.2 -11.5L312 1.4L283.5 32.8L244.7 74.5L220.5 98.4L214 103.6L207 108.3L190 118.3L183.5 121.3L174.5 124.7L166 127L161 127.8L159 127.2L156.5 124.5L151.2 116L148.5 107.5L147.7 99.5L150 84.5L155.1 61L168.4 8L170.7 -7.5L171.6 -22.5L173.3 -25.5L177 -28.6L185.9 -33L198.5 -36.5L220.6 -40M267.3 -40L288 -38.1L299.5 -36.2L313.5 -32.8L323 -30L328.1 -28L329.2 -27L328.7 -25L325.9 -20L321 -12.9L310.1 0.5L282.5 31.7L243.3 73.5L219.5 96.6L213.6 101.5L208.5 104.9L198.5 110.9L189 115.8L177 120.4L169 122.5L162.5 123.6L161 123.2L159.3 121.5L154 113.5L152 108.5L150.8 104L150.1 100.5L150.2 97.5L152.1 82L156.3 61L170.2 5L172.1 -7.5L173.1 -22.5L174.6 -25L178 -28.1L187.6 -33L195 -35.4L201.5 -36.9L222 -40M263.7 -40L288 -37.4L299.5 -34.8L313 -30.4L322.5 -26.7L324.3 -25.5L324.2 -23.5L321.7 -19L308.2 -0.5L295.5 14.7L281 31L248 66.2L232.6 81.5L218.2 95L212.3 100L207.5 103.1L191.5 111.9L185.5 114.5L177 117.4L164.5 119.8L162.5 119.2L159.7 116L155.1 108L152.7 100L152.9 90.5L154 80.5L157.6 61L172.1 2L173.5 -7.5L174.4 -22L176 -24.5L179.8 -28L185.7 -31.5L193.3 -34.5L205.5 -37.5L224.2 -40M260.8 -40L278.5 -38.3L287 -36.9L298.6 -33.5L306.5 -30.3L317.5 -25.1L319.7 -23.5L319.5 -21.5L317 -17L303.8 1.5L294 13.7L279.8 30L246.7 65L231.4 80L217 93.2L210.1 99L206.5 101.4L192.5 108.9L185.5 111.8L179 114L166 116.3L164 115.5L161 111.8L158.5 107.8L155.8 101.5L155.1 96.5L155.2 86.5L156.7 73.5L160.3 54.5L165.5 32.4L173.5 2L174.8 -7L175.8 -21.5L178.2 -25L181 -27.5L186.3 -31L193.5 -34.1L205.5 -37.3L224.8 -40M259.2 -40L282.5 -37.2L287.7 -36L297 -32.5L306.5 -27.6L314.5 -22.5L315.3 -21L314.1 -18L305.5 -4.5L301.1 1.5L292.7 12.5L278.5 29L245.5 63.7L219 88.5L205.5 99.6L195 105.3L182 110.4L176 111.9L168 113L166 112.4L163.5 109.5L160.6 105L158.5 100.5L157.2 91L157.3 82L160 62L163.3 46.5L166.8 31.5L174.9 2L176.3 -7L177.2 -21L179.9 -25L184.7 -29L187.8 -31L194.2 -34L205.5 -37.1L224 -39.5L225.3 -40M256 -40L273.5 -38.3L281 -37L287.5 -35.3L294.6 -32L299 -29.5L305.4 -25L310.7 -20.5L310.8 -18.5L308.7 -14.5L299.2 0.5L291.1 11.5L283 21.4L254.6 52L244 62.6L227.5 78L208 94.8L199.8 100.5L192.5 104.1L184.5 107.1L177 109L170 109.8L168.4 109.5L166.5 107.7L163 103L161.2 99.5L159.3 88.5L159.4 78L161.4 61.5L164.9 44.5L168 31.5L176.3 2L177.7 -7L178.8 -20.5L181.3 -24.5L185.6 -28.5L189.2 -31L195 -33.9L205.9 -37L224 -39.3L225.8 -40M254.8 -40L273.5 -38L280.5 -36.7L287.5 -34.4L295.1 -30L303.7 -22.5L306.9 -18.5L306.2 -16L301.7 -7.5L289.9 10L276 26.8L247.6 56.5L226 76.5L206.5 93L197 99.5L191.5 102.1L184.5 104.6L178.5 106L172 106.7L170.5 106.5L168.5 104.7L165.4 101L164 98L162.2 91.5L161.3 86L161.2 74.5L162.8 61.5L166.1 44.5L169.2 31.5L177.8 2L179.2 -6.5L180.3 -20L182.2 -23.5L186.4 -28L189.7 -30.5L195 -33.5L205.5 -36.7L214.5 -38.2L224 -39.1L226.5 -40M226 -39.5L229 -39.9L253.5 -39.9L273 -37.8L281.1 -36L287.4 -33.5L294.9 -28L298.6 -24L301.8 -19.5L302.8 -17.5L302.8 -15.5L298.9 -7.5L293.1 2L287.9 9.5L280.9 18.5L268 32.9L251.6 50L239.1 62L211.5 86L197.5 96.3L191 99.9L185 102L178.5 103.4L172.5 103.5L170.5 101.9L168.1 99L164.5 90.3L163 83.5L162.9 73L165.2 55.5L169.1 36.5L179.3 2L180.7 -6L181.9 -19.5L184.3 -24L187.6 -28L191.5 -31L195.5 -33.3L206 -36.6L226 -39.5M227.3 -39.5L253.5 -39.6L272.5 -37.6L281 -35.5L287 -32.7L293 -27.5L297.7 -20.5L299.4 -16L299.1 -14L296.1 -7.5L290.9 1.5L286.3 8.5L279.4 17.5L267 31.5L250.5 48.5L240.1 58.5L213.5 81.4L203.5 89.2L197 93.6L190.5 97.2L185 99.3L179 100.6L174.5 100.5L172.6 99L170 95.5L166.3 88L164.9 82L164.5 72.5L165.6 61L168.4 45L172.5 28.2L180.7 2.5L182.1 -5L183 -17L183.6 -19.5L185.8 -24L188.4 -27.5L192.5 -31L195.8 -33L199.2 -34.5L206.2 -36.5L227.3 -39.5M225.7 -39L254 -39.3L268.4 -38L274.2 -37L280 -35.3L286.5 -32L291.4 -27L294.7 -20.5L296 -15.5L295.7 -12.5L293 -6.5L288.8 1L284.7 7.5L278.3 16L266 30L243.2 53L221.5 71.8L201 88L195 91.8L188 95.3L182 97L177 97.2L175 95.9L171.5 92.1L168.5 87L167.2 83.5L166.1 74L166.8 63.5L169.2 47.5L172.1 34L176.1 20.5L182.2 2.5L183.6 -5L184.7 -17L186.2 -22L187.7 -25L190.4 -28.5L194.5 -31.8L198.8 -34L209.8 -37L225.7 -39M226.8 -39L252.5 -39.1L259 -38.7L272.7 -37L280 -34.7L285.7 -31.5L288.7 -28.5L290.2 -26L291.9 -22L292.7 -17L292.8 -13L292.1 -10.5L286.1 1.5L282.6 7L276 16L264.5 29L242 51.6L220 70.2L200 85.6L194 89.4L188 92.3L182.5 93.8L178.5 93.7L176 92.1L173 89.3L170.4 85.5L168.9 82L167.7 73.5L168.3 62L170.3 48L173.5 33.5L177.3 21L183.8 2.5L185.2 -4.5L186.3 -16.5L187.9 -23L190.1 -27L193 -30L195.7 -32L199.7 -34L209.5 -36.7L226.8 -39M225.4 -38.5L236 -38.9L258.7 -38.5L270.8 -37L279.2 -34.5L285 -31L287.6 -28L288.7 -26L290.1 -21L290.1 -15L289.3 -10L284.3 0.5L281 6L274.5 15L263 28L241 49.9L226.8 62L199 83.3L193 87L188 89.4L183 90.7L180 90.5L177 89L174.5 87L172 83.8L170.6 81L169.3 73L169.7 61.5L171.6 48L174.7 33.5L178.6 21L184.5 5.5L185.8 0.5L189.3 -23.5L191.1 -27L193.3 -29.5L195.8 -31.5L199.6 -33.5L209.7 -36.5L225.4 -38.5M227 -38.5L253 -38.6L259 -38.2L271.2 -36.5L278.7 -34L284.2 -30.5L286.6 -27.5L287.5 -25.5L288.3 -22L288.1 -18L286.4 -9L283 -1.5L279.9 4L272.5 14.5L261.5 27L239.6 48.5L225.5 60.3L197.5 81.2L191.5 84.8L186.5 87L182.5 87.8L179 86.9L175.4 84.5L173.4 82L172.2 79.5L170.9 72.5L171.2 61.5L172.9 48.5L176 33.7L180 21L186 6L187.6 0L188.8 -7L190.5 -23.7L192 -26.8L194.3 -29.5L197 -31.5L200.9 -33.5L209.1 -36L227 -38.5M226.2 -38L253 -38.2L262.2 -37.5L270.6 -36L277.4 -33.5L283 -29.7L285 -26.8L285.7 -25L286.2 -22L285.9 -18.5L283.5 -9L280.8 -2.5L278 2.9L270.8 13L259.8 25.5L238.5 46.3L222.9 59L196.4 78.5L190.3 82L186 83.8L182.5 84.5L179.5 83.9L177.5 82.8L175.5 80.7L174.4 79L173.5 76L172.7 69.5L172.8 62.5L173.4 56.5L175.5 43.6L178.5 31.5L183 18.5L188.2 6.5L189.8 1L191.2 -7L192 -21.8L193 -25.1L195 -28.1L197.1 -30L200.3 -32L204.9 -34L214.7 -36.5L226.2 -38M226.3 -36.5L236 -36.8L257.5 -36.5L266.4 -35L271.6 -32.5L275.5 -28.4L276.5 -26.3L277.1 -23L275.5 -7.1L274 -0.5L260 14.4L242 32.2L225 46.2L208 61.6L199.5 68L192 72.6L185 75.5L182.5 76L180.5 75.7L178.9 74.5L177.5 72.1L176.8 69L176.7 65.5L177.7 57L180.7 44L184.5 34.2L188 27.3L193.5 18.4L200.3 9L203.9 2L206.7 -8.5L208 -23L209 -26.5L211 -29.6L214.2 -32.5L219.4 -35L226.3 -36.5M198.9 46.5L201.5 46.7L202.7 48.5L202 51.7L200 55.5L196.2 59.5L193.6 61.5L190.5 63L188 62.8L187.4 62L187.2 60L188 57.1L189.5 54.4L193 50.2L196.6 47.5L198.9 46.5" fill="none" stroke="#fff" stroke-opacity="0.4" stroke-width="0.5" stroke-dasharray="3.5 1.5"/><g fill="#3b73ab" fill-opacity="0.88" stroke="#fff" stroke-opacity="0.65" stroke-width="0.6"><circle cx="81.4" cy="53.1" r="4.2"/><circle cx="94.9" cy="56.8" r="4.2"/><circle cx="105.4" cy="56.8" r="4.2"/><circle cx="62.4" cy="66.8" r="4.2"/><circle cx="44.5" cy="77.6" r="4.2"/><circle cx="95.1" cy="66.3" r="4.2"/><circle cx="99.1" cy="65.9" r="4.2"/><circle cx="101.4" cy="69.9" r="4.2"/><circle cx="110.6" cy="67.6" r="4.2"/><circle cx="114.6" cy="64.2" r="4.2"/><circle cx="118.6" cy="61.9" r="4.2"/><circle cx="128.9" cy="67.9" r="4.2"/><circle cx="86.5" cy="71.7" r="4.2"/><circle cx="88.8" cy="74.5" r="4.2"/><circle cx="85.9" cy="77.4" r="4.2"/><circle cx="90.5" cy="80.2" r="4.2"/><circle cx="67.6" cy="75.7" r="4.2"/><circle cx="64.7" cy="79.1" r="4.2"/><circle cx="74.5" cy="78.3" r="4.2"/><circle cx="65.9" cy="84.3" r="4.2"/><circle cx="69.9" cy="89.4" r="4.2"/><circle cx="75" cy="91.1" r="4.2"/><circle cx="106" cy="73.9" r="4.2"/><circle cx="115.7" cy="73.4" r="4.2"/><circle cx="111.7" cy="78" r="4.2"/><circle cx="106.6" cy="81.4" r="4.2"/><circle cx="98.5" cy="83.1" r="4.2"/><circle cx="118" cy="80.8" r="4.2"/><circle cx="123.7" cy="79.7" r="4.2"/><circle cx="123.7" cy="85.4" r="4.2"/><circle cx="135.2" cy="78.5" r="4.2"/><circle cx="135.2" cy="84.3" r="4.2"/><circle cx="111.1" cy="85.4" r="4.2"/><circle cx="106" cy="89.4" r="4.2"/><circle cx="95.1" cy="88.8" r="4.2"/><circle cx="83.6" cy="91.1" r="4.2"/><circle cx="79.1" cy="94.6" r="4.2"/><circle cx="88.2" cy="94.6" r="4.2"/><circle cx="98" cy="95.7" r="4.2"/><circle cx="105.4" cy="94" r="4.2"/><circle cx="112.3" cy="92.3" r="4.2"/><circle cx="119.2" cy="88.8" r="4.2"/><circle cx="119.2" cy="97.4" r="4.2"/><circle cx="111.1" cy="98" r="4.2"/><circle cx="130.6" cy="94.6" r="4.2"/><circle cx="141.5" cy="92.1" r="4.2"/><circle cx="64.7" cy="98.6" r="4.2"/><circle cx="72.8" cy="98" r="4.2"/><circle cx="82.5" cy="98.6" r="4.2"/><circle cx="89.4" cy="99.7" r="4.2"/><circle cx="95.7" cy="99.2" r="4.2"/><circle cx="53.9" cy="104.9" r="4.2"/><circle cx="75" cy="108.1" r="4.2"/><circle cx="80.2" cy="107.2" r="4.2"/><circle cx="89.9" cy="108.6" r="4.2"/><circle cx="89.9" cy="120" r="4.2"/><circle cx="92.8" cy="91.1" r="4.2"/><circle cx="102.5" cy="91.1" r="4.2"/><circle cx="99.7" cy="79.7" r="4.2"/><circle cx="85.9" cy="96.9" r="4.2"/><circle cx="91.7" cy="93.4" r="4.2"/><circle cx="100.8" cy="93.4" r="4.2"/><circle cx="108.9" cy="90" r="4.2"/><circle cx="114.6" cy="85.4" r="4.2"/><circle cx="81.4" cy="92.3" r="4.2"/><circle cx="186.2" cy="123.9" r="4.2"/><circle cx="193.7" cy="128.1" r="4.2"/><circle cx="182" cy="131.4" r="4.2"/><circle cx="186.7" cy="133.3" r="4.2"/><circle cx="182" cy="137.5" r="4.2"/><circle cx="205.9" cy="122" r="4.2"/><circle cx="205.4" cy="128.1" r="4.2"/><circle cx="208.7" cy="130.5" r="4.2"/><circle cx="201.7" cy="134.2" r="4.2"/><circle cx="198.8" cy="134.2" r="4.2"/><circle cx="209.6" cy="135.6" r="4.2"/><circle cx="209.6" cy="138.9" r="4.2"/><circle cx="216.2" cy="126.7" r="4.2"/><circle cx="215.7" cy="130.5" r="4.2"/><circle cx="224.6" cy="128.6" r="4.2"/><circle cx="217.1" cy="138" r="4.2"/><circle cx="221.3" cy="139.9" r="4.2"/><circle cx="197.4" cy="142.2" r="4.2"/><circle cx="201.2" cy="153.5" r="4.2"/><circle cx="237.3" cy="132.8" r="4.2"/></g><g fill="#f5861a" stroke="#fff" stroke-opacity="0.6" stroke-width="0.5"><path d="M171.5 78.5L173.4 80.4L171.5 82.3L173.4 84.2L171.5 86.1L169.6 84.2L167.7 86.1L165.8 84.2L167.7 82.3L165.8 80.4L167.7 78.5L169.6 80.4Z"/><path d="M167.4 81.7L169.3 83.6L167.4 85.5L169.3 87.4L167.4 89.3L165.5 87.4L163.6 89.3L161.7 87.4L163.6 85.5L161.7 83.6L163.6 81.7L165.5 83.6Z"/><path d="M170.6 87.2L172.5 89.1L170.6 91.0L172.5 92.9L170.6 94.8L168.7 92.9L166.8 94.8L164.9 92.9L166.8 91.0L164.9 89.1L166.8 87.2L168.7 89.1Z"/><path d="M178.7 88.6L180.6 90.5L178.7 92.4L180.6 94.3L178.7 96.2L176.8 94.3L174.9 96.2L173.0 94.3L174.9 92.4L173.0 90.5L174.9 88.6L176.8 90.5Z"/><path d="M172.7 90.5L174.6 92.4L172.7 94.3L174.6 96.2L172.7 98.1L170.8 96.2L168.9 98.1L167.0 96.2L168.9 94.3L167.0 92.4L168.9 90.5L170.8 92.4Z"/><path d="M169.0 95.5L170.9 97.4L169.0 99.3L170.9 101.2L169.0 103.1L167.1 101.2L165.2 103.1L163.3 101.2L165.2 99.3L163.3 97.4L165.2 95.5L167.1 97.4Z"/><path d="M176.8 96.2L178.7 98.1L176.8 100.0L178.7 101.9L176.8 103.8L174.9 101.9L173.0 103.8L171.1 101.9L173.0 100.0L171.1 98.1L173.0 96.2L174.9 98.1Z"/><path d="M166.2 99.0L168.1 100.9L166.2 102.8L168.1 104.7L166.2 106.6L164.3 104.7L162.4 106.6L160.5 104.7L162.4 102.8L160.5 100.9L162.4 99.0L164.3 100.9Z"/><path d="M171.7 99.9L173.6 101.8L171.7 103.7L173.6 105.6L171.7 107.5L169.8 105.6L167.9 107.5L166.0 105.6L167.9 103.7L166.0 101.8L167.9 99.9L169.8 101.8Z"/><path d="M174.0 92.5L175.9 94.4L174.0 96.3L175.9 98.2L174.0 100.1L172.1 98.2L170.2 100.1L168.3 98.2L170.2 96.3L168.3 94.4L170.2 92.5L172.1 94.4Z"/><path d="M35.8 152.3L37.7 154.2L35.8 156.1L37.7 158.0L35.8 159.9L33.9 158.0L32.0 159.9L30.1 158.0L32.0 156.1L30.1 154.2L32.0 152.3L33.9 154.2Z"/><path d="M41.2 162.5L43.1 164.4L41.2 166.3L43.1 168.2L41.2 170.1L39.3 168.2L37.4 170.1L35.5 168.2L37.4 166.3L35.5 164.4L37.4 162.5L39.3 164.4Z"/><path d="M63.6 150.3L65.5 152.2L63.6 154.1L65.5 156.0L63.6 157.9L61.7 156.0L59.8 157.9L57.9 156.0L59.8 154.1L57.9 152.2L59.8 150.3L61.7 152.2Z"/><path d="M59.5 156.4L61.4 158.3L59.5 160.2L61.4 162.1L59.5 164.0L57.6 162.1L55.7 164.0L53.8 162.1L55.7 160.2L53.8 158.3L55.7 156.4L57.6 158.3Z"/><path d="M67.0 157.1L68.9 159.0L67.0 160.9L68.9 162.8L67.0 164.7L65.1 162.8L63.2 164.7L61.3 162.8L63.2 160.9L61.3 159.0L63.2 157.1L65.1 159.0Z"/><path d="M60.9 161.8L62.8 163.7L60.9 165.6L62.8 167.5L60.9 169.4L59.0 167.5L57.1 169.4L55.2 167.5L57.1 165.6L55.2 163.7L57.1 161.8L59.0 163.7Z"/><path d="M64.9 161.1L66.8 163.0L64.9 164.9L66.8 166.8L64.9 168.7L63.0 166.8L61.1 168.7L59.2 166.8L61.1 164.9L59.2 163.0L61.1 161.1L63.0 163.0Z"/><path d="M81.8 154.4L83.7 156.3L81.8 158.2L83.7 160.1L81.8 162.0L79.9 160.1L78.0 162.0L76.1 160.1L78.0 158.2L76.1 156.3L78.0 154.4L79.9 156.3Z"/></g></g><rect x="0.7" y="0.7" width="298" height="193" fill="none" stroke="#333" stroke-width="1.25"/></svg></div>
<div class="panel" id="pe" style="left:330px;top:330px"><svg width="300" height="195" viewBox="0 0 300 195"><defs><clipPath id="cle"><rect width="299.3" height="194.3"/></clipPath></defs><g clip-path="url(#cle)"><rect width="300" height="195" fill="#f5f5f5"/>
<path d="M74.4 -30L103 -30.2L109.5 -29.7L122.5 -27.4L128.5 -25.4L132 -23.6L135.4 -20.5L137.1 -18L140 -7.8L143 -2.5L160.5 8.3L179.5 22.5L185.5 25.6L196 32.2L210.1 43.5L239.5 58.2L252.5 66.1L260.5 72.4L267.5 79L272.8 85L280.1 95L283.8 101L286.1 106.5L287.9 112L289.5 121.5L289.5 133.5L288.7 141.5L286.8 151L282.3 163.5L278.7 170.5L275.3 176L266.7 186.5L253.8 198.5L252.5 205L251.3 215L249.2 219L245.5 222.4L240.5 225.2L230.5 228.1L220.5 229.6L205.5 230.7L196.5 230.7L182 229.5L174 228.3L163.5 225.3L160.5 224L156 221.1L152.4 217L150.5 212.5L149.5 204.4L148.5 200.1L147.6 198.5L142.8 195.5L135.4 192L124.7 188L112.7 185L85 181.2L47 174.8L39 172.3L32 168.8L24 162.6L17.4 155L9.3 142L3.9 131L1.5 127.9L-1.8 125.5L-6.4 123.5L-16 121.6L-18.5 120.7L-20.4 119.5L-23.2 116.5L-25.7 112L-28.1 104.5L-30.2 91L-30.7 79.5L-30.1 64L-29.1 55.5L-26.9 46L-23.4 39L-21 36.3L-18 34.7L-6.4 33L0.3 30.5L3.6 28L10.2 19.5L18.5 11.7L27.5 5.8L37 1.3L39.1 -1.5L40.5 -5L43.3 -17.5L45.1 -20.5L48.5 -23.3L53.5 -25.9L58 -27.4L66.5 -29.1L74.4 -30Z" fill="#e2e2e2"/>
<path d="M90.1 -1L103 -1.2L116 0.4L129 3.9L141.5 9.2L149.5 13.8L157.5 19.2L180.4 38L189.5 44.5L201.2 51L227 62.1L239 68.2L251 76.3L256.4 81L261.2 86L265.7 91.5L269.3 97L272.6 103L275.3 109.5L277.3 116L278.6 123L279.2 129.5L279.2 136.5L278.4 143.5L276.9 150L274.8 156.5L272.2 162.5L268.9 168.5L265 174.2L260.5 179.5L255.5 184.4L248.5 190L241 194.6L233 198.3L224 201.3L215 203.2L205.5 204L196.5 203.8L187 202.5L177.5 200.2L167.5 196.6L158 192.4L137 181.8L124.5 177L112 174.2L79.5 169.5L70 167.2L61 164.2L51 159.6L42 154.1L34 147.9L26.6 140.5L22.1 135L18 129L11.6 116.5L7.8 104.5L3.7 83.5L3.7 78.5L6.2 67L13.1 48L18.8 37.5L24.5 30.2L28.5 26.2L33.5 22.3L46.5 13.7L56.5 8.2L67.5 3.7L78.5 0.7L90.1 -1Z" fill="#d2d2d2"/>
<path d="M89.8 7L102 6.7L114 8.1L125.5 11.1L137 15.9L145 20.4L152.5 25.5L175.5 44.5L185 51.2L196.5 57.3L221.5 67.2L233 72.7L244.5 80L254.1 88.5L262 98.6L265.1 104L267.9 110L269.9 116L271.2 122L272.1 134L271.6 140L270.6 146L268.9 152L266.5 158L260.4 168.5L256.5 173.5L252 178.2L245.5 183.6L238.5 188.1L231 191.8L222.5 194.7L214 196.5L205.5 197.3L197 197L188.5 195.9L179 193.5L169 189.8L159.5 185.3L138.5 174.1L126.5 169.3L114 166.4L82.5 162.1L73.5 159.9L65 157.2L56.5 153.4L48.5 148.7L41 143.1L34.5 137L26.5 127L20.2 115.5L16.7 105.5L12 86L11.5 81L12.6 73.5L15.5 63L19.8 51.5L24.8 42L30 35.1L37.3 28.5L44.5 23.4L52.5 18.8L68.5 11.8L79 8.7L89.8 7Z" fill="#c3c3c3"/>
<path d="M91.8 13.5L102.5 13.4L113.5 14.8L124 17.7L134 21.9L141.5 26.1L148.7 31L171.5 50.2L181.2 57L192.5 62.7L217 71.7L228.5 76.8L239.5 83.5L248.9 91.5L256.2 100.5L261.6 110.5L265 121.5L266.1 132.5L265 143.5L261.5 154.5L256 164.5L248.5 173.4L242.5 178.6L236 182.9L229 186.4L221.5 189L213.5 190.8L205.5 191.5L197.5 191.4L189.5 190.3L180 187.9L170 184L161 179.4L140.5 167.8L128.5 162.7L116 159.8L84.5 155.7L76 153.7L68 151.1L60 147.6L53 143.5L46.5 138.8L40.7 133.5L33.5 124.9L27.7 115L24 105.5L20.2 90.5L19 83L19.2 77L21.3 68L25.3 56.5L29.2 48.5L35.6 39.5L43.3 32.5L50.5 27.3L61.1 21.5L69 18.4L81 15.1L91.8 13.5Z" fill="#b3b3b3"/>
<path d="M90.6 19.5L101 19.2L111 20.3L121 22.9L130.5 26.8L138 30.9L145 35.7L168 55.4L177.5 62.1L189 67.6L213 75.7L224 80.2L234.5 86.2L243.5 93.4L250.5 101.5L255.8 110.5L259.3 120.5L260.7 130.5L260 141L257.2 151L252.5 160.3L246 168.5L240.5 173.6L234.5 177.8L228 181.2L221 183.8L213.5 185.6L206 186.5L198.5 186.4L190.5 185.3L181 182.9L171 178.8L162 174L143 162.4L133 157.7L127 155.8L120.5 154.3L90.5 150.8L75.5 147.5L67.5 144.5L60 140.8L53 136.2L46.8 131L40.1 123.5L34.9 115.5L31.1 107L28.1 97L26.8 88.5L26.3 79L27.8 71L30.7 62L34.9 53L39.5 46L46.3 39L54 32.7L64 26.8L70.7 24L81 21.1L90.6 19.5Z" fill="#a4a4a4"/>
<path d="M89.9 25L99.5 24.6L109 25.5L118.5 27.8L127.5 31.3L135 35.4L142.3 40.5L164.5 60.1L174.5 67.2L185.5 72.2L209 79.4L219.5 83.3L230 88.9L238.8 95.5L245.5 102.8L250.7 111L254.1 120L255.7 129.5L255.3 139L253.1 148L249 156.7L243.2 164.5L238 169.5L232.5 173.5L226.5 176.7L220 179.3L213 181L206 181.8L199 181.8L191.5 180.8L182 178.3L172 174L163.1 169L144.5 157L134 151.9L128.1 150L122 148.7L93 145.8L79 142.9L71.5 140.3L64.5 137L58 133L52 128.2L46.1 122L41.2 115L37.2 107L34.6 99L33.2 90.5L33.2 81.5L34.3 73.5L36.7 65.5L40.4 57.5L44.9 50.5L50.6 44L57.4 38L64.5 33.3L72.5 29.5L81 26.7L89.9 25Z" fill="#949494"/>
<path d="M90.8 30L99.5 29.6L108 30.4L116.5 32.5L125 35.8L132.6 40L140.3 45.5L161.5 64.9L172 73.2L178.5 75.8L204.5 82.8L215 86.2L226 91.6L234.9 98L241.1 104.5L246 112L249.5 120.5L251 129L250.8 137.5L248.9 146L245.2 154L240.2 161L235.7 165.5L230.5 169.4L224.5 172.8L218.5 175.1L212 176.7L205.5 177.4L199 177.4L192 176.5L182.5 173.8L173 169.6L164.5 164.5L146 151.6L135.5 146.3L130 144.6L123.5 143.3L95.5 141L82 138.5L74.5 136L68 133L62 129.4L56.5 125.2L50.9 119.5L46.2 113L42.6 106L40.1 99L38.7 91.5L38.4 83.5L39.4 75.5L41.5 68L44.8 60.5L49 53.8L54.4 47.5L60.5 42.2L67.5 37.5L74.9 34L82.5 31.5L90.8 30Z" fill="#858585"/>
<path d="M96 34.5L105 34.9L114 36.8L122.5 40L131 44.8L138.5 50.4L146.1 57.5L161.1 72.5L167.5 81.5L170 83.5L172 83.9L178 82.9L183.5 83L194 84.8L205.5 87.6L213 90L220 93.1L226.5 96.9L231.8 101L237.5 107L242.1 114L245.1 121.5L246.5 129L246.3 137L244.7 144.5L241.3 152L236.6 158.5L232.5 162.5L227.5 166.2L222 169.2L216.5 171.2L210.5 172.6L204.5 173.3L198.5 173.1L192 172.2L182.5 169.3L173.5 164.9L165.2 159.5L147.5 146.3L142.5 143.3L137.5 140.9L132 139.2L125.5 138L98 136.4L85 134.2L78 132.1L71.5 129.3L65.5 125.8L60 121.5L54.6 116L50.4 110L46.9 103L44.7 96L43.7 89L43.7 81.5L45 74L47.3 67L50.9 60L55.3 54L60.5 48.6L66.5 43.9L73.4 40L80.5 37.2L88 35.3L96 34.5Z" fill="#757575"/>
<path d="M92.7 39.5L102.5 39.5L112.5 41.4L122 45.1L131 50.7L140.5 59L156 75.8L159.3 80.5L166.2 93L168.6 95.5L170.5 96L173 95.3L179 90.8L182 89.3L186 88.7L191 89.1L202.5 91.2L212 94.1L220.5 98.1L227.5 102.9L233 108.3L237.4 114.5L240.3 121L241.9 128L242.1 135L240.8 142L238.2 148.5L234.2 154.5L230.5 158.5L226.1 162L221 165L216 167L210.5 168.4L204.5 169.1L199 169L193 168.2L183.5 165.2L174.5 160.6L166 154.6L149 140.5L144 137.3L139 135L133.5 133.4L127.5 132.5L101.5 131.8L88.5 130.1L82 128.4L75.8 126L70 122.9L65 119.3L60 114.5L56 109.5L52.6 103.5L50.4 97.5L49 91L48.7 84.5L49.3 78L51 71.5L53.5 65.5L57.2 59.5L61.9 54L67 49.5L72.5 45.9L79 42.8L86 40.6L92.7 39.5Z" fill="#666666"/>
<path d="M91.3 44.5L101 44.2L110.5 45.8L119.5 49.3L128 54.6L135.8 61.5L144.2 71L156.5 86.6L163.1 98.5L166 100.9L168.5 101.5L171.5 101.1L174.5 99.9L183.5 94.6L187 93.8L191 93.9L200.5 95.2L209.5 97.7L217 101L223.5 105.1L228.5 109.7L232.6 115L235.6 121L237.2 127L237.6 133.5L236.7 140L234.4 146L231 151.5L227.5 155.3L223.5 158.5L219.3 161L214.5 163L209.5 164.3L204 164.9L199 164.8L193.5 164L184.3 161L175.3 156L167.1 149.5L150.5 134L146 130.8L141.5 128.6L136.5 127.2L130.5 126.5L105 127.1L92.5 126L86 124.6L80 122.5L74.5 119.9L69.5 116.5L64.9 112.5L61.1 108L58.1 103L55.7 97.5L54.3 92L53.8 86L54.1 80L55.5 74L57.6 68.5L60.8 63L64.5 58.4L69 54.2L74 50.6L79.5 47.8L85.5 45.7L91.3 44.5Z" fill="#565656"/>
<path d="M96.1 49L104.5 49.5L112.5 51.6L120 55.2L127.3 60.5L132.5 65.5L137.1 71L153 93.9L157.5 101.5L159.3 103.5L161.5 105.1L165 106.1L169.5 105.9L174 104.4L184 99.6L188 98.8L192.5 98.8L200.5 99.8L208 101.8L214.5 104.6L220.5 108.3L225 112.4L228.5 117L231 122L232.6 127.5L233 133L232.2 138.5L230.5 143.5L227.5 148.5L224.5 151.9L221 154.8L217 157.2L212.5 159L208 160.1L203 160.6L198.5 160.4L193.5 159.6L188.5 158L184 156L174.8 150L167 142.5L152.5 125.4L149 122.5L145.5 120.6L141 119.4L136 119.1L110 121.8L96.5 121.6L89.7 120.5L83.5 118.6L78 116.1L73 112.8L69 109.3L65.4 105L62.5 100.2L60.4 95L59.3 90L59 84.5L59.6 79L61 73.9L63.4 68.5L66.4 64L70 60L74.5 56.3L79.5 53.3L85 51L90.5 49.6L96.1 49Z" fill="#474747"/>
<path d="M92.9 54.5L97.5 54.2L102.5 54.5L107.5 55.5L112 57L120.5 61.9L128.2 69L132 74L135.6 80L138.7 86.5L140.7 92.5L141.5 97L141.3 101L140.1 104L138 106.5L131.5 110.5L121.6 114L111 116.2L101 116.7L92.5 115.8L84.5 113.4L77.5 109.5L71.9 104.5L67.3 97.5L65 90L64.7 82L66.8 74L71 66.9L77 61L84.5 56.8L92.9 54.5ZM188.8 104L194 103.9L200 104.6L205.5 105.9L210.5 107.8L215 110.2L219 113.2L222.2 116.5L224.9 120.5L226.9 125L227.8 129.5L227.9 134L227 138.5L225.4 142.5L222.8 146.5L219.5 149.8L215.5 152.5L209.3 155L202.5 155.9L195.5 155.3L189 153.3L182.5 149.7L176.6 145L171.2 139L166.6 132L163.9 126.5L162.4 121.5L162.2 117.5L163.4 115L166.8 112.5L180.5 106.2L184.5 104.7L188.8 104Z" fill="#373737"/>
<path d="M95.5 60L100 60L104.5 60.6L109 62L113.1 64L117 66.6L120.8 70L124 73.7L126.8 78L128.8 82.5L130.1 87L130.6 91L130.2 95L129.2 98L127.3 101L124.5 103.8L121 106.1L114.5 108.9L107.5 110.5L100.5 110.9L93.5 110.2L87 108.2L81.5 105.1L77 101.2L73.7 96.5L71.4 90.5L70.7 84.5L71.7 78.5L74.1 73L78 68L83 64L89 61.3L95.5 60ZM189.1 110L198 109.8L206.5 111.7L213.5 115.5L216.5 118.2L219 121.3L220.7 124.5L221.8 128L222.3 131.5L222 135L221 138.5L219.1 142L217 144.6L214 147L210 149.1L205 150.5L200 150.6L195 149.8L190 148L185 145L181 141.5L177.3 137L174.6 132L173.2 127.5L172.9 123L173.8 119.5L175.8 116.5L179.5 113.5L184 111.3L189.1 110Z" fill="#282828"/>
<path d="M94.9 67L102 67.2L108.7 69.5L114.7 74L118.9 80L120.8 86.5L120.8 89.5L120.2 92.5L119 95L117.2 97.5L114.5 99.8L111.6 101.5L107.5 103L102.5 103.9L97.5 103.9L93 103L89 101.5L85.1 99L82.1 96L79.9 92.5L78.5 88.5L78.2 84.5L78.8 80.5L80.5 76.5L83.1 73L86.5 70.2L90.5 68.1L94.9 67ZM192.8 117L198.5 116.6L204 117.8L209 120.5L212.5 124L214.6 128.5L214.8 133.5L213.1 138L209.7 141.5L206.9 143L203.5 143.9L200.5 144.1L197 143.6L193.5 142.4L190.5 140.7L187.9 138.5L185.5 135.7L183.8 132.5L182.9 129.5L182.8 126.5L183.4 124L184.8 121.5L186.9 119.5L189.6 118L192.8 117Z" fill="#181818"/>
<path d="M74.4 -30L103 -30.2L109.5 -29.7L122.5 -27.4L128.5 -25.4L132 -23.6L135.4 -20.5L137.1 -18L140 -7.8L143 -2.5L160.5 8.3L179.5 22.5L185.5 25.6L196 32.2L210.1 43.5L239.5 58.2L252.5 66.1L260.5 72.4L267.5 79L272.8 85L280.1 95L283.8 101L286.1 106.5L287.9 112L289.5 121.5L289.5 133.5L288.7 141.5L286.8 151L282.3 163.5L278.7 170.5L275.3 176L266.7 186.5L253.8 198.5L252.5 205L251.3 215L249.2 219L245.5 222.4L240.5 225.2L230.5 228.1L220.5 229.6L205.5 230.7L196.5 230.7L182 229.5L174 228.3L163.5 225.3L160.5 224L156 221.1L152.4 217L150.5 212.5L149.5 204.4L148.5 200.1L147.6 198.5L142.8 195.5L135.4 192L124.7 188L112.7 185L85 181.2L47 174.8L39 172.3L32 168.8L24 162.6L17.4 155L9.3 142L3.9 131L1.5 127.9L-1.8 125.5L-6.4 123.5L-16 121.6L-18.5 120.7L-20.4 119.5L-23.2 116.5L-25.7 112L-28.1 104.5L-30.2 91L-30.7 79.5L-30.1 64L-29.1 55.5L-26.9 46L-23.4 39L-21 36.3L-18 34.7L-6.4 33L0.3 30.5L3.6 28L10.2 19.5L18.5 11.7L27.5 5.8L37 1.3L39.1 -1.5L40.5 -5L43.3 -17.5L45.1 -20.5L48.5 -23.3L53.5 -25.9L58 -27.4L66.5 -29.1L74.4 -30M90.1 -1L103 -1.2L116 0.4L129 3.9L141.5 9.2L149.5 13.8L157.5 19.2L180.4 38L189.5 44.5L201.2 51L227 62.1L239 68.2L251 76.3L256.4 81L261.2 86L265.7 91.5L269.3 97L272.6 103L275.3 109.5L277.3 116L278.6 123L279.2 129.5L279.2 136.5L278.4 143.5L276.9 150L274.8 156.5L272.2 162.5L268.9 168.5L265 174.2L260.5 179.5L255.5 184.4L248.5 190L241 194.6L233 198.3L224 201.3L215 203.2L205.5 204L196.5 203.8L187 202.5L177.5 200.2L167.5 196.6L158 192.4L137 181.8L124.5 177L112 174.2L79.5 169.5L70 167.2L61 164.2L51 159.6L42 154.1L34 147.9L26.6 140.5L22.1 135L18 129L11.6 116.5L7.8 104.5L3.7 83.5L3.7 78.5L6.2 67L13.1 48L18.8 37.5L24.5 30.2L28.5 26.2L33.5 22.3L46.5 13.7L56.5 8.2L67.5 3.7L78.5 0.7L90.1 -1M89.8 7L102 6.7L114 8.1L125.5 11.1L137 15.9L145 20.4L152.5 25.5L175.5 44.5L185 51.2L196.5 57.3L221.5 67.2L233 72.7L244.5 80L254.1 88.5L262 98.6L265.1 104L267.9 110L269.9 116L271.2 122L272.1 134L271.6 140L270.6 146L268.9 152L266.5 158L260.4 168.5L256.5 173.5L252 178.2L245.5 183.6L238.5 188.1L231 191.8L222.5 194.7L214 196.5L205.5 197.3L197 197L188.5 195.9L179 193.5L169 189.8L159.5 185.3L138.5 174.1L126.5 169.3L114 166.4L82.5 162.1L73.5 159.9L65 157.2L56.5 153.4L48.5 148.7L41 143.1L34.5 137L26.5 127L20.2 115.5L16.7 105.5L12 86L11.5 81L12.6 73.5L15.5 63L19.8 51.5L24.8 42L30 35.1L37.3 28.5L44.5 23.4L52.5 18.8L68.5 11.8L79 8.7L89.8 7M91.8 13.5L102.5 13.4L113.5 14.8L124 17.7L134 21.9L141.5 26.1L148.7 31L171.5 50.2L181.2 57L192.5 62.7L217 71.7L228.5 76.8L239.5 83.5L248.9 91.5L256.2 100.5L261.6 110.5L265 121.5L266.1 132.5L265 143.5L261.5 154.5L256 164.5L248.5 173.4L242.5 178.6L236 182.9L229 186.4L221.5 189L213.5 190.8L205.5 191.5L197.5 191.4L189.5 190.3L180 187.9L170 184L161 179.4L140.5 167.8L128.5 162.7L116 159.8L84.5 155.7L76 153.7L68 151.1L60 147.6L53 143.5L46.5 138.8L40.7 133.5L33.5 124.9L27.7 115L24 105.5L20.2 90.5L19 83L19.2 77L21.3 68L25.3 56.5L29.2 48.5L35.6 39.5L43.3 32.5L50.5 27.3L61.1 21.5L69 18.4L81 15.1L91.8 13.5M90.6 19.5L101 19.2L111 20.3L121 22.9L130.5 26.8L138 30.9L145 35.7L168 55.4L177.5 62.1L189 67.6L213 75.7L224 80.2L234.5 86.2L243.5 93.4L250.5 101.5L255.8 110.5L259.3 120.5L260.7 130.5L260 141L257.2 151L252.5 160.3L246 168.5L240.5 173.6L234.5 177.8L228 181.2L221 183.8L213.5 185.6L206 186.5L198.5 186.4L190.5 185.3L181 182.9L171 178.8L162 174L143 162.4L133 157.7L127 155.8L120.5 154.3L90.5 150.8L75.5 147.5L67.5 144.5L60 140.8L53 136.2L46.8 131L40.1 123.5L34.9 115.5L31.1 107L28.1 97L26.8 88.5L26.3 79L27.8 71L30.7 62L34.9 53L39.5 46L46.3 39L54 32.7L64 26.8L70.7 24L81 21.1L90.6 19.5M89.9 25L99.5 24.6L109 25.5L118.5 27.8L127.5 31.3L135 35.4L142.3 40.5L164.5 60.1L174.5 67.2L185.5 72.2L209 79.4L219.5 83.3L230 88.9L238.8 95.5L245.5 102.8L250.7 111L254.1 120L255.7 129.5L255.3 139L253.1 148L249 156.7L243.2 164.5L238 169.5L232.5 173.5L226.5 176.7L220 179.3L213 181L206 181.8L199 181.8L191.5 180.8L182 178.3L172 174L163.1 169L144.5 157L134 151.9L128.1 150L122 148.7L93 145.8L79 142.9L71.5 140.3L64.5 137L58 133L52 128.2L46.1 122L41.2 115L37.2 107L34.6 99L33.2 90.5L33.2 81.5L34.3 73.5L36.7 65.5L40.4 57.5L44.9 50.5L50.6 44L57.4 38L64.5 33.3L72.5 29.5L81 26.7L89.9 25M90.8 30L99.5 29.6L108 30.4L116.5 32.5L125 35.8L132.6 40L140.3 45.5L161.5 64.9L172 73.2L178.5 75.8L204.5 82.8L215 86.2L226 91.6L234.9 98L241.1 104.5L246 112L249.5 120.5L251 129L250.8 137.5L248.9 146L245.2 154L240.2 161L235.7 165.5L230.5 169.4L224.5 172.8L218.5 175.1L212 176.7L205.5 177.4L199 177.4L192 176.5L182.5 173.8L173 169.6L164.5 164.5L146 151.6L135.5 146.3L130 144.6L123.5 143.3L95.5 141L82 138.5L74.5 136L68 133L62 129.4L56.5 125.2L50.9 119.5L46.2 113L42.6 106L40.1 99L38.7 91.5L38.4 83.5L39.4 75.5L41.5 68L44.8 60.5L49 53.8L54.4 47.5L60.5 42.2L67.5 37.5L74.9 34L82.5 31.5L90.8 30M96 34.5L105 34.9L114 36.8L122.5 40L131 44.8L138.5 50.4L146.1 57.5L161.1 72.5L167.5 81.5L170 83.5L172 83.9L178 82.9L183.5 83L194 84.8L205.5 87.6L213 90L220 93.1L226.5 96.9L231.8 101L237.5 107L242.1 114L245.1 121.5L246.5 129L246.3 137L244.7 144.5L241.3 152L236.6 158.5L232.5 162.5L227.5 166.2L222 169.2L216.5 171.2L210.5 172.6L204.5 173.3L198.5 173.1L192 172.2L182.5 169.3L173.5 164.9L165.2 159.5L147.5 146.3L142.5 143.3L137.5 140.9L132 139.2L125.5 138L98 136.4L85 134.2L78 132.1L71.5 129.3L65.5 125.8L60 121.5L54.6 116L50.4 110L46.9 103L44.7 96L43.7 89L43.7 81.5L45 74L47.3 67L50.9 60L55.3 54L60.5 48.6L66.5 43.9L73.4 40L80.5 37.2L88 35.3L96 34.5M92.7 39.5L102.5 39.5L112.5 41.4L122 45.1L131 50.7L140.5 59L156 75.8L159.3 80.5L166.2 93L168.6 95.5L170.5 96L173 95.3L179 90.8L182 89.3L186 88.7L191 89.1L202.5 91.2L212 94.1L220.5 98.1L227.5 102.9L233 108.3L237.4 114.5L240.3 121L241.9 128L242.1 135L240.8 142L238.2 148.5L234.2 154.5L230.5 158.5L226.1 162L221 165L216 167L210.5 168.4L204.5 169.1L199 169L193 168.2L183.5 165.2L174.5 160.6L166 154.6L149 140.5L144 137.3L139 135L133.5 133.4L127.5 132.5L101.5 131.8L88.5 130.1L82 128.4L75.8 126L70 122.9L65 119.3L60 114.5L56 109.5L52.6 103.5L50.4 97.5L49 91L48.7 84.5L49.3 78L51 71.5L53.5 65.5L57.2 59.5L61.9 54L67 49.5L72.5 45.9L79 42.8L86 40.6L92.7 39.5M91.3 44.5L101 44.2L110.5 45.8L119.5 49.3L128 54.6L135.8 61.5L144.2 71L156.5 86.6L163.1 98.5L166 100.9L168.5 101.5L171.5 101.1L174.5 99.9L183.5 94.6L187 93.8L191 93.9L200.5 95.2L209.5 97.7L217 101L223.5 105.1L228.5 109.7L232.6 115L235.6 121L237.2 127L237.6 133.5L236.7 140L234.4 146L231 151.5L227.5 155.3L223.5 158.5L219.3 161L214.5 163L209.5 164.3L204 164.9L199 164.8L193.5 164L184.3 161L175.3 156L167.1 149.5L150.5 134L146 130.8L141.5 128.6L136.5 127.2L130.5 126.5L105 127.1L92.5 126L86 124.6L80 122.5L74.5 119.9L69.5 116.5L64.9 112.5L61.1 108L58.1 103L55.7 97.5L54.3 92L53.8 86L54.1 80L55.5 74L57.6 68.5L60.8 63L64.5 58.4L69 54.2L74 50.6L79.5 47.8L85.5 45.7L91.3 44.5M96.1 49L104.5 49.5L112.5 51.6L120 55.2L127.3 60.5L132.5 65.5L137.1 71L153 93.9L157.5 101.5L159.3 103.5L161.5 105.1L165 106.1L169.5 105.9L174 104.4L184 99.6L188 98.8L192.5 98.8L200.5 99.8L208 101.8L214.5 104.6L220.5 108.3L225 112.4L228.5 117L231 122L232.6 127.5L233 133L232.2 138.5L230.5 143.5L227.5 148.5L224.5 151.9L221 154.8L217 157.2L212.5 159L208 160.1L203 160.6L198.5 160.4L193.5 159.6L188.5 158L184 156L174.8 150L167 142.5L152.5 125.4L149 122.5L145.5 120.6L141 119.4L136 119.1L110 121.8L96.5 121.6L89.7 120.5L83.5 118.6L78 116.1L73 112.8L69 109.3L65.4 105L62.5 100.2L60.4 95L59.3 90L59 84.5L59.6 79L61 73.9L63.4 68.5L66.4 64L70 60L74.5 56.3L79.5 53.3L85 51L90.5 49.6L96.1 49M92.9 54.5L97.5 54.2L102.5 54.5L107.5 55.5L112 57L120.5 61.9L128.2 69L132 74L135.6 80L138.7 86.5L140.7 92.5L141.5 97L141.3 101L140.1 104L138 106.5L131.5 110.5L121.6 114L111 116.2L101 116.7L92.5 115.8L84.5 113.4L77.5 109.5L71.9 104.5L67.3 97.5L65 90L64.7 82L66.8 74L71 66.9L77 61L84.5 56.8L92.9 54.5M188.8 104L194 103.9L200 104.6L205.5 105.9L210.5 107.8L215 110.2L219 113.2L222.2 116.5L224.9 120.5L226.9 125L227.8 129.5L227.9 134L227 138.5L225.4 142.5L222.8 146.5L219.5 149.8L215.5 152.5L209.3 155L202.5 155.9L195.5 155.3L189 153.3L182.5 149.7L176.6 145L171.2 139L166.6 132L163.9 126.5L162.4 121.5L162.2 117.5L163.4 115L166.8 112.5L180.5 106.2L184.5 104.7L188.8 104M95.5 60L100 60L104.5 60.6L109 62L113.1 64L117 66.6L120.8 70L124 73.7L126.8 78L128.8 82.5L130.1 87L130.6 91L130.2 95L129.2 98L127.3 101L124.5 103.8L121 106.1L114.5 108.9L107.5 110.5L100.5 110.9L93.5 110.2L87 108.2L81.5 105.1L77 101.2L73.7 96.5L71.4 90.5L70.7 84.5L71.7 78.5L74.1 73L78 68L83 64L89 61.3L95.5 60M189.1 110L198 109.8L206.5 111.7L213.5 115.5L216.5 118.2L219 121.3L220.7 124.5L221.8 128L222.3 131.5L222 135L221 138.5L219.1 142L217 144.6L214 147L210 149.1L205 150.5L200 150.6L195 149.8L190 148L185 145L181 141.5L177.3 137L174.6 132L173.2 127.5L172.9 123L173.8 119.5L175.8 116.5L179.5 113.5L184 111.3L189.1 110M94.9 67L102 67.2L108.7 69.5L114.7 74L118.9 80L120.8 86.5L120.8 89.5L120.2 92.5L119 95L117.2 97.5L114.5 99.8L111.6 101.5L107.5 103L102.5 103.9L97.5 103.9L93 103L89 101.5L85.1 99L82.1 96L79.9 92.5L78.5 88.5L78.2 84.5L78.8 80.5L80.5 76.5L83.1 73L86.5 70.2L90.5 68.1L94.9 67M192.8 117L198.5 116.6L204 117.8L209 120.5L212.5 124L214.6 128.5L214.8 133.5L213.1 138L209.7 141.5L206.9 143L203.5 143.9L200.5 144.1L197 143.6L193.5 142.4L190.5 140.7L187.9 138.5L185.5 135.7L183.8 132.5L182.9 129.5L182.8 126.5L183.4 124L184.8 121.5L186.9 119.5L189.6 118L192.8 117" fill="none" stroke="#fff" stroke-opacity="0.4" stroke-width="0.5" stroke-dasharray="3.5 1.5"/><g fill="#3b73ab" fill-opacity="0.88" stroke="#fff" stroke-opacity="0.65" stroke-width="0.6"><circle cx="81.4" cy="53.1" r="4.2"/><circle cx="94.9" cy="56.8" r="4.2"/><circle cx="105.4" cy="56.8" r="4.2"/><circle cx="62.4" cy="66.8" r="4.2"/><circle cx="44.5" cy="77.6" r="4.2"/><circle cx="95.1" cy="66.3" r="4.2"/><circle cx="99.1" cy="65.9" r="4.2"/><circle cx="101.4" cy="69.9" r="4.2"/><circle cx="110.6" cy="67.6" r="4.2"/><circle cx="114.6" cy="64.2" r="4.2"/><circle cx="118.6" cy="61.9" r="4.2"/><circle cx="128.9" cy="67.9" r="4.2"/><circle cx="86.5" cy="71.7" r="4.2"/><circle cx="88.8" cy="74.5" r="4.2"/><circle cx="85.9" cy="77.4" r="4.2"/><circle cx="90.5" cy="80.2" r="4.2"/><circle cx="67.6" cy="75.7" r="4.2"/><circle cx="64.7" cy="79.1" r="4.2"/><circle cx="74.5" cy="78.3" r="4.2"/><circle cx="65.9" cy="84.3" r="4.2"/><circle cx="69.9" cy="89.4" r="4.2"/><circle cx="75" cy="91.1" r="4.2"/><circle cx="106" cy="73.9" r="4.2"/><circle cx="115.7" cy="73.4" r="4.2"/><circle cx="111.7" cy="78" r="4.2"/><circle cx="106.6" cy="81.4" r="4.2"/><circle cx="98.5" cy="83.1" r="4.2"/><circle cx="118" cy="80.8" r="4.2"/><circle cx="123.7" cy="79.7" r="4.2"/><circle cx="123.7" cy="85.4" r="4.2"/><circle cx="135.2" cy="78.5" r="4.2"/><circle cx="135.2" cy="84.3" r="4.2"/><circle cx="111.1" cy="85.4" r="4.2"/><circle cx="106" cy="89.4" r="4.2"/><circle cx="95.1" cy="88.8" r="4.2"/><circle cx="83.6" cy="91.1" r="4.2"/><circle cx="79.1" cy="94.6" r="4.2"/><circle cx="88.2" cy="94.6" r="4.2"/><circle cx="98" cy="95.7" r="4.2"/><circle cx="105.4" cy="94" r="4.2"/><circle cx="112.3" cy="92.3" r="4.2"/><circle cx="119.2" cy="88.8" r="4.2"/><circle cx="119.2" cy="97.4" r="4.2"/><circle cx="111.1" cy="98" r="4.2"/><circle cx="130.6" cy="94.6" r="4.2"/><circle cx="141.5" cy="92.1" r="4.2"/><circle cx="64.7" cy="98.6" r="4.2"/><circle cx="72.8" cy="98" r="4.2"/><circle cx="82.5" cy="98.6" r="4.2"/><circle cx="89.4" cy="99.7" r="4.2"/><circle cx="95.7" cy="99.2" r="4.2"/><circle cx="53.9" cy="104.9" r="4.2"/><circle cx="75" cy="108.1" r="4.2"/><circle cx="80.2" cy="107.2" r="4.2"/><circle cx="89.9" cy="108.6" r="4.2"/><circle cx="89.9" cy="120" r="4.2"/><circle cx="92.8" cy="91.1" r="4.2"/><circle cx="102.5" cy="91.1" r="4.2"/><circle cx="99.7" cy="79.7" r="4.2"/><circle cx="85.9" cy="96.9" r="4.2"/><circle cx="91.7" cy="93.4" r="4.2"/><circle cx="100.8" cy="93.4" r="4.2"/><circle cx="108.9" cy="90" r="4.2"/><circle cx="114.6" cy="85.4" r="4.2"/><circle cx="81.4" cy="92.3" r="4.2"/><circle cx="186.2" cy="123.9" r="4.2"/><circle cx="193.7" cy="128.1" r="4.2"/><circle cx="182" cy="131.4" r="4.2"/><circle cx="186.7" cy="133.3" r="4.2"/><circle cx="182" cy="137.5" r="4.2"/><circle cx="205.9" cy="122" r="4.2"/><circle cx="205.4" cy="128.1" r="4.2"/><circle cx="208.7" cy="130.5" r="4.2"/><circle cx="201.7" cy="134.2" r="4.2"/><circle cx="198.8" cy="134.2" r="4.2"/><circle cx="209.6" cy="135.6" r="4.2"/><circle cx="209.6" cy="138.9" r="4.2"/><circle cx="216.2" cy="126.7" r="4.2"/><circle cx="215.7" cy="130.5" r="4.2"/><circle cx="224.6" cy="128.6" r="4.2"/><circle cx="217.1" cy="138" r="4.2"/><circle cx="221.3" cy="139.9" r="4.2"/><circle cx="197.4" cy="142.2" r="4.2"/><circle cx="201.2" cy="153.5" r="4.2"/><circle cx="237.3" cy="132.8" r="4.2"/></g><g fill="#f5861a" stroke="#fff" stroke-opacity="0.6" stroke-width="0.5"><path d="M171.5 78.5L173.4 80.4L171.5 82.3L173.4 84.2L171.5 86.1L169.6 84.2L167.7 86.1L165.8 84.2L167.7 82.3L165.8 80.4L167.7 78.5L169.6 80.4Z"/><path d="M167.4 81.7L169.3 83.6L167.4 85.5L169.3 87.4L167.4 89.3L165.5 87.4L163.6 89.3L161.7 87.4L163.6 85.5L161.7 83.6L163.6 81.7L165.5 83.6Z"/><path d="M170.6 87.2L172.5 89.1L170.6 91.0L172.5 92.9L170.6 94.8L168.7 92.9L166.8 94.8L164.9 92.9L166.8 91.0L164.9 89.1L166.8 87.2L168.7 89.1Z"/><path d="M178.7 88.6L180.6 90.5L178.7 92.4L180.6 94.3L178.7 96.2L176.8 94.3L174.9 96.2L173.0 94.3L174.9 92.4L173.0 90.5L174.9 88.6L176.8 90.5Z"/><path d="M172.7 90.5L174.6 92.4L172.7 94.3L174.6 96.2L172.7 98.1L170.8 96.2L168.9 98.1L167.0 96.2L168.9 94.3L167.0 92.4L168.9 90.5L170.8 92.4Z"/><path d="M169.0 95.5L170.9 97.4L169.0 99.3L170.9 101.2L169.0 103.1L167.1 101.2L165.2 103.1L163.3 101.2L165.2 99.3L163.3 97.4L165.2 95.5L167.1 97.4Z"/><path d="M176.8 96.2L178.7 98.1L176.8 100.0L178.7 101.9L176.8 103.8L174.9 101.9L173.0 103.8L171.1 101.9L173.0 100.0L171.1 98.1L173.0 96.2L174.9 98.1Z"/><path d="M166.2 99.0L168.1 100.9L166.2 102.8L168.1 104.7L166.2 106.6L164.3 104.7L162.4 106.6L160.5 104.7L162.4 102.8L160.5 100.9L162.4 99.0L164.3 100.9Z"/><path d="M171.7 99.9L173.6 101.8L171.7 103.7L173.6 105.6L171.7 107.5L169.8 105.6L167.9 107.5L166.0 105.6L167.9 103.7L166.0 101.8L167.9 99.9L169.8 101.8Z"/><path d="M174.0 92.5L175.9 94.4L174.0 96.3L175.9 98.2L174.0 100.1L172.1 98.2L170.2 100.1L168.3 98.2L170.2 96.3L168.3 94.4L170.2 92.5L172.1 94.4Z"/><path d="M35.8 152.3L37.7 154.2L35.8 156.1L37.7 158.0L35.8 159.9L33.9 158.0L32.0 159.9L30.1 158.0L32.0 156.1L30.1 154.2L32.0 152.3L33.9 154.2Z"/><path d="M41.2 162.5L43.1 164.4L41.2 166.3L43.1 168.2L41.2 170.1L39.3 168.2L37.4 170.1L35.5 168.2L37.4 166.3L35.5 164.4L37.4 162.5L39.3 164.4Z"/><path d="M63.6 150.3L65.5 152.2L63.6 154.1L65.5 156.0L63.6 157.9L61.7 156.0L59.8 157.9L57.9 156.0L59.8 154.1L57.9 152.2L59.8 150.3L61.7 152.2Z"/><path d="M59.5 156.4L61.4 158.3L59.5 160.2L61.4 162.1L59.5 164.0L57.6 162.1L55.7 164.0L53.8 162.1L55.7 160.2L53.8 158.3L55.7 156.4L57.6 158.3Z"/><path d="M67.0 157.1L68.9 159.0L67.0 160.9L68.9 162.8L67.0 164.7L65.1 162.8L63.2 164.7L61.3 162.8L63.2 160.9L61.3 159.0L63.2 157.1L65.1 159.0Z"/><path d="M60.9 161.8L62.8 163.7L60.9 165.6L62.8 167.5L60.9 169.4L59.0 167.5L57.1 169.4L55.2 167.5L57.1 165.6L55.2 163.7L57.1 161.8L59.0 163.7Z"/><path d="M64.9 161.1L66.8 163.0L64.9 164.9L66.8 166.8L64.9 168.7L63.0 166.8L61.1 168.7L59.2 166.8L61.1 164.9L59.2 163.0L61.1 161.1L63.0 163.0Z"/><path d="M81.8 154.4L83.7 156.3L81.8 158.2L83.7 160.1L81.8 162.0L79.9 160.1L78.0 162.0L76.1 160.1L78.0 158.2L76.1 156.3L78.0 154.4L79.9 156.3Z"/></g></g><rect x="0.7" y="0.7" width="298" height="193" fill="none" stroke="#333" stroke-width="1.25"/></svg></div>
<div class="panel" id="pf" style="left:647px;top:330px"><svg width="300" height="195" viewBox="0 0 300 195"><defs><clipPath id="clf"><rect width="299.3" height="194.3"/></clipPath></defs><g clip-path="url(#clf)"><rect width="300" height="195" fill="#f3f3f3"/>
<path d="M-40 -40L338 -40L338 233L-40 233L-40 -40ZM179 66.5L175.5 67.5L172 70.1L169.5 73.8L168.2 78L168 82.5L169.1 86.5L171.5 89.4L174.5 90.6L180 90.4L185.3 88L189.5 84L191.5 79.2L191.3 74.5L188.6 70.5L184 67.4L181.5 66.6L179 66.5Z" fill="#e9e9e9"/>
<path d="M-40 -40L338 -40L338 233L-40 233L-40 -40ZM176 59.9L171.7 61.5L167.5 64.9L164.5 70L162.6 76L161.6 83.5L161.6 88.5L162.3 92.5L164.1 96.5L166 98L167.5 98.5L170 98.6L177.1 97L182.5 95L188 92L191.3 89.5L195 85.8L197 82.6L198 79.6L198.3 76L197.5 72.4L195 67.8L192 64.6L189.1 62.5L184.8 60.5L181 59.7L176 59.9Z" fill="#dcdcdc"/>
<path d="M94.3 2L97.5 1.5L103.5 1.5L111.5 2.1L122.5 4.1L131.5 7.3L137.5 10.3L141.5 12.8L147.6 17.5L162 25.6L167.4 30L170.8 34L172.5 38.5L172.2 42.5L170.7 46L163.5 58.9L159 70.8L157 80L156 88.7L155.5 99L156.5 104.8L158.5 107.2L160 106.8L165.5 100.8L173 99.4L178.5 97.6L183.5 95.6L189 92.5L195.8 86.5L201 78.3L209.5 75.5L214.5 70.6L216.5 69.4L219 68.7L222.5 68.7L227 69.7L232 71.7L238.5 75.2L250 83.3L260.5 93.5L266.3 101L270.8 110L274 120.5L275.1 132.5L273.4 145L270.4 154.5L267.3 160.5L262.9 167L254 176.7L248 181.7L240 186.8L232 190.7L223.5 193.7L215 195.6L206.5 196.4L197.5 196.3L189 195.1L179.5 192.5L170 188.6L159.5 182.7L146 173.5L136.5 169L127.4 165.5L109 160.7L85 159.7L69.5 157.9L57.5 155.2L46.5 151.7L36 147.2L26 141.5L17 134.8L9.4 127.5L2.8 119L-2.3 110L-5.7 100.5L-7.4 90.5L-7.4 80.5L-5.6 71L-2.1 61.5L3 52.5L9.5 44.2L17.5 36.4L33 23.8L45 15.7L55 10.8L69.5 5.8L82 3.1L94.3 2Z" fill="#cfcfcf"/>
<path d="M92.7 13L101.5 12.5L113 13.6L121 15.2L130.5 18.5L139.5 23.6L145 27.7L150 32.9L156 40.5L157.3 43.5L158 46.5L157.7 55L157 59.5L153.7 73.5L149.9 104.5L150.6 112L151.9 115L153.5 116.5L155 116.6L157.5 116L161 114.1L174.4 101L187 94.7L197.5 87.3L205.5 84.3L212.5 82.5L222.5 82L226.5 82.6L232.5 84.4L243 89.6L247.8 93L253 97.7L258.8 105L262.7 112.5L265.8 122.5L266.8 131L265.8 140.5L263 150.5L258.8 158.5L253.5 165.3L246.5 171.5L241 175.2L235 178.2L222.5 183.1L215 185L207.5 185.9L200 186L192.5 185.1L182.5 182.5L173 178.3L163.6 172.5L151 165.7L134.5 154L90.5 148.4L77 147.1L63 144.3L52.5 140.8L42.5 136.2L33.5 130.6L26 124.5L19.7 117.5L14.7 110L11.1 102L8.9 93.5L8.3 85L9.2 76.5L11.5 68.5L15.5 60.5L25.2 46.5L30.4 40L34 36.2L38.5 32.5L46.5 27L58 21.2L69 17.2L81.5 14.3L92.7 13Z" fill="#c2c2c2"/>
<path d="M93.3 23.5L101 23L113.5 24.2L120 25.6L127.5 28.1L136.5 32.6L141.5 36.2L146 40.6L149.8 46.5L151.6 52.5L151.9 59L148.8 86L145.4 105.5L144.7 112L145 124.5L146 127.6L147.5 129.2L149 129.3L150.5 128.8L158 123.4L164.9 118L176.3 107.5L185 101.3L195 95.8L208 90.2L215 88.6L221 88.5L225.5 89.1L231 91L235 92.9L239.2 95.5L243.5 98.8L249.4 105L254.6 113L257.4 120.5L259 129.5L258.4 139L256.3 147L252.5 154.5L248 160.6L241.1 167L237.5 169.6L231 173.2L226.5 175.1L216 178L209 179.2L201 179.4L193.5 178.6L185.5 176.5L178 173.3L167.5 167.5L158.6 161L154.5 157.2L150.3 152.5L146.6 147L142.7 139L142 138.3L130.5 141.1L114 142.4L98 142.2L81.5 140.5L67 137.5L55.5 133.6L44.6 128L35.5 121.3L29.4 115L24.5 108L21 100.5L18.8 92L18.5 84L19.6 76L21.7 69.5L26.5 59.7L30.2 54L37.5 45.7L44.5 39.9L52.2 35L61 30.7L72 26.9L83.5 24.4L93.3 23.5Z" fill="#b4b4b4"/>
<path d="M93.6 33.5L100 33.3L112 34.3L121.5 36.3L129 38.8L136 42.4L140.5 45.8L144 50.1L146.2 55L147.1 59.5L147.5 65.5L146.4 82.5L144.4 94.5L139.3 114.5L136.8 121L133.7 125.5L129.5 128.7L123 131.3L108.5 134.2L97.5 135.1L90.5 135.1L76 133.6L63 130.1L56.5 127.5L50.5 124.3L45 120.6L40.1 116.5L35.9 112L32.6 107.5L29.9 102.5L27.8 97L26.6 91.5L26.1 86L26.5 80.5L27.7 75L29.6 70L32.3 65L36.3 59.5L40.5 55.1L45.5 50.7L51 46.8L57 43.3L64.5 39.8L71.5 37.3L79.5 35.3L88.5 33.8L93.6 33.5ZM214 95L218 94.6L222 94.8L229 97.2L236 101.7L240.2 105.5L243.6 109.5L248.4 117.5L251.1 126L251.6 134L251.1 138L249.7 143.5L246.2 151L240.4 158.5L233.5 164.6L224.5 169.8L215 173.1L205.5 174.4L196 173.9L187 171.7L180.5 168.8L174 164.9L168.5 160.5L163.8 155.5L160.1 150L158.2 145.5L157.4 140.5L158.2 135.5L160.8 130.5L165.2 125L172.5 117.7L179.5 112.2L188.5 106.7L200.5 100.3L208 96.8L214 95Z" fill="#a7a7a7"/>
<path d="M90.2 38.5L99.5 38.1L108.5 38.7L117 40.2L125 42.6L131.5 45.6L136.5 49.2L140.2 53.5L142.6 58.5L144.2 67.5L144 80L142.2 92L138.7 104.5L135 113.7L131.2 119.5L126 123.8L119.5 126.7L106.5 129.5L92 130.5L79 129.4L66.5 126.3L55 121L50 117.8L45.5 114.1L41.5 110L38.6 106L36.1 101.5L34.3 97L33 92L32.5 87L32.6 82L33.6 77L35.1 72.5L37.4 68L40.5 63.5L44 59.5L48.5 55.3L53.5 51.6L65 45.2L77.5 40.8L90.2 38.5ZM212.8 99L220 98.9L227 101L234 105.6L240.1 112L244.6 119.5L246.9 127L247.3 134.5L245.7 142L242.1 149.5L237 156L230.5 161.6L222.5 166.2L214 169.1L205.5 170.3L197 169.9L188.5 167.8L182.5 165.2L176.5 161.5L171.5 157.2L167.5 152.5L164.9 148L163.3 143L163.2 138.5L164.2 134L166.7 129L170.3 124L175.1 119L180.6 114.5L188.5 109.5L199 104L206.5 100.7L212.8 99Z" fill="#9a9a9a"/>
<path d="M90.6 42.5L99.5 42.1L108 42.7L116.5 44.3L124 46.7L130 49.8L134.5 53.4L137.7 57.5L140 62.6L141.5 71.5L141.3 82.5L139.6 92.5L136 103.4L132.2 111L128 116.4L122.5 120.4L115.5 123.3L103.5 125.8L91 126.6L79 125.4L68 122.4L57.5 117.4L49 111L43.3 104L41.1 100L39.4 95.5L38.4 91L38 86.5L38.1 82L39 77.5L40.4 73.5L42.5 69.5L48.3 62L57 54.7L67.5 48.8L78.5 44.8L90.6 42.5ZM210.5 102.5L217 102.1L223.5 103.5L229.9 107L235.5 112.1L240.1 118.5L242.9 125.5L243.8 132L242.8 139L240.2 145.5L235.8 152L230.1 157.5L223.5 161.8L216 164.9L208 166.6L200 166.8L192.5 165.4L186.5 163.2L181 160.1L176.2 156.5L172.4 152.5L169.4 148L167.8 143.5L167.3 139L168 134.5L169.7 130L172.9 125L176.9 120.5L182 116.1L188.5 111.9L197 107.3L204.5 104.2L210.5 102.5Z" fill="#8d8d8d"/>
<path d="M91.7 46L100 45.7L108.5 46.3L116.5 48L123.3 50.5L129 53.8L133 57.4L136 61.9L137.9 67L139.1 75.5L138.6 85L136.5 94.5L132.9 103.5L129 109.8L124.4 114.5L118.5 118.1L111 120.7L99.5 122.7L88.5 122.9L78 121.5L68 118.4L59 113.7L52 108L47.1 101.5L43.9 93.5L42.9 85.5L44 77.5L47.3 70.5L53 63.4L61 56.9L71 51.4L81 47.9L91.7 46ZM212.5 105L218.5 105.4L224.5 107.5L230 111.2L235 116.6L238.4 122.5L240.4 129L240.4 135L238.7 141L235.6 147L231 152.5L225 157.3L218.5 160.7L211.5 162.9L204 163.8L197 163.2L190 161.2L185 158.8L180.1 155.5L176.4 152L173.5 148L171.6 144L170.8 140L170.9 136L172.2 131.5L174.5 127L177.5 123L181.6 119L186.5 115.4L193.5 111.3L201 107.8L207 105.9L212.5 105Z" fill="#808080"/>
<path d="M95.7 49L106.5 49.4L116.5 51.5L124.5 55L130.5 59.9L132.5 62.5L134.3 66L136.3 74L136.4 83.5L134.5 92.9L131.2 101L127 107.3L122 112L115.5 115.6L106 118.4L94.5 119.8L85 119.4L75 117.3L68 114.6L62 111.3L56.5 107L52.6 102.5L49.6 97L47.9 91L47.5 84.5L48.4 78.5L50.8 73L54.7 67.5L59.5 62.7L65.5 58.5L72.5 54.7L80 51.7L87.5 49.9L95.7 49ZM208.1 108L214 107.6L219.5 108.6L224.5 110.8L229.3 114.5L233.4 119.5L236.2 125L237.6 131L237.2 136L235.3 141.5L232 147L227.5 151.8L222.4 155.5L216 158.6L209.5 160.4L203 161L196.5 160.2L191.5 158.7L186.5 156.3L182 153.1L178.5 149.6L176 146L174.3 142L173.8 138L174.2 134L175.5 130L177.9 126L181 122.3L184.7 119L190 115.4L196.5 111.9L202.5 109.5L208.1 108Z" fill="#727272"/>
<path d="M97.9 52L108 52.7L117 55L124 58.6L127 61L129.5 63.8L131.4 67L132.8 70.5L134.2 78.5L133.5 87.2L130.8 96L127.2 102.5L122.5 107.7L116.5 111.6L109 114.4L99 116.3L89 116.7L79.5 115.3L71 112.4L65.5 109.5L60.8 106L57 102L54.3 97.5L52.5 92.5L51.7 87L52.1 81.5L53.6 76.5L56.5 71.5L60.3 67L65 63.1L70.6 59.5L77 56.4L83.5 54.1L90.5 52.6L97.9 52ZM206.6 110.5L212.5 110L217.5 110.8L222 112.5L226.5 115.7L230.4 120L233.2 125L234.6 130.5L234.4 135L232.9 140L230.1 145L226.5 149.1L222 152.6L216.5 155.5L210.5 157.5L204.5 158.3L198.5 157.9L194 156.8L189.5 154.8L185.5 152.3L181.8 149L179.1 145.5L177.4 142L176.6 138.5L176.7 134.5L177.6 131L179.4 127.5L182.1 124L185.5 120.7L190.5 117.2L196 114.2L201.5 111.9L206.6 110.5Z" fill="#656565"/>
<path d="M96.8 55L106 55.4L114.5 57.4L121.2 60.5L126.5 65.1L129.9 71L131.6 78.5L131.3 86L129 94L125.5 100.3L121 105.1L115.5 108.8L108.5 111.5L99.5 113.4L90.5 113.8L82 112.8L74 110.4L69 107.9L64.3 104.5L60.9 101L58.3 97L56.6 92.5L55.8 87.5L56 82.5L57.3 78L59.7 73.5L62.9 69.5L66.8 66L72.1 62.5L78 59.5L84 57.3L90.5 55.7L96.8 55ZM207.4 112.5L212.5 112.3L217 113.2L221.5 115.2L225.5 118.2L228.6 122L230.9 126.5L231.8 131L231.5 135.5L230 140L227.2 144.5L223.9 148L219.5 151.2L214.5 153.6L209 155.2L203.5 155.8L198.5 155.4L194 154L190 152.1L186.5 149.7L183.5 146.8L181.1 143.5L179.6 140L179.1 137L179.3 133.5L180.5 130L182.3 127L185.2 123.5L188.2 121L198 115.3L203 113.5L207.4 112.5Z" fill="#585858"/>
<path d="M95.9 58L104 58.1L112 59.7L118.5 62.5L123.5 66.5L127 71.7L128.9 78L129 84.5L127.3 91.5L124.5 97.1L120.5 101.9L115.5 105.5L109 108.4L100.5 110.4L92 111L84.5 110.4L77 108.4L72.5 106.3L68.3 103.5L64.6 100L62.2 96.5L60.6 92.5L59.7 88L59.9 83.5L61 79L63.1 75L65.9 71.5L69.5 68.3L74 65.2L79 62.5L84.5 60.3L90.5 58.8L95.9 58ZM208.4 114.5L213 114.7L217 115.7L221 117.8L224.5 120.8L227 124.2L228.6 128L229.1 132L228.5 136.5L226.9 140.5L224.5 144L221 147.3L217 149.8L212 151.9L207 153.1L202 153.4L198 152.7L194.5 151.5L190.7 149.5L187.5 147L185.1 144.5L183.2 141.5L182 138.5L181.6 135.5L182.1 132.5L183.3 129.5L185.5 126.3L188.2 123.5L191.5 121L200.5 116.3L208.4 114.5Z" fill="#4b4b4b"/>
<path d="M95.5 61L103 61L110 62.2L115.8 64.5L120.5 68L124 72.5L126 78L126.4 84L125.1 90L122.5 95.3L119 99.5L114.3 103L108.5 105.6L101 107.5L93 108.3L86 107.8L79.5 106.2L75.5 104.4L71.7 102L68.4 99L66.2 96L64.6 92.5L63.7 88.5L63.7 84.5L64.6 80.5L66.3 77L68.5 74L72 70.6L76 67.8L80.5 65.3L85.5 63.2L90.5 61.8L95.5 61ZM204.9 117L209 116.6L213.2 117L217 118.3L220.5 120.4L223.5 123.4L225.4 126.5L226.4 130L226.4 134L225.5 137.5L223.8 141L221.2 144L218 146.5L214 148.6L210 150L205.5 150.8L201 150.8L194.5 148.7L191.5 146.9L188.7 144.5L185.3 139.5L184.5 136.8L184.4 134L185 131.5L186.3 129L190.7 124L197.8 119.5L204.9 117Z" fill="#3e3e3e"/>
<path d="M95.6 64L102 63.9L108.5 65L113.6 67L118 70.1L121.2 74L123.2 79L123.5 84.5L122.4 89.5L120 94L117 97.5L112.5 100.8L107 103.2L100.5 104.8L93.5 105.5L87 105.1L81 103.5L77.5 101.9L74 99.6L71.5 97.2L69.6 94.5L68.3 91.5L67.6 88L67.8 84.5L68.5 81.5L69.9 78.5L72.1 75.5L78.5 70.1L86.5 66.2L95.6 64ZM205.1 119L209 118.7L212.5 119.2L216 120.4L219 122.3L221.5 124.9L223 127.5L223.8 130.5L223.8 134L223 137L221.5 140L219.3 142.5L216.5 144.6L213 146.5L209 147.8L205 148.3L201.5 148.2L195.8 146.5L191 143L188 138.5L187.4 136L187.3 133.5L189.2 129L192.7 125L199 121.1L205.1 119Z" fill="#303030"/>
<path d="M98 67L103.5 67.3L109 68.6L113.5 70.9L116.9 74L119.4 78L120.3 82L120 86.5L118.3 91L115.5 94.8L112 97.7L107.5 100L102 101.7L96 102.6L90 102.5L84.7 101.5L80 99.6L75.4 96L73.5 93.5L72.4 91L71.9 88.5L72 85.5L73.8 80L77.9 75L83.6 71L90.5 68.3L98 67ZM206.1 121L209.5 121L213 121.8L215.7 123L218 124.8L219.7 127L220.8 129.5L221.1 132.5L220.7 135.5L219.7 138L218.3 140L216 142L213 143.8L206.5 145.6L200 145.2L195.9 143.5L192.5 140.3L190.6 136.5L190.6 132.5L192.6 128.5L195.7 125.5L201 122.4L206.1 121Z" fill="#232323"/>
<path d="M94.3 71L100.5 70.6L106.5 71.6L111.5 74.2L115 78L116.6 82.5L116.1 87.5L113.5 92.1L109 95.8L105 97.7L100.5 98.9L95.5 99.6L91 99.5L86.5 98.6L83 97.2L80 95L77.9 92.5L76.8 89.5L76.7 86L77.7 82.5L79.5 79.5L82.3 76.5L85.8 74L89.5 72.3L94.3 71ZM205.6 123.5L211 123.9L215.3 126L217.7 129.5L218 134L216.3 138L212.5 141.1L207.5 142.7L202 142.7L198.4 141.5L195.9 139.5L194.1 136.5L193.9 133L195 130L197.5 127.3L201.5 124.8L205.6 123.5Z" fill="#161616"/>
<path d="M95.9 75L99.5 74.8L103 75.2L106 76.2L108.5 77.7L110.6 80L111.7 82.5L112 85L111.4 87.5L109.9 90L107.9 92L105.5 93.6L102 95L95 96.1L91.5 95.8L88 94.9L84.8 93L82.9 90.5L82.3 87.5L83 84L85 80.7L87.9 78L91.5 76.1L95.9 75ZM205.2 126.5L208 126.4L211 127.3L213.3 129L214.3 131L214.4 133.5L213.4 136L211.4 138L208.5 139.4L205 139.7L201.5 138.9L199 137.2L197.8 135L197.8 132.5L199.3 130L202 127.8L205.2 126.5Z" fill="#090909"/>
<path d="M179 66.5L175.5 67.5L172 70.1L169.5 73.8L168.2 78L168 82.5L169.1 86.5L171.5 89.4L174.5 90.6L180 90.4L185.3 88L189.5 84L191.5 79.2L191.3 74.5L188.6 70.5L184 67.4L181.5 66.6L179 66.5M176 59.9L171.7 61.5L167.5 64.9L164.5 70L162.6 76L161.6 83.5L161.6 88.5L162.3 92.5L164.1 96.5L166 98L167.5 98.5L170 98.6L177.1 97L182.5 95L188 92L191.3 89.5L195 85.8L197 82.6L198 79.6L198.3 76L197.5 72.4L195 67.8L192 64.6L189.1 62.5L184.8 60.5L181 59.7L176 59.9M94.3 2L97.5 1.5L103.5 1.5L111.5 2.1L122.5 4.1L131.5 7.3L137.5 10.3L141.5 12.8L147.6 17.5L162 25.6L167.4 30L170.8 34L172.5 38.5L172.2 42.5L170.7 46L163.5 58.9L159 70.8L157 80L156 88.7L155.5 99L156.5 104.8L158.5 107.2L160 106.8L165.5 100.8L173 99.4L178.5 97.6L183.5 95.6L189 92.5L195.8 86.5L201 78.3L209.5 75.5L214.5 70.6L216.5 69.4L219 68.7L222.5 68.7L227 69.7L232 71.7L238.5 75.2L250 83.3L260.5 93.5L266.3 101L270.8 110L274 120.5L275.1 132.5L273.4 145L270.4 154.5L267.3 160.5L262.9 167L254 176.7L248 181.7L240 186.8L232 190.7L223.5 193.7L215 195.6L206.5 196.4L197.5 196.3L189 195.1L179.5 192.5L170 188.6L159.5 182.7L146 173.5L136.5 169L127.4 165.5L109 160.7L85 159.7L69.5 157.9L57.5 155.2L46.5 151.7L36 147.2L26 141.5L17 134.8L9.4 127.5L2.8 119L-2.3 110L-5.7 100.5L-7.4 90.5L-7.4 80.5L-5.6 71L-2.1 61.5L3 52.5L9.5 44.2L17.5 36.4L33 23.8L45 15.7L55 10.8L69.5 5.8L82 3.1L94.3 2M92.7 13L101.5 12.5L113 13.6L121 15.2L130.5 18.5L139.5 23.6L145 27.7L150 32.9L156 40.5L157.3 43.5L158 46.5L157.7 55L157 59.5L153.7 73.5L149.9 104.5L150.6 112L151.9 115L153.5 116.5L155 116.6L157.5 116L161 114.1L174.4 101L187 94.7L197.5 87.3L205.5 84.3L212.5 82.5L222.5 82L226.5 82.6L232.5 84.4L243 89.6L247.8 93L253 97.7L258.8 105L262.7 112.5L265.8 122.5L266.8 131L265.8 140.5L263 150.5L258.8 158.5L253.5 165.3L246.5 171.5L241 175.2L235 178.2L222.5 183.1L215 185L207.5 185.9L200 186L192.5 185.1L182.5 182.5L173 178.3L163.6 172.5L151 165.7L134.5 154L90.5 148.4L77 147.1L63 144.3L52.5 140.8L42.5 136.2L33.5 130.6L26 124.5L19.7 117.5L14.7 110L11.1 102L8.9 93.5L8.3 85L9.2 76.5L11.5 68.5L15.5 60.5L25.2 46.5L30.4 40L34 36.2L38.5 32.5L46.5 27L58 21.2L69 17.2L81.5 14.3L92.7 13M93.3 23.5L101 23L113.5 24.2L120 25.6L127.5 28.1L136.5 32.6L141.5 36.2L146 40.6L149.8 46.5L151.6 52.5L151.9 59L148.8 86L145.4 105.5L144.7 112L145 124.5L146 127.6L147.5 129.2L149 129.3L150.5 128.8L158 123.4L164.9 118L176.3 107.5L185 101.3L195 95.8L208 90.2L215 88.6L221 88.5L225.5 89.1L231 91L235 92.9L239.2 95.5L243.5 98.8L249.4 105L254.6 113L257.4 120.5L259 129.5L258.4 139L256.3 147L252.5 154.5L248 160.6L241.1 167L237.5 169.6L231 173.2L226.5 175.1L216 178L209 179.2L201 179.4L193.5 178.6L185.5 176.5L178 173.3L167.5 167.5L158.6 161L154.5 157.2L150.3 152.5L146.6 147L142.7 139L142 138.3L130.5 141.1L114 142.4L98 142.2L81.5 140.5L67 137.5L55.5 133.6L44.6 128L35.5 121.3L29.4 115L24.5 108L21 100.5L18.8 92L18.5 84L19.6 76L21.7 69.5L26.5 59.7L30.2 54L37.5 45.7L44.5 39.9L52.2 35L61 30.7L72 26.9L83.5 24.4L93.3 23.5M93.6 33.5L100 33.3L112 34.3L121.5 36.3L129 38.8L136 42.4L140.5 45.8L144 50.1L146.2 55L147.1 59.5L147.5 65.5L146.4 82.5L144.4 94.5L139.3 114.5L136.8 121L133.7 125.5L129.5 128.7L123 131.3L108.5 134.2L97.5 135.1L90.5 135.1L76 133.6L63 130.1L56.5 127.5L50.5 124.3L45 120.6L40.1 116.5L35.9 112L32.6 107.5L29.9 102.5L27.8 97L26.6 91.5L26.1 86L26.5 80.5L27.7 75L29.6 70L32.3 65L36.3 59.5L40.5 55.1L45.5 50.7L51 46.8L57 43.3L64.5 39.8L71.5 37.3L79.5 35.3L88.5 33.8L93.6 33.5M214 95L218 94.6L222 94.8L229 97.2L236 101.7L240.2 105.5L243.6 109.5L248.4 117.5L251.1 126L251.6 134L251.1 138L249.7 143.5L246.2 151L240.4 158.5L233.5 164.6L224.5 169.8L215 173.1L205.5 174.4L196 173.9L187 171.7L180.5 168.8L174 164.9L168.5 160.5L163.8 155.5L160.1 150L158.2 145.5L157.4 140.5L158.2 135.5L160.8 130.5L165.2 125L172.5 117.7L179.5 112.2L188.5 106.7L200.5 100.3L208 96.8L214 95M90.2 38.5L99.5 38.1L108.5 38.7L117 40.2L125 42.6L131.5 45.6L136.5 49.2L140.2 53.5L142.6 58.5L144.2 67.5L144 80L142.2 92L138.7 104.5L135 113.7L131.2 119.5L126 123.8L119.5 126.7L106.5 129.5L92 130.5L79 129.4L66.5 126.3L55 121L50 117.8L45.5 114.1L41.5 110L38.6 106L36.1 101.5L34.3 97L33 92L32.5 87L32.6 82L33.6 77L35.1 72.5L37.4 68L40.5 63.5L44 59.5L48.5 55.3L53.5 51.6L65 45.2L77.5 40.8L90.2 38.5M212.8 99L220 98.9L227 101L234 105.6L240.1 112L244.6 119.5L246.9 127L247.3 134.5L245.7 142L242.1 149.5L237 156L230.5 161.6L222.5 166.2L214 169.1L205.5 170.3L197 169.9L188.5 167.8L182.5 165.2L176.5 161.5L171.5 157.2L167.5 152.5L164.9 148L163.3 143L163.2 138.5L164.2 134L166.7 129L170.3 124L175.1 119L180.6 114.5L188.5 109.5L199 104L206.5 100.7L212.8 99M90.6 42.5L99.5 42.1L108 42.7L116.5 44.3L124 46.7L130 49.8L134.5 53.4L137.7 57.5L140 62.6L141.5 71.5L141.3 82.5L139.6 92.5L136 103.4L132.2 111L128 116.4L122.5 120.4L115.5 123.3L103.5 125.8L91 126.6L79 125.4L68 122.4L57.5 117.4L49 111L43.3 104L41.1 100L39.4 95.5L38.4 91L38 86.5L38.1 82L39 77.5L40.4 73.5L42.5 69.5L48.3 62L57 54.7L67.5 48.8L78.5 44.8L90.6 42.5M210.5 102.5L217 102.1L223.5 103.5L229.9 107L235.5 112.1L240.1 118.5L242.9 125.5L243.8 132L242.8 139L240.2 145.5L235.8 152L230.1 157.5L223.5 161.8L216 164.9L208 166.6L200 166.8L192.5 165.4L186.5 163.2L181 160.1L176.2 156.5L172.4 152.5L169.4 148L167.8 143.5L167.3 139L168 134.5L169.7 130L172.9 125L176.9 120.5L182 116.1L188.5 111.9L197 107.3L204.5 104.2L210.5 102.5M91.7 46L100 45.7L108.5 46.3L116.5 48L123.3 50.5L129 53.8L133 57.4L136 61.9L137.9 67L139.1 75.5L138.6 85L136.5 94.5L132.9 103.5L129 109.8L124.4 114.5L118.5 118.1L111 120.7L99.5 122.7L88.5 122.9L78 121.5L68 118.4L59 113.7L52 108L47.1 101.5L43.9 93.5L42.9 85.5L44 77.5L47.3 70.5L53 63.4L61 56.9L71 51.4L81 47.9L91.7 46M212.5 105L218.5 105.4L224.5 107.5L230 111.2L235 116.6L238.4 122.5L240.4 129L240.4 135L238.7 141L235.6 147L231 152.5L225 157.3L218.5 160.7L211.5 162.9L204 163.8L197 163.2L190 161.2L185 158.8L180.1 155.5L176.4 152L173.5 148L171.6 144L170.8 140L170.9 136L172.2 131.5L174.5 127L177.5 123L181.6 119L186.5 115.4L193.5 111.3L201 107.8L207 105.9L212.5 105M95.7 49L106.5 49.4L116.5 51.5L124.5 55L130.5 59.9L132.5 62.5L134.3 66L136.3 74L136.4 83.5L134.5 92.9L131.2 101L127 107.3L122 112L115.5 115.6L106 118.4L94.5 119.8L85 119.4L75 117.3L68 114.6L62 111.3L56.5 107L52.6 102.5L49.6 97L47.9 91L47.5 84.5L48.4 78.5L50.8 73L54.7 67.5L59.5 62.7L65.5 58.5L72.5 54.7L80 51.7L87.5 49.9L95.7 49M208.1 108L214 107.6L219.5 108.6L224.5 110.8L229.3 114.5L233.4 119.5L236.2 125L237.6 131L237.2 136L235.3 141.5L232 147L227.5 151.8L222.4 155.5L216 158.6L209.5 160.4L203 161L196.5 160.2L191.5 158.7L186.5 156.3L182 153.1L178.5 149.6L176 146L174.3 142L173.8 138L174.2 134L175.5 130L177.9 126L181 122.3L184.7 119L190 115.4L196.5 111.9L202.5 109.5L208.1 108M97.9 52L108 52.7L117 55L124 58.6L127 61L129.5 63.8L131.4 67L132.8 70.5L134.2 78.5L133.5 87.2L130.8 96L127.2 102.5L122.5 107.7L116.5 111.6L109 114.4L99 116.3L89 116.7L79.5 115.3L71 112.4L65.5 109.5L60.8 106L57 102L54.3 97.5L52.5 92.5L51.7 87L52.1 81.5L53.6 76.5L56.5 71.5L60.3 67L65 63.1L70.6 59.5L77 56.4L83.5 54.1L90.5 52.6L97.9 52M206.6 110.5L212.5 110L217.5 110.8L222 112.5L226.5 115.7L230.4 120L233.2 125L234.6 130.5L234.4 135L232.9 140L230.1 145L226.5 149.1L222 152.6L216.5 155.5L210.5 157.5L204.5 158.3L198.5 157.9L194 156.8L189.5 154.8L185.5 152.3L181.8 149L179.1 145.5L177.4 142L176.6 138.5L176.7 134.5L177.6 131L179.4 127.5L182.1 124L185.5 120.7L190.5 117.2L196 114.2L201.5 111.9L206.6 110.5M96.8 55L106 55.4L114.5 57.4L121.2 60.5L126.5 65.1L129.9 71L131.6 78.5L131.3 86L129 94L125.5 100.3L121 105.1L115.5 108.8L108.5 111.5L99.5 113.4L90.5 113.8L82 112.8L74 110.4L69 107.9L64.3 104.5L60.9 101L58.3 97L56.6 92.5L55.8 87.5L56 82.5L57.3 78L59.7 73.5L62.9 69.5L66.8 66L72.1 62.5L78 59.5L84 57.3L90.5 55.7L96.8 55M207.4 112.5L212.5 112.3L217 113.2L221.5 115.2L225.5 118.2L228.6 122L230.9 126.5L231.8 131L231.5 135.5L230 140L227.2 144.5L223.9 148L219.5 151.2L214.5 153.6L209 155.2L203.5 155.8L198.5 155.4L194 154L190 152.1L186.5 149.7L183.5 146.8L181.1 143.5L179.6 140L179.1 137L179.3 133.5L180.5 130L182.3 127L185.2 123.5L188.2 121L198 115.3L203 113.5L207.4 112.5M95.9 58L104 58.1L112 59.7L118.5 62.5L123.5 66.5L127 71.7L128.9 78L129 84.5L127.3 91.5L124.5 97.1L120.5 101.9L115.5 105.5L109 108.4L100.5 110.4L92 111L84.5 110.4L77 108.4L72.5 106.3L68.3 103.5L64.6 100L62.2 96.5L60.6 92.5L59.7 88L59.9 83.5L61 79L63.1 75L65.9 71.5L69.5 68.3L74 65.2L79 62.5L84.5 60.3L90.5 58.8L95.9 58M208.4 114.5L213 114.7L217 115.7L221 117.8L224.5 120.8L227 124.2L228.6 128L229.1 132L228.5 136.5L226.9 140.5L224.5 144L221 147.3L217 149.8L212 151.9L207 153.1L202 153.4L198 152.7L194.5 151.5L190.7 149.5L187.5 147L185.1 144.5L183.2 141.5L182 138.5L181.6 135.5L182.1 132.5L183.3 129.5L185.5 126.3L188.2 123.5L191.5 121L200.5 116.3L208.4 114.5M95.5 61L103 61L110 62.2L115.8 64.5L120.5 68L124 72.5L126 78L126.4 84L125.1 90L122.5 95.3L119 99.5L114.3 103L108.5 105.6L101 107.5L93 108.3L86 107.8L79.5 106.2L75.5 104.4L71.7 102L68.4 99L66.2 96L64.6 92.5L63.7 88.5L63.7 84.5L64.6 80.5L66.3 77L68.5 74L72 70.6L76 67.8L80.5 65.3L85.5 63.2L90.5 61.8L95.5 61M204.9 117L209 116.6L213.2 117L217 118.3L220.5 120.4L223.5 123.4L225.4 126.5L226.4 130L226.4 134L225.5 137.5L223.8 141L221.2 144L218 146.5L214 148.6L210 150L205.5 150.8L201 150.8L194.5 148.7L191.5 146.9L188.7 144.5L185.3 139.5L184.5 136.8L184.4 134L185 131.5L186.3 129L190.7 124L197.8 119.5L204.9 117M95.6 64L102 63.9L108.5 65L113.6 67L118 70.1L121.2 74L123.2 79L123.5 84.5L122.4 89.5L120 94L117 97.5L112.5 100.8L107 103.2L100.5 104.8L93.5 105.5L87 105.1L81 103.5L77.5 101.9L74 99.6L71.5 97.2L69.6 94.5L68.3 91.5L67.6 88L67.8 84.5L68.5 81.5L69.9 78.5L72.1 75.5L78.5 70.1L86.5 66.2L95.6 64M205.1 119L209 118.7L212.5 119.2L216 120.4L219 122.3L221.5 124.9L223 127.5L223.8 130.5L223.8 134L223 137L221.5 140L219.3 142.5L216.5 144.6L213 146.5L209 147.8L205 148.3L201.5 148.2L195.8 146.5L191 143L188 138.5L187.4 136L187.3 133.5L189.2 129L192.7 125L199 121.1L205.1 119M98 67L103.5 67.3L109 68.6L113.5 70.9L116.9 74L119.4 78L120.3 82L120 86.5L118.3 91L115.5 94.8L112 97.7L107.5 100L102 101.7L96 102.6L90 102.5L84.7 101.5L80 99.6L75.4 96L73.5 93.5L72.4 91L71.9 88.5L72 85.5L73.8 80L77.9 75L83.6 71L90.5 68.3L98 67M206.1 121L209.5 121L213 121.8L215.7 123L218 124.8L219.7 127L220.8 129.5L221.1 132.5L220.7 135.5L219.7 138L218.3 140L216 142L213 143.8L206.5 145.6L200 145.2L195.9 143.5L192.5 140.3L190.6 136.5L190.6 132.5L192.6 128.5L195.7 125.5L201 122.4L206.1 121M94.3 71L100.5 70.6L106.5 71.6L111.5 74.2L115 78L116.6 82.5L116.1 87.5L113.5 92.1L109 95.8L105 97.7L100.5 98.9L95.5 99.6L91 99.5L86.5 98.6L83 97.2L80 95L77.9 92.5L76.8 89.5L76.7 86L77.7 82.5L79.5 79.5L82.3 76.5L85.8 74L89.5 72.3L94.3 71M205.6 123.5L211 123.9L215.3 126L217.7 129.5L218 134L216.3 138L212.5 141.1L207.5 142.7L202 142.7L198.4 141.5L195.9 139.5L194.1 136.5L193.9 133L195 130L197.5 127.3L201.5 124.8L205.6 123.5M95.9 75L99.5 74.8L103 75.2L106 76.2L108.5 77.7L110.6 80L111.7 82.5L112 85L111.4 87.5L109.9 90L107.9 92L105.5 93.6L102 95L95 96.1L91.5 95.8L88 94.9L84.8 93L82.9 90.5L82.3 87.5L83 84L85 80.7L87.9 78L91.5 76.1L95.9 75M205.2 126.5L208 126.4L211 127.3L213.3 129L214.3 131L214.4 133.5L213.4 136L211.4 138L208.5 139.4L205 139.7L201.5 138.9L199 137.2L197.8 135L197.8 132.5L199.3 130L202 127.8L205.2 126.5" fill="none" stroke="#fff" stroke-opacity="0.4" stroke-width="0.5" stroke-dasharray="3.5 1.5"/><g fill="#3b73ab" fill-opacity="0.88" stroke="#fff" stroke-opacity="0.65" stroke-width="0.6"><circle cx="81.4" cy="53.1" r="4.2"/><circle cx="94.9" cy="56.8" r="4.2"/><circle cx="105.4" cy="56.8" r="4.2"/><circle cx="62.4" cy="66.8" r="4.2"/><circle cx="44.5" cy="77.6" r="4.2"/><circle cx="95.1" cy="66.3" r="4.2"/><circle cx="99.1" cy="65.9" r="4.2"/><circle cx="101.4" cy="69.9" r="4.2"/><circle cx="110.6" cy="67.6" r="4.2"/><circle cx="114.6" cy="64.2" r="4.2"/><circle cx="118.6" cy="61.9" r="4.2"/><circle cx="128.9" cy="67.9" r="4.2"/><circle cx="86.5" cy="71.7" r="4.2"/><circle cx="88.8" cy="74.5" r="4.2"/><circle cx="85.9" cy="77.4" r="4.2"/><circle cx="90.5" cy="80.2" r="4.2"/><circle cx="67.6" cy="75.7" r="4.2"/><circle cx="64.7" cy="79.1" r="4.2"/><circle cx="74.5" cy="78.3" r="4.2"/><circle cx="65.9" cy="84.3" r="4.2"/><circle cx="69.9" cy="89.4" r="4.2"/><circle cx="75" cy="91.1" r="4.2"/><circle cx="106" cy="73.9" r="4.2"/><circle cx="115.7" cy="73.4" r="4.2"/><circle cx="111.7" cy="78" r="4.2"/><circle cx="106.6" cy="81.4" r="4.2"/><circle cx="98.5" cy="83.1" r="4.2"/><circle cx="118" cy="80.8" r="4.2"/><circle cx="123.7" cy="79.7" r="4.2"/><circle cx="123.7" cy="85.4" r="4.2"/><circle cx="135.2" cy="78.5" r="4.2"/><circle cx="135.2" cy="84.3" r="4.2"/><circle cx="111.1" cy="85.4" r="4.2"/><circle cx="106" cy="89.4" r="4.2"/><circle cx="95.1" cy="88.8" r="4.2"/><circle cx="83.6" cy="91.1" r="4.2"/><circle cx="79.1" cy="94.6" r="4.2"/><circle cx="88.2" cy="94.6" r="4.2"/><circle cx="98" cy="95.7" r="4.2"/><circle cx="105.4" cy="94" r="4.2"/><circle cx="112.3" cy="92.3" r="4.2"/><circle cx="119.2" cy="88.8" r="4.2"/><circle cx="119.2" cy="97.4" r="4.2"/><circle cx="111.1" cy="98" r="4.2"/><circle cx="130.6" cy="94.6" r="4.2"/><circle cx="141.5" cy="92.1" r="4.2"/><circle cx="64.7" cy="98.6" r="4.2"/><circle cx="72.8" cy="98" r="4.2"/><circle cx="82.5" cy="98.6" r="4.2"/><circle cx="89.4" cy="99.7" r="4.2"/><circle cx="95.7" cy="99.2" r="4.2"/><circle cx="53.9" cy="104.9" r="4.2"/><circle cx="75" cy="108.1" r="4.2"/><circle cx="80.2" cy="107.2" r="4.2"/><circle cx="89.9" cy="108.6" r="4.2"/><circle cx="89.9" cy="120" r="4.2"/><circle cx="92.8" cy="91.1" r="4.2"/><circle cx="102.5" cy="91.1" r="4.2"/><circle cx="99.7" cy="79.7" r="4.2"/><circle cx="85.9" cy="96.9" r="4.2"/><circle cx="91.7" cy="93.4" r="4.2"/><circle cx="100.8" cy="93.4" r="4.2"/><circle cx="108.9" cy="90" r="4.2"/><circle cx="114.6" cy="85.4" r="4.2"/><circle cx="81.4" cy="92.3" r="4.2"/><circle cx="186.2" cy="123.9" r="4.2"/><circle cx="193.7" cy="128.1" r="4.2"/><circle cx="182" cy="131.4" r="4.2"/><circle cx="186.7" cy="133.3" r="4.2"/><circle cx="182" cy="137.5" r="4.2"/><circle cx="205.9" cy="122" r="4.2"/><circle cx="205.4" cy="128.1" r="4.2"/><circle cx="208.7" cy="130.5" r="4.2"/><circle cx="201.7" cy="134.2" r="4.2"/><circle cx="198.8" cy="134.2" r="4.2"/><circle cx="209.6" cy="135.6" r="4.2"/><circle cx="209.6" cy="138.9" r="4.2"/><circle cx="216.2" cy="126.7" r="4.2"/><circle cx="215.7" cy="130.5" r="4.2"/><circle cx="224.6" cy="128.6" r="4.2"/><circle cx="217.1" cy="138" r="4.2"/><circle cx="221.3" cy="139.9" r="4.2"/><circle cx="197.4" cy="142.2" r="4.2"/><circle cx="201.2" cy="153.5" r="4.2"/><circle cx="237.3" cy="132.8" r="4.2"/></g><g fill="#f5861a" stroke="#fff" stroke-opacity="0.6" stroke-width="0.5"><path d="M171.5 78.5L173.4 80.4L171.5 82.3L173.4 84.2L171.5 86.1L169.6 84.2L167.7 86.1L165.8 84.2L167.7 82.3L165.8 80.4L167.7 78.5L169.6 80.4Z"/><path d="M167.4 81.7L169.3 83.6L167.4 85.5L169.3 87.4L167.4 89.3L165.5 87.4L163.6 89.3L161.7 87.4L163.6 85.5L161.7 83.6L163.6 81.7L165.5 83.6Z"/><path d="M170.6 87.2L172.5 89.1L170.6 91.0L172.5 92.9L170.6 94.8L168.7 92.9L166.8 94.8L164.9 92.9L166.8 91.0L164.9 89.1L166.8 87.2L168.7 89.1Z"/><path d="M178.7 88.6L180.6 90.5L178.7 92.4L180.6 94.3L178.7 96.2L176.8 94.3L174.9 96.2L173.0 94.3L174.9 92.4L173.0 90.5L174.9 88.6L176.8 90.5Z"/><path d="M172.7 90.5L174.6 92.4L172.7 94.3L174.6 96.2L172.7 98.1L170.8 96.2L168.9 98.1L167.0 96.2L168.9 94.3L167.0 92.4L168.9 90.5L170.8 92.4Z"/><path d="M169.0 95.5L170.9 97.4L169.0 99.3L170.9 101.2L169.0 103.1L167.1 101.2L165.2 103.1L163.3 101.2L165.2 99.3L163.3 97.4L165.2 95.5L167.1 97.4Z"/><path d="M176.8 96.2L178.7 98.1L176.8 100.0L178.7 101.9L176.8 103.8L174.9 101.9L173.0 103.8L171.1 101.9L173.0 100.0L171.1 98.1L173.0 96.2L174.9 98.1Z"/><path d="M166.2 99.0L168.1 100.9L166.2 102.8L168.1 104.7L166.2 106.6L164.3 104.7L162.4 106.6L160.5 104.7L162.4 102.8L160.5 100.9L162.4 99.0L164.3 100.9Z"/><path d="M171.7 99.9L173.6 101.8L171.7 103.7L173.6 105.6L171.7 107.5L169.8 105.6L167.9 107.5L166.0 105.6L167.9 103.7L166.0 101.8L167.9 99.9L169.8 101.8Z"/><path d="M174.0 92.5L175.9 94.4L174.0 96.3L175.9 98.2L174.0 100.1L172.1 98.2L170.2 100.1L168.3 98.2L170.2 96.3L168.3 94.4L170.2 92.5L172.1 94.4Z"/><path d="M35.8 152.3L37.7 154.2L35.8 156.1L37.7 158.0L35.8 159.9L33.9 158.0L32.0 159.9L30.1 158.0L32.0 156.1L30.1 154.2L32.0 152.3L33.9 154.2Z"/><path d="M41.2 162.5L43.1 164.4L41.2 166.3L43.1 168.2L41.2 170.1L39.3 168.2L37.4 170.1L35.5 168.2L37.4 166.3L35.5 164.4L37.4 162.5L39.3 164.4Z"/><path d="M63.6 150.3L65.5 152.2L63.6 154.1L65.5 156.0L63.6 157.9L61.7 156.0L59.8 157.9L57.9 156.0L59.8 154.1L57.9 152.2L59.8 150.3L61.7 152.2Z"/><path d="M59.5 156.4L61.4 158.3L59.5 160.2L61.4 162.1L59.5 164.0L57.6 162.1L55.7 164.0L53.8 162.1L55.7 160.2L53.8 158.3L55.7 156.4L57.6 158.3Z"/><path d="M67.0 157.1L68.9 159.0L67.0 160.9L68.9 162.8L67.0 164.7L65.1 162.8L63.2 164.7L61.3 162.8L63.2 160.9L61.3 159.0L63.2 157.1L65.1 159.0Z"/><path d="M60.9 161.8L62.8 163.7L60.9 165.6L62.8 167.5L60.9 169.4L59.0 167.5L57.1 169.4L55.2 167.5L57.1 165.6L55.2 163.7L57.1 161.8L59.0 163.7Z"/><path d="M64.9 161.1L66.8 163.0L64.9 164.9L66.8 166.8L64.9 168.7L63.0 166.8L61.1 168.7L59.2 166.8L61.1 164.9L59.2 163.0L61.1 161.1L63.0 163.0Z"/><path d="M81.8 154.4L83.7 156.3L81.8 158.2L83.7 160.1L81.8 162.0L79.9 160.1L78.0 162.0L76.1 160.1L78.0 158.2L76.1 156.3L78.0 154.4L79.9 156.3Z"/></g></g><rect x="0.7" y="0.7" width="298" height="193" fill="none" stroke="#333" stroke-width="1.25"/></svg></div>


<div class="cap" style="left:2.5px;top:276px">(a)<span class="g"></span>Training data</div>
<div class="cap" style="left:319.5px;top:276px">(b)<span class="g"></span>Unsupervised AD (OC-SVM)</div>
<div class="cap" style="left:636px;top:276px">(c)<span class="g"></span>Supervised classifier (SVM)</div>
<div class="cap" style="left:2.5px;top:539px">(d)<span class="g"></span>Semi-supervised classifier</div>
<div class="cap" style="left:319.5px;top:539px">(e)<span class="g"></span>Semi-supervised LPUE</div>
<div class="cap" style="left:636px;top:539px">(f)<span class="g"></span>Semi-supervised AD (ours)</div>

<div class="para" style="top:595px">
<div class="ln">Figure 1: The need for semi-supervised anomaly detection: The training data (shown in (a)) consists</div>
<div class="ln">of (mostly normal) unlabeled data (gray) as well as a few labeled normal samples (blue) and labeled</div>
<div class="ln">anomalies (orange). Figures (b)–(f) show the decision boundaries of the various learning paradigms</div>
<div class="ln" style="letter-spacing:-0.06px">at testing time along with novel anomalies that occur (bottom left in each plot). Our semi-supervised</div>
<div class="ln">AD approach takes advantage of all training data: unlabeled samples, labeled normal samples, as</div>
<div class="ln last" style="word-spacing:0.5px">well as labeled anomalies. This strikes a balance between one-class learning and classification.</div>
</div>
</body></html>
